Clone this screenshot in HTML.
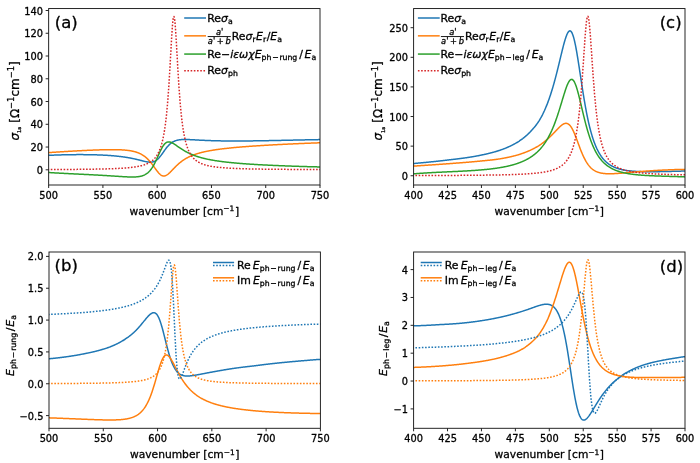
<!DOCTYPE html>
<html lang="en"><head><meta charset="utf-8"><title>figure</title>
<style>html,body{margin:0;padding:0;background:#fff}svg{display:block;will-change:transform}</style></head>
<body>
<svg width="700" height="463" viewBox="0 0 700 463" font-family='"DejaVu Sans","Liberation Sans",sans-serif' fill="#000">
<style>text{stroke:#000;stroke-width:0.3px;stroke-linejoin:round}</style>
<rect width="700" height="463" fill="#fff"/>
<defs>
<clipPath id="clipa"><rect x="48.65" y="8.55" width="271.35" height="176.45"/></clipPath>
<clipPath id="clipc"><rect x="413.6" y="8.55" width="271.40" height="176.45"/></clipPath>
<clipPath id="clipb"><rect x="49.0" y="252.0" width="271.40" height="176.30"/></clipPath>
<clipPath id="clipd"><rect x="413.6" y="252.0" width="271.40" height="176.30"/></clipPath>
</defs>
<path d="M47.56,155.40 L47.96,155.39 L48.35,155.37 L48.74,155.35 L49.13,155.33 L49.52,155.31 L49.91,155.30 L50.30,155.28 L50.70,155.26 L51.09,155.24 L51.48,155.23 L51.87,155.21 L52.26,155.19 L52.65,155.18 L53.04,155.16 L53.43,155.15 L53.83,155.13 L54.22,155.12 L54.61,155.10 L55.00,155.09 L55.39,155.07 L55.78,155.06 L56.17,155.04 L56.56,155.03 L56.96,155.02 L57.35,155.00 L57.74,154.99 L58.13,154.98 L58.52,154.97 L58.91,154.95 L59.30,154.94 L59.69,154.93 L60.09,154.92 L60.48,154.91 L60.87,154.89 L61.26,154.88 L61.65,154.87 L62.04,154.86 L62.43,154.85 L62.83,154.84 L63.22,154.83 L63.61,154.82 L64.00,154.81 L64.39,154.80 L64.78,154.79 L65.17,154.78 L65.56,154.78 L65.96,154.77 L66.35,154.76 L66.74,154.75 L67.13,154.74 L67.52,154.74 L67.91,154.73 L68.30,154.72 L68.69,154.71 L69.09,154.71 L69.48,154.70 L69.87,154.69 L70.26,154.69 L70.65,154.68 L71.04,154.68 L71.43,154.67 L71.83,154.67 L72.22,154.66 L72.61,154.66 L73.00,154.65 L73.39,154.65 L73.78,154.65 L74.17,154.64 L74.56,154.64 L74.96,154.63 L75.35,154.63 L75.74,154.63 L76.13,154.63 L76.52,154.62 L76.91,154.62 L77.30,154.62 L77.69,154.62 L78.09,154.62 L78.48,154.62 L78.87,154.62 L79.26,154.62 L79.65,154.61 L80.04,154.61 L80.43,154.61 L80.83,154.62 L81.22,154.62 L81.61,154.62 L82.00,154.62 L82.39,154.62 L82.78,154.62 L83.17,154.62 L83.56,154.63 L83.96,154.63 L84.35,154.63 L84.74,154.63 L85.13,154.64 L85.52,154.64 L85.91,154.64 L86.30,154.65 L86.69,154.65 L87.09,154.66 L87.48,154.66 L87.87,154.67 L88.26,154.67 L88.65,154.68 L89.04,154.69 L89.43,154.69 L89.83,154.70 L90.22,154.71 L90.61,154.71 L91.00,154.72 L91.39,154.73 L91.78,154.74 L92.17,154.75 L92.56,154.75 L92.96,154.76 L93.35,154.77 L93.74,154.78 L94.13,154.79 L94.52,154.80 L94.91,154.81 L95.30,154.83 L95.69,154.84 L96.09,154.85 L96.48,154.86 L96.87,154.87 L97.26,154.89 L97.65,154.90 L98.04,154.91 L98.43,154.93 L98.83,154.94 L99.22,154.96 L99.61,154.97 L100.00,154.99 L100.39,155.01 L100.78,155.02 L101.17,155.04 L101.56,155.06 L101.96,155.07 L102.35,155.09 L102.74,155.11 L103.13,155.13 L103.52,155.15 L103.91,155.17 L104.30,155.19 L104.69,155.21 L105.09,155.23 L105.48,155.25 L105.87,155.28 L106.26,155.30 L106.65,155.32 L107.04,155.35 L107.43,155.37 L107.83,155.39 L108.22,155.42 L108.61,155.45 L109.00,155.47 L109.39,155.50 L109.78,155.53 L110.17,155.55 L110.56,155.58 L110.96,155.61 L111.35,155.64 L111.74,155.67 L112.13,155.70 L112.52,155.74 L112.91,155.77 L113.30,155.80 L113.69,155.83 L114.09,155.87 L114.48,155.90 L114.87,155.94 L115.26,155.98 L115.65,156.01 L116.04,156.05 L116.43,156.09 L116.83,156.13 L117.22,156.17 L117.61,156.21 L118.00,156.25 L118.39,156.29 L118.78,156.34 L119.17,156.38 L119.56,156.43 L119.96,156.47 L120.35,156.52 L120.74,156.57 L121.13,156.62 L121.52,156.66 L121.91,156.71 L122.30,156.77 L122.69,156.82 L123.09,156.87 L123.48,156.93 L123.87,156.98 L124.26,157.04 L124.65,157.09 L125.04,157.15 L125.43,157.21 L125.83,157.27 L126.22,157.33 L126.61,157.39 L127.00,157.46 L127.39,157.52 L127.78,157.59 L128.17,157.66 L128.56,157.72 L128.96,157.79 L129.35,157.86 L129.74,157.94 L130.13,158.01 L130.52,158.08 L130.91,158.16 L131.30,158.23 L131.69,158.31 L132.09,158.39 L132.48,158.47 L132.87,158.55 L133.26,158.63 L133.65,158.72 L134.04,158.80 L134.43,158.89 L134.83,158.98 L135.22,159.06 L135.61,159.15 L136.00,159.25 L136.39,159.34 L136.78,159.43 L137.17,159.52 L137.56,159.62 L137.96,159.71 L138.35,159.81 L138.74,159.91 L139.13,160.01 L139.52,160.10 L139.91,160.20 L140.30,160.30 L140.69,160.40 L141.09,160.50 L141.48,160.60 L141.87,160.70 L142.26,160.80 L142.65,160.90 L143.04,160.99 L143.43,161.09 L143.83,161.18 L144.22,161.28 L144.61,161.37 L145.00,161.45 L145.39,161.54 L145.78,161.62 L146.17,161.70 L146.56,161.78 L146.96,161.85 L147.35,161.91 L147.74,161.97 L148.13,162.03 L148.52,162.07 L148.91,162.11 L149.30,162.14 L149.69,162.16 L150.09,162.17 L150.48,162.17 L150.87,162.16 L151.26,162.14 L151.65,162.10 L152.04,162.05 L152.43,161.98 L152.83,161.90 L153.22,161.80 L153.61,161.68 L154.00,161.54 L154.39,161.38 L154.78,161.21 L155.17,161.01 L155.56,160.78 L155.96,160.54 L156.35,160.27 L156.74,159.98 L157.13,159.67 L157.52,159.33 L157.91,158.97 L158.30,158.59 L158.69,158.19 L159.09,157.76 L159.48,157.32 L159.87,156.85 L160.26,156.37 L160.65,155.87 L161.04,155.36 L161.43,154.83 L161.83,154.30 L162.22,153.75 L162.61,153.20 L163.00,152.65 L163.39,152.09 L163.78,151.53 L164.17,150.98 L164.56,150.43 L164.96,149.88 L165.35,149.35 L165.74,148.82 L166.13,148.31 L166.52,147.80 L166.91,147.31 L167.30,146.84 L167.69,146.38 L168.09,145.94 L168.48,145.52 L168.87,145.11 L169.26,144.72 L169.65,144.35 L170.04,143.99 L170.43,143.66 L170.83,143.34 L171.22,143.04 L171.61,142.75 L172.00,142.48 L172.39,142.23 L172.78,142.00 L173.17,141.77 L173.56,141.57 L173.96,141.38 L174.35,141.20 L174.74,141.03 L175.13,140.87 L175.52,140.73 L175.91,140.60 L176.30,140.48 L176.69,140.37 L177.09,140.26 L177.48,140.17 L177.87,140.08 L178.26,140.01 L178.65,139.94 L179.04,139.87 L179.43,139.82 L179.83,139.77 L180.22,139.72 L180.61,139.68 L181.00,139.64 L181.39,139.61 L181.78,139.59 L182.17,139.57 L182.56,139.55 L182.96,139.53 L183.35,139.52 L183.74,139.51 L184.13,139.51 L184.52,139.50 L184.91,139.50 L185.30,139.50 L185.69,139.51 L186.09,139.51 L186.48,139.52 L186.87,139.53 L187.26,139.54 L187.65,139.55 L188.04,139.56 L188.43,139.57 L188.82,139.59 L189.22,139.60 L189.61,139.62 L190.00,139.64 L190.39,139.65 L190.78,139.67 L191.17,139.69 L191.56,139.71 L191.96,139.73 L192.35,139.75 L192.74,139.77 L193.13,139.79 L193.52,139.81 L193.91,139.83 L194.30,139.85 L194.69,139.87 L195.09,139.90 L195.48,139.92 L195.87,139.94 L196.26,139.96 L196.65,139.98 L197.04,140.00 L197.43,140.02 L197.82,140.04 L198.22,140.06 L198.61,140.09 L199.00,140.11 L199.39,140.13 L199.78,140.15 L200.17,140.17 L200.56,140.19 L200.96,140.21 L201.35,140.23 L201.74,140.25 L202.13,140.27 L202.52,140.28 L202.91,140.30 L203.30,140.32 L203.69,140.34 L204.09,140.36 L204.48,140.37 L204.87,140.39 L205.26,140.41 L205.65,140.43 L206.04,140.44 L206.43,140.46 L206.82,140.48 L207.22,140.49 L207.61,140.51 L208.00,140.52 L208.39,140.54 L208.78,140.55 L209.17,140.57 L209.56,140.58 L209.96,140.59 L210.35,140.61 L210.74,140.62 L211.13,140.63 L211.52,140.65 L211.91,140.66 L212.30,140.67 L212.69,140.68 L213.09,140.70 L213.48,140.71 L213.87,140.72 L214.26,140.73 L214.65,140.74 L215.04,140.75 L215.43,140.76 L215.82,140.77 L216.22,140.78 L216.61,140.79 L217.00,140.80 L217.39,140.81 L217.78,140.82 L218.17,140.83 L218.56,140.83 L218.96,140.84 L219.35,140.85 L219.74,140.86 L220.13,140.87 L220.52,140.87 L220.91,140.88 L221.30,140.89 L221.69,140.89 L222.09,140.90 L222.48,140.91 L222.87,140.91 L223.26,140.92 L223.65,140.92 L224.04,140.93 L224.43,140.93 L224.82,140.94 L225.22,140.94 L225.61,140.95 L226.00,140.95 L226.39,140.95 L226.78,140.96 L227.17,140.96 L227.56,140.97 L227.96,140.97 L228.35,140.97 L228.74,140.97 L229.13,140.98 L229.52,140.98 L229.91,140.98 L230.30,140.98 L230.69,140.99 L231.09,140.99 L231.48,140.99 L231.87,140.99 L232.26,140.99 L232.65,140.99 L233.04,141.00 L233.43,141.00 L233.82,141.00 L234.22,141.00 L234.61,141.00 L235.00,141.00 L235.39,141.00 L235.78,141.00 L236.17,141.00 L236.56,141.00 L236.96,141.00 L237.35,141.00 L237.74,141.00 L238.13,141.00 L238.52,140.99 L238.91,140.99 L239.30,140.99 L239.69,140.99 L240.09,140.99 L240.48,140.99 L240.87,140.99 L241.26,140.98 L241.65,140.98 L242.04,140.98 L242.43,140.98 L242.82,140.98 L243.22,140.97 L243.61,140.97 L244.00,140.97 L244.39,140.97 L244.78,140.96 L245.17,140.96 L245.56,140.96 L245.96,140.95 L246.35,140.95 L246.74,140.95 L247.13,140.94 L247.52,140.94 L247.91,140.94 L248.30,140.93 L248.69,140.93 L249.09,140.92 L249.48,140.92 L249.87,140.92 L250.26,140.91 L250.65,140.91 L251.04,140.90 L251.43,140.90 L251.82,140.89 L252.22,140.89 L252.61,140.88 L253.00,140.88 L253.39,140.87 L253.78,140.87 L254.17,140.86 L254.56,140.86 L254.96,140.85 L255.35,140.85 L255.74,140.84 L256.13,140.84 L256.52,140.83 L256.91,140.83 L257.30,140.82 L257.69,140.81 L258.09,140.81 L258.48,140.80 L258.87,140.80 L259.26,140.79 L259.65,140.79 L260.04,140.78 L260.43,140.77 L260.82,140.77 L261.22,140.76 L261.61,140.75 L262.00,140.75 L262.39,140.74 L262.78,140.73 L263.17,140.73 L263.56,140.72 L263.96,140.71 L264.35,140.71 L264.74,140.70 L265.13,140.69 L265.52,140.69 L265.91,140.68 L266.30,140.67 L266.69,140.67 L267.09,140.66 L267.48,140.65 L267.87,140.64 L268.26,140.64 L268.65,140.63 L269.04,140.62 L269.43,140.61 L269.82,140.61 L270.22,140.60 L270.61,140.59 L271.00,140.59 L271.39,140.58 L271.78,140.57 L272.17,140.56 L272.56,140.55 L272.96,140.55 L273.35,140.54 L273.74,140.53 L274.13,140.52 L274.52,140.52 L274.91,140.51 L275.30,140.50 L275.69,140.49 L276.09,140.48 L276.48,140.48 L276.87,140.47 L277.26,140.46 L277.65,140.45 L278.04,140.44 L278.43,140.44 L278.82,140.43 L279.22,140.42 L279.61,140.41 L280.00,140.40 L280.39,140.40 L280.78,140.39 L281.17,140.38 L281.56,140.37 L281.96,140.36 L282.35,140.35 L282.74,140.35 L283.13,140.34 L283.52,140.33 L283.91,140.32 L284.30,140.31 L284.69,140.30 L285.09,140.30 L285.48,140.29 L285.87,140.28 L286.26,140.27 L286.65,140.26 L287.04,140.25 L287.43,140.25 L287.82,140.24 L288.22,140.23 L288.61,140.22 L289.00,140.21 L289.39,140.20 L289.78,140.20 L290.17,140.19 L290.56,140.18 L290.96,140.17 L291.35,140.16 L291.74,140.15 L292.13,140.15 L292.52,140.14 L292.91,140.13 L293.30,140.12 L293.69,140.11 L294.09,140.10 L294.48,140.10 L294.87,140.09 L295.26,140.08 L295.65,140.07 L296.04,140.06 L296.43,140.05 L296.82,140.05 L297.22,140.04 L297.61,140.03 L298.00,140.02 L298.39,140.01 L298.78,140.00 L299.17,140.00 L299.56,139.99 L299.96,139.98 L300.35,139.97 L300.74,139.96 L301.13,139.96 L301.52,139.95 L301.91,139.94 L302.30,139.93 L302.69,139.92 L303.09,139.91 L303.48,139.91 L303.87,139.90 L304.26,139.89 L304.65,139.88 L305.04,139.87 L305.43,139.87 L305.82,139.86 L306.22,139.85 L306.61,139.84 L307.00,139.84 L307.39,139.83 L307.78,139.82 L308.17,139.81 L308.56,139.80 L308.96,139.80 L309.35,139.79 L309.74,139.78 L310.13,139.77 L310.52,139.77 L310.91,139.76 L311.30,139.75 L311.69,139.74 L312.09,139.74 L312.48,139.73 L312.87,139.72 L313.26,139.71 L313.65,139.71 L314.04,139.70 L314.43,139.69 L314.82,139.69 L315.22,139.68 L315.61,139.67 L316.00,139.66 L316.39,139.66 L316.78,139.65 L317.17,139.64 L317.56,139.64 L317.95,139.63 L318.35,139.62 L318.74,139.62 L319.13,139.61 L319.52,139.60 L319.91,139.60 L320.30,139.59 L320.69,139.58 L321.09,139.58" fill="none" stroke="#1f77b4" stroke-width="1.5" stroke-linejoin="round" clip-path="url(#clipa)"/>
<path d="M47.56,152.68 L47.96,152.65 L48.35,152.62 L48.74,152.60 L49.13,152.57 L49.52,152.54 L49.91,152.52 L50.30,152.49 L50.70,152.46 L51.09,152.44 L51.48,152.41 L51.87,152.39 L52.26,152.36 L52.65,152.33 L53.04,152.31 L53.43,152.28 L53.83,152.26 L54.22,152.23 L54.61,152.21 L55.00,152.18 L55.39,152.16 L55.78,152.13 L56.17,152.11 L56.56,152.08 L56.96,152.06 L57.35,152.03 L57.74,152.01 L58.13,151.98 L58.52,151.96 L58.91,151.93 L59.30,151.91 L59.69,151.88 L60.09,151.86 L60.48,151.83 L60.87,151.81 L61.26,151.79 L61.65,151.76 L62.04,151.74 L62.43,151.71 L62.83,151.69 L63.22,151.67 L63.61,151.64 L64.00,151.62 L64.39,151.59 L64.78,151.57 L65.17,151.55 L65.56,151.52 L65.96,151.50 L66.35,151.48 L66.74,151.45 L67.13,151.43 L67.52,151.41 L67.91,151.39 L68.30,151.36 L68.69,151.34 L69.09,151.32 L69.48,151.29 L69.87,151.27 L70.26,151.25 L70.65,151.23 L71.04,151.20 L71.43,151.18 L71.83,151.16 L72.22,151.14 L72.61,151.12 L73.00,151.09 L73.39,151.07 L73.78,151.05 L74.17,151.03 L74.56,151.01 L74.96,150.99 L75.35,150.97 L75.74,150.94 L76.13,150.92 L76.52,150.90 L76.91,150.88 L77.30,150.86 L77.69,150.84 L78.09,150.82 L78.48,150.80 L78.87,150.78 L79.26,150.76 L79.65,150.74 L80.04,150.72 L80.43,150.70 L80.83,150.68 L81.22,150.66 L81.61,150.64 L82.00,150.62 L82.39,150.60 L82.78,150.58 L83.17,150.56 L83.56,150.54 L83.96,150.52 L84.35,150.50 L84.74,150.48 L85.13,150.46 L85.52,150.44 L85.91,150.43 L86.30,150.41 L86.69,150.39 L87.09,150.37 L87.48,150.35 L87.87,150.33 L88.26,150.32 L88.65,150.30 L89.04,150.28 L89.43,150.26 L89.83,150.25 L90.22,150.23 L90.61,150.21 L91.00,150.20 L91.39,150.18 L91.78,150.16 L92.17,150.15 L92.56,150.13 L92.96,150.11 L93.35,150.10 L93.74,150.08 L94.13,150.07 L94.52,150.05 L94.91,150.04 L95.30,150.02 L95.69,150.01 L96.09,149.99 L96.48,149.98 L96.87,149.96 L97.26,149.95 L97.65,149.94 L98.04,149.92 L98.43,149.91 L98.83,149.90 L99.22,149.88 L99.61,149.87 L100.00,149.86 L100.39,149.85 L100.78,149.84 L101.17,149.82 L101.56,149.81 L101.96,149.80 L102.35,149.79 L102.74,149.78 L103.13,149.77 L103.52,149.76 L103.91,149.75 L104.30,149.74 L104.69,149.73 L105.09,149.73 L105.48,149.72 L105.87,149.71 L106.26,149.70 L106.65,149.70 L107.04,149.69 L107.43,149.68 L107.83,149.68 L108.22,149.67 L108.61,149.67 L109.00,149.66 L109.39,149.66 L109.78,149.65 L110.17,149.65 L110.56,149.65 L110.96,149.65 L111.35,149.65 L111.74,149.64 L112.13,149.64 L112.52,149.64 L112.91,149.64 L113.30,149.65 L113.69,149.65 L114.09,149.65 L114.48,149.65 L114.87,149.66 L115.26,149.66 L115.65,149.67 L116.04,149.68 L116.43,149.68 L116.83,149.69 L117.22,149.70 L117.61,149.71 L118.00,149.72 L118.39,149.73 L118.78,149.74 L119.17,149.76 L119.56,149.77 L119.96,149.79 L120.35,149.80 L120.74,149.82 L121.13,149.84 L121.52,149.86 L121.91,149.88 L122.30,149.91 L122.69,149.93 L123.09,149.96 L123.48,149.98 L123.87,150.01 L124.26,150.04 L124.65,150.07 L125.04,150.11 L125.43,150.14 L125.83,150.18 L126.22,150.22 L126.61,150.26 L127.00,150.30 L127.39,150.35 L127.78,150.39 L128.17,150.44 L128.56,150.50 L128.96,150.55 L129.35,150.61 L129.74,150.67 L130.13,150.73 L130.52,150.79 L130.91,150.86 L131.30,150.93 L131.69,151.01 L132.09,151.08 L132.48,151.16 L132.87,151.25 L133.26,151.34 L133.65,151.43 L134.04,151.52 L134.43,151.62 L134.83,151.73 L135.22,151.84 L135.61,151.95 L136.00,152.07 L136.39,152.19 L136.78,152.32 L137.17,152.46 L137.56,152.60 L137.96,152.74 L138.35,152.90 L138.74,153.06 L139.13,153.22 L139.52,153.39 L139.91,153.57 L140.30,153.76 L140.69,153.95 L141.09,154.16 L141.48,154.37 L141.87,154.59 L142.26,154.81 L142.65,155.05 L143.04,155.30 L143.43,155.55 L143.83,155.82 L144.22,156.10 L144.61,156.38 L145.00,156.68 L145.39,156.99 L145.78,157.31 L146.17,157.64 L146.56,157.99 L146.96,158.35 L147.35,158.72 L147.74,159.10 L148.13,159.49 L148.52,159.90 L148.91,160.32 L149.30,160.75 L149.69,161.19 L150.09,161.65 L150.48,162.12 L150.87,162.60 L151.26,163.09 L151.65,163.59 L152.04,164.10 L152.43,164.62 L152.83,165.15 L153.22,165.69 L153.61,166.23 L154.00,166.77 L154.39,167.32 L154.78,167.87 L155.17,168.42 L155.56,168.97 L155.96,169.51 L156.35,170.04 L156.74,170.57 L157.13,171.08 L157.52,171.59 L157.91,172.07 L158.30,172.54 L158.69,172.98 L159.09,173.40 L159.48,173.80 L159.87,174.17 L160.26,174.51 L160.65,174.81 L161.04,175.09 L161.43,175.32 L161.83,175.53 L162.22,175.69 L162.61,175.82 L163.00,175.92 L163.39,175.97 L163.78,175.99 L164.17,175.98 L164.56,175.92 L164.96,175.84 L165.35,175.72 L165.74,175.56 L166.13,175.38 L166.52,175.17 L166.91,174.94 L167.30,174.68 L167.69,174.40 L168.09,174.09 L168.48,173.77 L168.87,173.43 L169.26,173.08 L169.65,172.72 L170.04,172.34 L170.43,171.96 L170.83,171.56 L171.22,171.16 L171.61,170.76 L172.00,170.35 L172.39,169.95 L172.78,169.54 L173.17,169.13 L173.56,168.72 L173.96,168.31 L174.35,167.91 L174.74,167.51 L175.13,167.11 L175.52,166.72 L175.91,166.33 L176.30,165.95 L176.69,165.57 L177.09,165.20 L177.48,164.84 L177.87,164.48 L178.26,164.13 L178.65,163.78 L179.04,163.44 L179.43,163.11 L179.83,162.78 L180.22,162.47 L180.61,162.15 L181.00,161.85 L181.39,161.55 L181.78,161.26 L182.17,160.97 L182.56,160.69 L182.96,160.42 L183.35,160.15 L183.74,159.89 L184.13,159.64 L184.52,159.39 L184.91,159.14 L185.30,158.90 L185.69,158.67 L186.09,158.44 L186.48,158.22 L186.87,158.01 L187.26,157.79 L187.65,157.59 L188.04,157.38 L188.43,157.19 L188.82,156.99 L189.22,156.80 L189.61,156.62 L190.00,156.44 L190.39,156.26 L190.78,156.09 L191.17,155.92 L191.56,155.75 L191.96,155.59 L192.35,155.43 L192.74,155.27 L193.13,155.12 L193.52,154.97 L193.91,154.83 L194.30,154.68 L194.69,154.54 L195.09,154.41 L195.48,154.27 L195.87,154.14 L196.26,154.01 L196.65,153.88 L197.04,153.76 L197.43,153.64 L197.82,153.52 L198.22,153.40 L198.61,153.29 L199.00,153.17 L199.39,153.06 L199.78,152.95 L200.17,152.85 L200.56,152.74 L200.96,152.64 L201.35,152.54 L201.74,152.44 L202.13,152.34 L202.52,152.24 L202.91,152.15 L203.30,152.06 L203.69,151.97 L204.09,151.88 L204.48,151.79 L204.87,151.70 L205.26,151.62 L205.65,151.53 L206.04,151.45 L206.43,151.37 L206.82,151.29 L207.22,151.21 L207.61,151.13 L208.00,151.05 L208.39,150.98 L208.78,150.90 L209.17,150.83 L209.56,150.76 L209.96,150.69 L210.35,150.62 L210.74,150.55 L211.13,150.48 L211.52,150.41 L211.91,150.35 L212.30,150.28 L212.69,150.22 L213.09,150.15 L213.48,150.09 L213.87,150.03 L214.26,149.97 L214.65,149.91 L215.04,149.85 L215.43,149.79 L215.82,149.73 L216.22,149.67 L216.61,149.61 L217.00,149.56 L217.39,149.50 L217.78,149.45 L218.17,149.39 L218.56,149.34 L218.96,149.29 L219.35,149.23 L219.74,149.18 L220.13,149.13 L220.52,149.08 L220.91,149.03 L221.30,148.98 L221.69,148.93 L222.09,148.88 L222.48,148.83 L222.87,148.79 L223.26,148.74 L223.65,148.69 L224.04,148.65 L224.43,148.60 L224.82,148.56 L225.22,148.51 L225.61,148.47 L226.00,148.42 L226.39,148.38 L226.78,148.34 L227.17,148.29 L227.56,148.25 L227.96,148.21 L228.35,148.17 L228.74,148.13 L229.13,148.09 L229.52,148.04 L229.91,148.00 L230.30,147.97 L230.69,147.93 L231.09,147.89 L231.48,147.85 L231.87,147.81 L232.26,147.77 L232.65,147.73 L233.04,147.70 L233.43,147.66 L233.82,147.62 L234.22,147.59 L234.61,147.55 L235.00,147.51 L235.39,147.48 L235.78,147.44 L236.17,147.41 L236.56,147.37 L236.96,147.34 L237.35,147.30 L237.74,147.27 L238.13,147.23 L238.52,147.20 L238.91,147.17 L239.30,147.13 L239.69,147.10 L240.09,147.07 L240.48,147.03 L240.87,147.00 L241.26,146.97 L241.65,146.94 L242.04,146.91 L242.43,146.87 L242.82,146.84 L243.22,146.81 L243.61,146.78 L244.00,146.75 L244.39,146.72 L244.78,146.69 L245.17,146.66 L245.56,146.63 L245.96,146.60 L246.35,146.57 L246.74,146.54 L247.13,146.51 L247.52,146.48 L247.91,146.45 L248.30,146.42 L248.69,146.40 L249.09,146.37 L249.48,146.34 L249.87,146.31 L250.26,146.28 L250.65,146.26 L251.04,146.23 L251.43,146.20 L251.82,146.17 L252.22,146.15 L252.61,146.12 L253.00,146.09 L253.39,146.07 L253.78,146.04 L254.17,146.01 L254.56,145.99 L254.96,145.96 L255.35,145.93 L255.74,145.91 L256.13,145.88 L256.52,145.86 L256.91,145.83 L257.30,145.80 L257.69,145.78 L258.09,145.75 L258.48,145.73 L258.87,145.70 L259.26,145.68 L259.65,145.65 L260.04,145.63 L260.43,145.61 L260.82,145.58 L261.22,145.56 L261.61,145.53 L262.00,145.51 L262.39,145.48 L262.78,145.46 L263.17,145.44 L263.56,145.41 L263.96,145.39 L264.35,145.37 L264.74,145.34 L265.13,145.32 L265.52,145.30 L265.91,145.27 L266.30,145.25 L266.69,145.23 L267.09,145.21 L267.48,145.18 L267.87,145.16 L268.26,145.14 L268.65,145.12 L269.04,145.09 L269.43,145.07 L269.82,145.05 L270.22,145.03 L270.61,145.00 L271.00,144.98 L271.39,144.96 L271.78,144.94 L272.17,144.92 L272.56,144.90 L272.96,144.87 L273.35,144.85 L273.74,144.83 L274.13,144.81 L274.52,144.79 L274.91,144.77 L275.30,144.75 L275.69,144.73 L276.09,144.71 L276.48,144.69 L276.87,144.67 L277.26,144.64 L277.65,144.62 L278.04,144.60 L278.43,144.58 L278.82,144.56 L279.22,144.54 L279.61,144.52 L280.00,144.50 L280.39,144.48 L280.78,144.46 L281.17,144.44 L281.56,144.42 L281.96,144.40 L282.35,144.38 L282.74,144.36 L283.13,144.35 L283.52,144.33 L283.91,144.31 L284.30,144.29 L284.69,144.27 L285.09,144.25 L285.48,144.23 L285.87,144.21 L286.26,144.19 L286.65,144.17 L287.04,144.15 L287.43,144.14 L287.82,144.12 L288.22,144.10 L288.61,144.08 L289.00,144.06 L289.39,144.04 L289.78,144.02 L290.17,144.01 L290.56,143.99 L290.96,143.97 L291.35,143.95 L291.74,143.93 L292.13,143.92 L292.52,143.90 L292.91,143.88 L293.30,143.86 L293.69,143.84 L294.09,143.83 L294.48,143.81 L294.87,143.79 L295.26,143.77 L295.65,143.76 L296.04,143.74 L296.43,143.72 L296.82,143.70 L297.22,143.69 L297.61,143.67 L298.00,143.65 L298.39,143.64 L298.78,143.62 L299.17,143.60 L299.56,143.58 L299.96,143.57 L300.35,143.55 L300.74,143.53 L301.13,143.52 L301.52,143.50 L301.91,143.48 L302.30,143.47 L302.69,143.45 L303.09,143.44 L303.48,143.42 L303.87,143.40 L304.26,143.39 L304.65,143.37 L305.04,143.35 L305.43,143.34 L305.82,143.32 L306.22,143.31 L306.61,143.29 L307.00,143.27 L307.39,143.26 L307.78,143.24 L308.17,143.23 L308.56,143.21 L308.96,143.20 L309.35,143.18 L309.74,143.16 L310.13,143.15 L310.52,143.13 L310.91,143.12 L311.30,143.10 L311.69,143.09 L312.09,143.07 L312.48,143.06 L312.87,143.04 L313.26,143.03 L313.65,143.01 L314.04,143.00 L314.43,142.98 L314.82,142.97 L315.22,142.95 L315.61,142.94 L316.00,142.92 L316.39,142.91 L316.78,142.89 L317.17,142.88 L317.56,142.86 L317.95,142.85 L318.35,142.84 L318.74,142.82 L319.13,142.81 L319.52,142.79 L319.91,142.78 L320.30,142.76 L320.69,142.75 L321.09,142.74" fill="none" stroke="#ff7f0e" stroke-width="1.5" stroke-linejoin="round" clip-path="url(#clipa)"/>
<path d="M47.56,172.44 L47.96,172.47 L48.35,172.49 L48.74,172.52 L49.13,172.54 L49.52,172.57 L49.91,172.59 L50.30,172.62 L50.70,172.64 L51.09,172.67 L51.48,172.69 L51.87,172.71 L52.26,172.74 L52.65,172.76 L53.04,172.78 L53.43,172.81 L53.83,172.83 L54.22,172.85 L54.61,172.88 L55.00,172.90 L55.39,172.92 L55.78,172.94 L56.17,172.97 L56.56,172.99 L56.96,173.01 L57.35,173.03 L57.74,173.06 L58.13,173.08 L58.52,173.10 L58.91,173.12 L59.30,173.14 L59.69,173.16 L60.09,173.19 L60.48,173.21 L60.87,173.23 L61.26,173.25 L61.65,173.27 L62.04,173.29 L62.43,173.31 L62.83,173.33 L63.22,173.35 L63.61,173.37 L64.00,173.39 L64.39,173.42 L64.78,173.44 L65.17,173.46 L65.56,173.48 L65.96,173.50 L66.35,173.52 L66.74,173.54 L67.13,173.56 L67.52,173.58 L67.91,173.60 L68.30,173.62 L68.69,173.64 L69.09,173.66 L69.48,173.68 L69.87,173.70 L70.26,173.71 L70.65,173.73 L71.04,173.75 L71.43,173.77 L71.83,173.79 L72.22,173.81 L72.61,173.83 L73.00,173.85 L73.39,173.87 L73.78,173.89 L74.17,173.91 L74.56,173.93 L74.96,173.95 L75.35,173.97 L75.74,173.99 L76.13,174.01 L76.52,174.02 L76.91,174.04 L77.30,174.06 L77.69,174.08 L78.09,174.10 L78.48,174.12 L78.87,174.14 L79.26,174.16 L79.65,174.18 L80.04,174.20 L80.43,174.22 L80.83,174.24 L81.22,174.25 L81.61,174.27 L82.00,174.29 L82.39,174.31 L82.78,174.33 L83.17,174.35 L83.56,174.37 L83.96,174.39 L84.35,174.41 L84.74,174.43 L85.13,174.45 L85.52,174.47 L85.91,174.49 L86.30,174.51 L86.69,174.53 L87.09,174.54 L87.48,174.56 L87.87,174.58 L88.26,174.60 L88.65,174.62 L89.04,174.64 L89.43,174.66 L89.83,174.68 L90.22,174.70 L90.61,174.72 L91.00,174.74 L91.39,174.76 L91.78,174.78 L92.17,174.80 L92.56,174.82 L92.96,174.84 L93.35,174.87 L93.74,174.89 L94.13,174.91 L94.52,174.93 L94.91,174.95 L95.30,174.97 L95.69,174.99 L96.09,175.01 L96.48,175.03 L96.87,175.05 L97.26,175.07 L97.65,175.10 L98.04,175.12 L98.43,175.14 L98.83,175.16 L99.22,175.18 L99.61,175.20 L100.00,175.23 L100.39,175.25 L100.78,175.27 L101.17,175.29 L101.56,175.32 L101.96,175.34 L102.35,175.36 L102.74,175.38 L103.13,175.41 L103.52,175.43 L103.91,175.45 L104.30,175.47 L104.69,175.50 L105.09,175.52 L105.48,175.54 L105.87,175.57 L106.26,175.59 L106.65,175.61 L107.04,175.64 L107.43,175.66 L107.83,175.69 L108.22,175.71 L108.61,175.73 L109.00,175.76 L109.39,175.78 L109.78,175.81 L110.17,175.83 L110.56,175.86 L110.96,175.88 L111.35,175.91 L111.74,175.93 L112.13,175.96 L112.52,175.98 L112.91,176.01 L113.30,176.03 L113.69,176.06 L114.09,176.08 L114.48,176.11 L114.87,176.13 L115.26,176.16 L115.65,176.18 L116.04,176.21 L116.43,176.23 L116.83,176.26 L117.22,176.29 L117.61,176.31 L118.00,176.34 L118.39,176.36 L118.78,176.39 L119.17,176.41 L119.56,176.44 L119.96,176.46 L120.35,176.49 L120.74,176.51 L121.13,176.53 L121.52,176.56 L121.91,176.58 L122.30,176.61 L122.69,176.63 L123.09,176.65 L123.48,176.68 L123.87,176.70 L124.26,176.72 L124.65,176.74 L125.04,176.76 L125.43,176.78 L125.83,176.80 L126.22,176.82 L126.61,176.84 L127.00,176.86 L127.39,176.88 L127.78,176.89 L128.17,176.91 L128.56,176.92 L128.96,176.94 L129.35,176.95 L129.74,176.96 L130.13,176.97 L130.52,176.98 L130.91,176.99 L131.30,176.99 L131.69,177.00 L132.09,177.00 L132.48,177.00 L132.87,177.00 L133.26,177.00 L133.65,176.99 L134.04,176.98 L134.43,176.97 L134.83,176.96 L135.22,176.94 L135.61,176.92 L136.00,176.89 L136.39,176.87 L136.78,176.84 L137.17,176.80 L137.56,176.76 L137.96,176.72 L138.35,176.67 L138.74,176.61 L139.13,176.55 L139.52,176.49 L139.91,176.41 L140.30,176.33 L140.69,176.25 L141.09,176.15 L141.48,176.05 L141.87,175.94 L142.26,175.82 L142.65,175.69 L143.04,175.55 L143.43,175.40 L143.83,175.24 L144.22,175.06 L144.61,174.88 L145.00,174.68 L145.39,174.46 L145.78,174.23 L146.17,173.98 L146.56,173.72 L146.96,173.44 L147.35,173.14 L147.74,172.83 L148.13,172.49 L148.52,172.13 L148.91,171.75 L149.30,171.35 L149.69,170.92 L150.09,170.47 L150.48,170.00 L150.87,169.50 L151.26,168.98 L151.65,168.42 L152.04,167.85 L152.43,167.24 L152.83,166.61 L153.22,165.95 L153.61,165.26 L154.00,164.55 L154.39,163.82 L154.78,163.06 L155.17,162.28 L155.56,161.47 L155.96,160.65 L156.35,159.81 L156.74,158.96 L157.13,158.09 L157.52,157.22 L157.91,156.34 L158.30,155.46 L158.69,154.58 L159.09,153.70 L159.48,152.84 L159.87,151.98 L160.26,151.15 L160.65,150.34 L161.04,149.55 L161.43,148.79 L161.83,148.06 L162.22,147.36 L162.61,146.70 L163.00,146.08 L163.39,145.51 L163.78,144.97 L164.17,144.48 L164.56,144.04 L164.96,143.64 L165.35,143.28 L165.74,142.97 L166.13,142.70 L166.52,142.47 L166.91,142.29 L167.30,142.14 L167.69,142.04 L168.09,141.97 L168.48,141.93 L168.87,141.93 L169.26,141.95 L169.65,142.01 L170.04,142.09 L170.43,142.19 L170.83,142.32 L171.22,142.47 L171.61,142.63 L172.00,142.82 L172.39,143.01 L172.78,143.22 L173.17,143.44 L173.56,143.67 L173.96,143.91 L174.35,144.16 L174.74,144.42 L175.13,144.67 L175.52,144.94 L175.91,145.20 L176.30,145.47 L176.69,145.74 L177.09,146.02 L177.48,146.29 L177.87,146.56 L178.26,146.83 L178.65,147.11 L179.04,147.38 L179.43,147.64 L179.83,147.91 L180.22,148.17 L180.61,148.43 L181.00,148.69 L181.39,148.95 L181.78,149.20 L182.17,149.45 L182.56,149.69 L182.96,149.94 L183.35,150.18 L183.74,150.41 L184.13,150.64 L184.52,150.87 L184.91,151.10 L185.30,151.32 L185.69,151.53 L186.09,151.75 L186.48,151.96 L186.87,152.16 L187.26,152.37 L187.65,152.57 L188.04,152.76 L188.43,152.95 L188.82,153.14 L189.22,153.33 L189.61,153.51 L190.00,153.69 L190.39,153.87 L190.78,154.04 L191.17,154.21 L191.56,154.37 L191.96,154.54 L192.35,154.70 L192.74,154.86 L193.13,155.01 L193.52,155.16 L193.91,155.31 L194.30,155.46 L194.69,155.60 L195.09,155.74 L195.48,155.88 L195.87,156.02 L196.26,156.15 L196.65,156.29 L197.04,156.42 L197.43,156.54 L197.82,156.67 L198.22,156.79 L198.61,156.91 L199.00,157.03 L199.39,157.15 L199.78,157.26 L200.17,157.38 L200.56,157.49 L200.96,157.60 L201.35,157.70 L201.74,157.81 L202.13,157.91 L202.52,158.01 L202.91,158.12 L203.30,158.21 L203.69,158.31 L204.09,158.41 L204.48,158.50 L204.87,158.59 L205.26,158.69 L205.65,158.78 L206.04,158.86 L206.43,158.95 L206.82,159.04 L207.22,159.12 L207.61,159.20 L208.00,159.29 L208.39,159.37 L208.78,159.45 L209.17,159.53 L209.56,159.60 L209.96,159.68 L210.35,159.75 L210.74,159.83 L211.13,159.90 L211.52,159.97 L211.91,160.04 L212.30,160.11 L212.69,160.18 L213.09,160.25 L213.48,160.32 L213.87,160.38 L214.26,160.45 L214.65,160.51 L215.04,160.58 L215.43,160.64 L215.82,160.70 L216.22,160.76 L216.61,160.82 L217.00,160.88 L217.39,160.94 L217.78,161.00 L218.17,161.06 L218.56,161.11 L218.96,161.17 L219.35,161.22 L219.74,161.28 L220.13,161.33 L220.52,161.38 L220.91,161.44 L221.30,161.49 L221.69,161.54 L222.09,161.59 L222.48,161.64 L222.87,161.69 L223.26,161.74 L223.65,161.79 L224.04,161.83 L224.43,161.88 L224.82,161.93 L225.22,161.97 L225.61,162.02 L226.00,162.06 L226.39,162.11 L226.78,162.15 L227.17,162.20 L227.56,162.24 L227.96,162.28 L228.35,162.32 L228.74,162.37 L229.13,162.41 L229.52,162.45 L229.91,162.49 L230.30,162.53 L230.69,162.57 L231.09,162.61 L231.48,162.65 L231.87,162.69 L232.26,162.72 L232.65,162.76 L233.04,162.80 L233.43,162.84 L233.82,162.87 L234.22,162.91 L234.61,162.94 L235.00,162.98 L235.39,163.02 L235.78,163.05 L236.17,163.08 L236.56,163.12 L236.96,163.15 L237.35,163.19 L237.74,163.22 L238.13,163.25 L238.52,163.29 L238.91,163.32 L239.30,163.35 L239.69,163.38 L240.09,163.41 L240.48,163.45 L240.87,163.48 L241.26,163.51 L241.65,163.54 L242.04,163.57 L242.43,163.60 L242.82,163.63 L243.22,163.66 L243.61,163.69 L244.00,163.72 L244.39,163.74 L244.78,163.77 L245.17,163.80 L245.56,163.83 L245.96,163.86 L246.35,163.89 L246.74,163.91 L247.13,163.94 L247.52,163.97 L247.91,163.99 L248.30,164.02 L248.69,164.05 L249.09,164.07 L249.48,164.10 L249.87,164.13 L250.26,164.15 L250.65,164.18 L251.04,164.20 L251.43,164.23 L251.82,164.25 L252.22,164.28 L252.61,164.30 L253.00,164.33 L253.39,164.35 L253.78,164.37 L254.17,164.40 L254.56,164.42 L254.96,164.45 L255.35,164.47 L255.74,164.49 L256.13,164.51 L256.52,164.54 L256.91,164.56 L257.30,164.58 L257.69,164.61 L258.09,164.63 L258.48,164.65 L258.87,164.67 L259.26,164.69 L259.65,164.72 L260.04,164.74 L260.43,164.76 L260.82,164.78 L261.22,164.80 L261.61,164.82 L262.00,164.84 L262.39,164.86 L262.78,164.89 L263.17,164.91 L263.56,164.93 L263.96,164.95 L264.35,164.97 L264.74,164.99 L265.13,165.01 L265.52,165.03 L265.91,165.05 L266.30,165.07 L266.69,165.09 L267.09,165.11 L267.48,165.12 L267.87,165.14 L268.26,165.16 L268.65,165.18 L269.04,165.20 L269.43,165.22 L269.82,165.24 L270.22,165.26 L270.61,165.27 L271.00,165.29 L271.39,165.31 L271.78,165.33 L272.17,165.35 L272.56,165.36 L272.96,165.38 L273.35,165.40 L273.74,165.42 L274.13,165.44 L274.52,165.45 L274.91,165.47 L275.30,165.49 L275.69,165.50 L276.09,165.52 L276.48,165.54 L276.87,165.56 L277.26,165.57 L277.65,165.59 L278.04,165.61 L278.43,165.62 L278.82,165.64 L279.22,165.65 L279.61,165.67 L280.00,165.69 L280.39,165.70 L280.78,165.72 L281.17,165.73 L281.56,165.75 L281.96,165.77 L282.35,165.78 L282.74,165.80 L283.13,165.81 L283.52,165.83 L283.91,165.84 L284.30,165.86 L284.69,165.87 L285.09,165.89 L285.48,165.90 L285.87,165.92 L286.26,165.93 L286.65,165.95 L287.04,165.96 L287.43,165.98 L287.82,165.99 L288.22,166.01 L288.61,166.02 L289.00,166.04 L289.39,166.05 L289.78,166.06 L290.17,166.08 L290.56,166.09 L290.96,166.11 L291.35,166.12 L291.74,166.13 L292.13,166.15 L292.52,166.16 L292.91,166.17 L293.30,166.19 L293.69,166.20 L294.09,166.21 L294.48,166.23 L294.87,166.24 L295.26,166.25 L295.65,166.27 L296.04,166.28 L296.43,166.29 L296.82,166.31 L297.22,166.32 L297.61,166.33 L298.00,166.34 L298.39,166.36 L298.78,166.37 L299.17,166.38 L299.56,166.39 L299.96,166.41 L300.35,166.42 L300.74,166.43 L301.13,166.44 L301.52,166.45 L301.91,166.47 L302.30,166.48 L302.69,166.49 L303.09,166.50 L303.48,166.51 L303.87,166.53 L304.26,166.54 L304.65,166.55 L305.04,166.56 L305.43,166.57 L305.82,166.58 L306.22,166.59 L306.61,166.61 L307.00,166.62 L307.39,166.63 L307.78,166.64 L308.17,166.65 L308.56,166.66 L308.96,166.67 L309.35,166.68 L309.74,166.69 L310.13,166.70 L310.52,166.71 L310.91,166.72 L311.30,166.73 L311.69,166.74 L312.09,166.75 L312.48,166.76 L312.87,166.77 L313.26,166.78 L313.65,166.79 L314.04,166.80 L314.43,166.81 L314.82,166.82 L315.22,166.83 L315.61,166.84 L316.00,166.85 L316.39,166.86 L316.78,166.87 L317.17,166.88 L317.56,166.89 L317.95,166.90 L318.35,166.91 L318.74,166.92 L319.13,166.93 L319.52,166.94 L319.91,166.94 L320.30,166.95 L320.69,166.96 L321.09,166.97" fill="none" stroke="#2ca02c" stroke-width="1.5" stroke-linejoin="round" clip-path="url(#clipa)"/>
<path d="M47.56,169.56 L47.96,169.56 L48.35,169.56 L48.74,169.56 L49.13,169.56 L49.52,169.56 L49.91,169.55 L50.30,169.55 L50.70,169.55 L51.09,169.55 L51.48,169.55 L51.87,169.54 L52.26,169.54 L52.65,169.54 L53.04,169.54 L53.43,169.54 L53.83,169.54 L54.22,169.53 L54.61,169.53 L55.00,169.53 L55.39,169.53 L55.78,169.53 L56.17,169.52 L56.56,169.52 L56.96,169.52 L57.35,169.52 L57.74,169.52 L58.13,169.51 L58.52,169.51 L58.91,169.51 L59.30,169.51 L59.69,169.50 L60.09,169.50 L60.48,169.50 L60.87,169.50 L61.26,169.49 L61.65,169.49 L62.04,169.49 L62.43,169.49 L62.83,169.49 L63.22,169.48 L63.61,169.48 L64.00,169.48 L64.39,169.48 L64.78,169.47 L65.17,169.47 L65.56,169.47 L65.96,169.46 L66.35,169.46 L66.74,169.46 L67.13,169.46 L67.52,169.45 L67.91,169.45 L68.30,169.45 L68.69,169.45 L69.09,169.44 L69.48,169.44 L69.87,169.44 L70.26,169.43 L70.65,169.43 L71.04,169.43 L71.43,169.42 L71.83,169.42 L72.22,169.42 L72.61,169.41 L73.00,169.41 L73.39,169.41 L73.78,169.40 L74.17,169.40 L74.56,169.40 L74.96,169.39 L75.35,169.39 L75.74,169.39 L76.13,169.38 L76.52,169.38 L76.91,169.38 L77.30,169.37 L77.69,169.37 L78.09,169.36 L78.48,169.36 L78.87,169.36 L79.26,169.35 L79.65,169.35 L80.04,169.34 L80.43,169.34 L80.83,169.34 L81.22,169.33 L81.61,169.33 L82.00,169.32 L82.39,169.32 L82.78,169.31 L83.17,169.31 L83.56,169.31 L83.96,169.30 L84.35,169.30 L84.74,169.29 L85.13,169.29 L85.52,169.28 L85.91,169.28 L86.30,169.27 L86.69,169.27 L87.09,169.26 L87.48,169.26 L87.87,169.25 L88.26,169.25 L88.65,169.24 L89.04,169.23 L89.43,169.23 L89.83,169.22 L90.22,169.22 L90.61,169.21 L91.00,169.21 L91.39,169.20 L91.78,169.19 L92.17,169.19 L92.56,169.18 L92.96,169.17 L93.35,169.17 L93.74,169.16 L94.13,169.15 L94.52,169.15 L94.91,169.14 L95.30,169.13 L95.69,169.13 L96.09,169.12 L96.48,169.11 L96.87,169.10 L97.26,169.10 L97.65,169.09 L98.04,169.08 L98.43,169.07 L98.83,169.06 L99.22,169.06 L99.61,169.05 L100.00,169.04 L100.39,169.03 L100.78,169.02 L101.17,169.01 L101.56,169.00 L101.96,169.00 L102.35,168.99 L102.74,168.98 L103.13,168.97 L103.52,168.96 L103.91,168.95 L104.30,168.94 L104.69,168.93 L105.09,168.92 L105.48,168.91 L105.87,168.89 L106.26,168.88 L106.65,168.87 L107.04,168.86 L107.43,168.85 L107.83,168.84 L108.22,168.83 L108.61,168.81 L109.00,168.80 L109.39,168.79 L109.78,168.77 L110.17,168.76 L110.56,168.75 L110.96,168.73 L111.35,168.72 L111.74,168.71 L112.13,168.69 L112.52,168.68 L112.91,168.66 L113.30,168.65 L113.69,168.63 L114.09,168.61 L114.48,168.60 L114.87,168.58 L115.26,168.56 L115.65,168.55 L116.04,168.53 L116.43,168.51 L116.83,168.49 L117.22,168.47 L117.61,168.45 L118.00,168.43 L118.39,168.41 L118.78,168.39 L119.17,168.37 L119.56,168.35 L119.96,168.33 L120.35,168.31 L120.74,168.28 L121.13,168.26 L121.52,168.24 L121.91,168.21 L122.30,168.19 L122.69,168.16 L123.09,168.14 L123.48,168.11 L123.87,168.08 L124.26,168.05 L124.65,168.02 L125.04,168.00 L125.43,167.97 L125.83,167.93 L126.22,167.90 L126.61,167.87 L127.00,167.84 L127.39,167.80 L127.78,167.77 L128.17,167.73 L128.56,167.70 L128.96,167.66 L129.35,167.62 L129.74,167.58 L130.13,167.54 L130.52,167.50 L130.91,167.45 L131.30,167.41 L131.69,167.36 L132.09,167.32 L132.48,167.27 L132.87,167.22 L133.26,167.17 L133.65,167.12 L134.04,167.06 L134.43,167.01 L134.83,166.95 L135.22,166.89 L135.61,166.83 L136.00,166.77 L136.39,166.70 L136.78,166.64 L137.17,166.57 L137.56,166.50 L137.96,166.43 L138.35,166.35 L138.74,166.27 L139.13,166.19 L139.52,166.11 L139.91,166.02 L140.30,165.94 L140.69,165.84 L141.09,165.75 L141.48,165.65 L141.87,165.55 L142.26,165.44 L142.65,165.33 L143.04,165.22 L143.43,165.10 L143.83,164.98 L144.22,164.85 L144.61,164.72 L145.00,164.58 L145.39,164.44 L145.78,164.29 L146.17,164.14 L146.56,163.98 L146.96,163.81 L147.35,163.64 L147.74,163.45 L148.13,163.26 L148.52,163.06 L148.91,162.86 L149.30,162.64 L149.69,162.41 L150.09,162.18 L150.48,161.93 L150.87,161.67 L151.26,161.39 L151.65,161.11 L152.04,160.80 L152.43,160.49 L152.83,160.15 L153.22,159.80 L153.61,159.43 L154.00,159.04 L154.39,158.63 L154.78,158.20 L155.17,157.74 L155.56,157.25 L155.96,156.74 L156.35,156.19 L156.74,155.61 L157.13,155.00 L157.52,154.34 L157.91,153.65 L158.30,152.90 L158.69,152.11 L159.09,151.27 L159.48,150.36 L159.87,149.40 L160.26,148.36 L160.65,147.25 L161.04,146.05 L161.43,144.77 L161.83,143.38 L162.22,141.89 L162.61,140.28 L163.00,138.54 L163.39,136.66 L163.78,134.62 L164.17,132.41 L164.56,130.00 L164.96,127.40 L165.35,124.56 L165.74,121.48 L166.13,118.13 L166.52,114.49 L166.91,110.53 L167.30,106.23 L167.69,101.58 L168.09,96.55 L168.48,91.14 L168.87,85.35 L169.26,79.18 L169.65,72.68 L170.04,65.89 L170.43,58.90 L170.83,51.83 L171.22,44.84 L171.61,38.12 L172.00,31.89 L172.39,26.42 L172.78,21.94 L173.17,18.69 L173.56,16.83 L173.96,16.47 L174.35,17.64 L174.74,20.25 L175.13,24.17 L175.52,29.18 L175.91,35.04 L176.30,41.51 L176.69,48.34 L177.09,55.33 L177.48,62.30 L177.87,69.13 L178.26,75.71 L178.65,81.98 L179.04,87.90 L179.43,93.44 L179.83,98.61 L180.22,103.40 L180.61,107.83 L181.00,111.92 L181.39,115.68 L181.78,119.15 L182.17,122.35 L182.56,125.29 L182.96,127.99 L183.35,130.49 L183.74,132.79 L184.13,134.91 L184.52,136.86 L184.91,138.68 L185.30,140.35 L185.69,141.90 L186.09,143.34 L186.48,144.68 L186.87,145.93 L187.26,147.09 L187.65,148.17 L188.04,149.17 L188.43,150.12 L188.82,151.00 L189.22,151.82 L189.61,152.60 L190.00,153.33 L190.39,154.01 L190.78,154.65 L191.17,155.26 L191.56,155.83 L191.96,156.36 L192.35,156.87 L192.74,157.35 L193.13,157.81 L193.52,158.24 L193.91,158.65 L194.30,159.04 L194.69,159.40 L195.09,159.75 L195.48,160.08 L195.87,160.40 L196.26,160.70 L196.65,160.99 L197.04,161.26 L197.43,161.53 L197.82,161.77 L198.22,162.01 L198.61,162.24 L199.00,162.46 L199.39,162.67 L199.78,162.87 L200.17,163.06 L200.56,163.25 L200.96,163.42 L201.35,163.59 L201.74,163.75 L202.13,163.91 L202.52,164.06 L202.91,164.21 L203.30,164.35 L203.69,164.48 L204.09,164.61 L204.48,164.73 L204.87,164.86 L205.26,164.97 L205.65,165.08 L206.04,165.19 L206.43,165.30 L206.82,165.40 L207.22,165.49 L207.61,165.59 L208.00,165.68 L208.39,165.77 L208.78,165.85 L209.17,165.94 L209.56,166.02 L209.96,166.09 L210.35,166.17 L210.74,166.24 L211.13,166.31 L211.52,166.38 L211.91,166.45 L212.30,166.51 L212.69,166.58 L213.09,166.64 L213.48,166.70 L213.87,166.75 L214.26,166.81 L214.65,166.86 L215.04,166.92 L215.43,166.97 L215.82,167.02 L216.22,167.07 L216.61,167.11 L217.00,167.16 L217.39,167.21 L217.78,167.25 L218.17,167.29 L218.56,167.33 L218.96,167.38 L219.35,167.41 L219.74,167.45 L220.13,167.49 L220.52,167.53 L220.91,167.56 L221.30,167.60 L221.69,167.63 L222.09,167.67 L222.48,167.70 L222.87,167.73 L223.26,167.76 L223.65,167.79 L224.04,167.82 L224.43,167.85 L224.82,167.88 L225.22,167.91 L225.61,167.94 L226.00,167.96 L226.39,167.99 L226.78,168.01 L227.17,168.04 L227.56,168.06 L227.96,168.09 L228.35,168.11 L228.74,168.13 L229.13,168.16 L229.52,168.18 L229.91,168.20 L230.30,168.22 L230.69,168.24 L231.09,168.26 L231.48,168.28 L231.87,168.30 L232.26,168.32 L232.65,168.34 L233.04,168.36 L233.43,168.37 L233.82,168.39 L234.22,168.41 L234.61,168.43 L235.00,168.44 L235.39,168.46 L235.78,168.48 L236.17,168.49 L236.56,168.51 L236.96,168.52 L237.35,168.54 L237.74,168.55 L238.13,168.57 L238.52,168.58 L238.91,168.59 L239.30,168.61 L239.69,168.62 L240.09,168.63 L240.48,168.65 L240.87,168.66 L241.26,168.67 L241.65,168.68 L242.04,168.70 L242.43,168.71 L242.82,168.72 L243.22,168.73 L243.61,168.74 L244.00,168.75 L244.39,168.77 L244.78,168.78 L245.17,168.79 L245.56,168.80 L245.96,168.81 L246.35,168.82 L246.74,168.83 L247.13,168.84 L247.52,168.85 L247.91,168.86 L248.30,168.87 L248.69,168.88 L249.09,168.88 L249.48,168.89 L249.87,168.90 L250.26,168.91 L250.65,168.92 L251.04,168.93 L251.43,168.94 L251.82,168.94 L252.22,168.95 L252.61,168.96 L253.00,168.97 L253.39,168.98 L253.78,168.98 L254.17,168.99 L254.56,169.00 L254.96,169.01 L255.35,169.01 L255.74,169.02 L256.13,169.03 L256.52,169.03 L256.91,169.04 L257.30,169.05 L257.69,169.05 L258.09,169.06 L258.48,169.07 L258.87,169.07 L259.26,169.08 L259.65,169.09 L260.04,169.09 L260.43,169.10 L260.82,169.10 L261.22,169.11 L261.61,169.12 L262.00,169.12 L262.39,169.13 L262.78,169.13 L263.17,169.14 L263.56,169.14 L263.96,169.15 L264.35,169.15 L264.74,169.16 L265.13,169.16 L265.52,169.17 L265.91,169.17 L266.30,169.18 L266.69,169.18 L267.09,169.19 L267.48,169.19 L267.87,169.20 L268.26,169.20 L268.65,169.21 L269.04,169.21 L269.43,169.22 L269.82,169.22 L270.22,169.23 L270.61,169.23 L271.00,169.23 L271.39,169.24 L271.78,169.24 L272.17,169.25 L272.56,169.25 L272.96,169.26 L273.35,169.26 L273.74,169.26 L274.13,169.27 L274.52,169.27 L274.91,169.27 L275.30,169.28 L275.69,169.28 L276.09,169.29 L276.48,169.29 L276.87,169.29 L277.26,169.30 L277.65,169.30 L278.04,169.30 L278.43,169.31 L278.82,169.31 L279.22,169.31 L279.61,169.32 L280.00,169.32 L280.39,169.32 L280.78,169.33 L281.17,169.33 L281.56,169.33 L281.96,169.34 L282.35,169.34 L282.74,169.34 L283.13,169.35 L283.52,169.35 L283.91,169.35 L284.30,169.35 L284.69,169.36 L285.09,169.36 L285.48,169.36 L285.87,169.37 L286.26,169.37 L286.65,169.37 L287.04,169.37 L287.43,169.38 L287.82,169.38 L288.22,169.38 L288.61,169.39 L289.00,169.39 L289.39,169.39 L289.78,169.39 L290.17,169.40 L290.56,169.40 L290.96,169.40 L291.35,169.40 L291.74,169.41 L292.13,169.41 L292.52,169.41 L292.91,169.41 L293.30,169.42 L293.69,169.42 L294.09,169.42 L294.48,169.42 L294.87,169.42 L295.26,169.43 L295.65,169.43 L296.04,169.43 L296.43,169.43 L296.82,169.44 L297.22,169.44 L297.61,169.44 L298.00,169.44 L298.39,169.44 L298.78,169.45 L299.17,169.45 L299.56,169.45 L299.96,169.45 L300.35,169.45 L300.74,169.46 L301.13,169.46 L301.52,169.46 L301.91,169.46 L302.30,169.46 L302.69,169.47 L303.09,169.47 L303.48,169.47 L303.87,169.47 L304.26,169.47 L304.65,169.47 L305.04,169.48 L305.43,169.48 L305.82,169.48 L306.22,169.48 L306.61,169.48 L307.00,169.49 L307.39,169.49 L307.78,169.49 L308.17,169.49 L308.56,169.49 L308.96,169.49 L309.35,169.50 L309.74,169.50 L310.13,169.50 L310.52,169.50 L310.91,169.50 L311.30,169.50 L311.69,169.50 L312.09,169.51 L312.48,169.51 L312.87,169.51 L313.26,169.51 L313.65,169.51 L314.04,169.51 L314.43,169.52 L314.82,169.52 L315.22,169.52 L315.61,169.52 L316.00,169.52 L316.39,169.52 L316.78,169.52 L317.17,169.53 L317.56,169.53 L317.95,169.53 L318.35,169.53 L318.74,169.53 L319.13,169.53 L319.52,169.53 L319.91,169.53 L320.30,169.54 L320.69,169.54 L321.09,169.54" fill="none" stroke="#d62728" stroke-width="1.5" stroke-linejoin="round" stroke-dasharray="1.6 1.61" clip-path="url(#clipa)"/>
<line x1="48.65" y1="185.0" x2="48.65" y2="188.0" stroke="#1a1a1a" stroke-width="0.95"/>
<text x="48.65" y="198.90" font-size="9.8" text-anchor="middle"><tspan dy="0.00">500</tspan></text>
<line x1="102.92" y1="185.0" x2="102.92" y2="188.0" stroke="#1a1a1a" stroke-width="0.95"/>
<text x="102.92" y="198.90" font-size="9.8" text-anchor="middle"><tspan dy="0.00">550</tspan></text>
<line x1="157.19" y1="185.0" x2="157.19" y2="188.0" stroke="#1a1a1a" stroke-width="0.95"/>
<text x="157.19" y="198.90" font-size="9.8" text-anchor="middle"><tspan dy="0.00">600</tspan></text>
<line x1="211.46" y1="185.0" x2="211.46" y2="188.0" stroke="#1a1a1a" stroke-width="0.95"/>
<text x="211.46" y="198.90" font-size="9.8" text-anchor="middle"><tspan dy="0.00">650</tspan></text>
<line x1="265.73" y1="185.0" x2="265.73" y2="188.0" stroke="#1a1a1a" stroke-width="0.95"/>
<text x="265.73" y="198.90" font-size="9.8" text-anchor="middle"><tspan dy="0.00">700</tspan></text>
<line x1="320.00" y1="185.0" x2="320.00" y2="188.0" stroke="#1a1a1a" stroke-width="0.95"/>
<text x="320.00" y="198.90" font-size="9.8" text-anchor="middle"><tspan dy="0.00">750</tspan></text>
<line x1="45.65" y1="169.80" x2="48.65" y2="169.80" stroke="#1a1a1a" stroke-width="0.95"/>
<text x="43.05" y="173.80" font-size="9.8" text-anchor="end"><tspan dy="0.00">0</tspan></text>
<line x1="45.65" y1="147.04" x2="48.65" y2="147.04" stroke="#1a1a1a" stroke-width="0.95"/>
<text x="43.05" y="151.04" font-size="9.8" text-anchor="end"><tspan dy="0.00">20</tspan></text>
<line x1="45.65" y1="124.29" x2="48.65" y2="124.29" stroke="#1a1a1a" stroke-width="0.95"/>
<text x="43.05" y="128.29" font-size="9.8" text-anchor="end"><tspan dy="0.00">40</tspan></text>
<line x1="45.65" y1="101.53" x2="48.65" y2="101.53" stroke="#1a1a1a" stroke-width="0.95"/>
<text x="43.05" y="105.53" font-size="9.8" text-anchor="end"><tspan dy="0.00">60</tspan></text>
<line x1="45.65" y1="78.77" x2="48.65" y2="78.77" stroke="#1a1a1a" stroke-width="0.95"/>
<text x="43.05" y="82.77" font-size="9.8" text-anchor="end"><tspan dy="0.00">80</tspan></text>
<line x1="45.65" y1="56.01" x2="48.65" y2="56.01" stroke="#1a1a1a" stroke-width="0.95"/>
<text x="43.05" y="60.01" font-size="9.8" text-anchor="end"><tspan dy="0.00">100</tspan></text>
<line x1="45.65" y1="33.26" x2="48.65" y2="33.26" stroke="#1a1a1a" stroke-width="0.95"/>
<text x="43.05" y="37.26" font-size="9.8" text-anchor="end"><tspan dy="0.00">120</tspan></text>
<line x1="45.65" y1="10.50" x2="48.65" y2="10.50" stroke="#1a1a1a" stroke-width="0.95"/>
<text x="43.05" y="14.50" font-size="9.8" text-anchor="end"><tspan dy="0.00">140</tspan></text>
<rect x="48.65" y="8.55" width="271.35" height="176.45" fill="none" stroke="#1a1a1a" stroke-width="0.95"/>
<text x="184.32" y="215.10" font-size="10.7" text-anchor="middle"><tspan dy="0.00">wavenumber [cm</tspan><tspan dy="-3.85" font-size="7.49">−1</tspan><tspan dy="3.85" dx="0.48">]</tspan></text>
<text x="54.80" y="28.10" font-size="16.5" text-anchor="start"><tspan dy="0.00">(a)</tspan></text>
<text x="18.80" y="140.50" font-size="12.0" text-anchor="start" transform="rotate(-90 18.80 140.50)"><tspan dy="0.00" font-style="italic">σ</tspan><tspan dy="2.40" font-size="5.04">1a</tspan><tspan dy="-2.40"> [Ω</tspan><tspan dy="-4.32" font-size="8.40">−1</tspan><tspan dy="4.32">cm</tspan><tspan dy="-4.32" font-size="8.40">−1</tspan><tspan dy="4.32">]</tspan></text>
<line x1="184.20" y1="18.00" x2="206.00" y2="18.00" stroke="#1f77b4" stroke-width="1.5"/>
<text x="207.30" y="21.65" font-size="10.9" text-anchor="start"><tspan dy="0.00">Re</tspan><tspan dy="0.00" font-style="italic">σ</tspan><tspan dy="2.07" font-size="7.74">a</tspan></text>
<line x1="184.20" y1="35.85" x2="206.00" y2="35.85" stroke="#ff7f0e" stroke-width="1.5"/>
<text x="219.70" y="34.50" font-size="8.3" text-anchor="middle"><tspan dy="0.00" font-style="italic">a</tspan><tspan dy="0.00">'</tspan></text>
<text x="219.30" y="43.90" font-size="8.3" text-anchor="middle"><tspan dy="0.00" font-style="italic">a</tspan><tspan dy="0.00">'</tspan><tspan dy="0.00" dx="1.66">+</tspan><tspan dy="0.00" dx="1.66" font-style="italic">b</tspan></text>
<line x1="207.70" y1="36.55" x2="230.80" y2="36.55" stroke="#000" stroke-width="0.9"/>
<text x="231.70" y="39.60" font-size="10.9" text-anchor="start"><tspan dy="0.00">Re</tspan><tspan dy="0.00" font-style="italic">σ</tspan><tspan dy="2.07" font-size="7.74">r</tspan><tspan dy="-2.07" dx="0.49" font-style="italic">E</tspan><tspan dy="2.07" font-size="7.74">r</tspan><tspan dy="-2.07" dx="0.49">/</tspan><tspan dy="0.00" font-style="italic">E</tspan><tspan dy="2.07" font-size="7.74">a</tspan></text>
<line x1="184.20" y1="54.07" x2="206.00" y2="54.07" stroke="#2ca02c" stroke-width="1.5"/>
<text x="207.30" y="57.65" font-size="10.9" text-anchor="start"><tspan dy="0.00">Re−</tspan><tspan dy="0.00" font-style="italic">iεωχE</tspan><tspan dy="2.07" font-size="7.74">ph</tspan><tspan dy="0.00" dx="0.76" font-size="7.74">−</tspan><tspan dy="0.00" dx="0.76" font-size="7.74">rung</tspan><tspan dy="-2.07" dx="1.91">/</tspan><tspan dy="0.00" dx="1.74" font-style="italic">E</tspan><tspan dy="2.07" font-size="7.74">a</tspan></text>
<line x1="184.20" y1="70.80" x2="206.00" y2="70.80" stroke="#d62728" stroke-width="1.5" stroke-dasharray="1.6 1.61"/>
<text x="207.30" y="74.20" font-size="10.9" text-anchor="start"><tspan dy="0.00">Re</tspan><tspan dy="0.00" font-style="italic">σ</tspan><tspan dy="2.07" font-size="7.74">ph</tspan></text>
<path d="M412.64,163.61 L413.04,163.58 L413.43,163.54 L413.82,163.51 L414.21,163.47 L414.60,163.44 L415.00,163.40 L415.39,163.37 L415.78,163.33 L416.17,163.29 L416.56,163.26 L416.96,163.22 L417.35,163.19 L417.74,163.15 L418.13,163.12 L418.53,163.08 L418.92,163.04 L419.31,163.01 L419.70,162.97 L420.09,162.93 L420.49,162.90 L420.88,162.86 L421.27,162.82 L421.66,162.79 L422.05,162.75 L422.45,162.71 L422.84,162.68 L423.23,162.64 L423.62,162.60 L424.02,162.56 L424.41,162.53 L424.80,162.49 L425.19,162.45 L425.58,162.41 L425.98,162.38 L426.37,162.34 L426.76,162.30 L427.15,162.26 L427.54,162.22 L427.94,162.18 L428.33,162.14 L428.72,162.11 L429.11,162.07 L429.51,162.03 L429.90,161.99 L430.29,161.95 L430.68,161.91 L431.07,161.87 L431.47,161.83 L431.86,161.79 L432.25,161.75 L432.64,161.71 L433.03,161.67 L433.43,161.63 L433.82,161.59 L434.21,161.55 L434.60,161.51 L435.00,161.47 L435.39,161.42 L435.78,161.38 L436.17,161.34 L436.56,161.30 L436.96,161.26 L437.35,161.22 L437.74,161.17 L438.13,161.13 L438.53,161.09 L438.92,161.05 L439.31,161.00 L439.70,160.96 L440.09,160.92 L440.49,160.87 L440.88,160.83 L441.27,160.78 L441.66,160.74 L442.05,160.70 L442.45,160.65 L442.84,160.61 L443.23,160.56 L443.62,160.52 L444.02,160.47 L444.41,160.43 L444.80,160.38 L445.19,160.33 L445.58,160.29 L445.98,160.24 L446.37,160.20 L446.76,160.15 L447.15,160.10 L447.54,160.05 L447.94,160.01 L448.33,159.96 L448.72,159.91 L449.11,159.86 L449.51,159.81 L449.90,159.77 L450.29,159.72 L450.68,159.68 L451.07,159.64 L451.47,159.59 L451.86,159.55 L452.25,159.51 L452.64,159.46 L453.03,159.42 L453.43,159.37 L453.82,159.33 L454.21,159.28 L454.60,159.24 L455.00,159.19 L455.39,159.15 L455.78,159.10 L456.17,159.05 L456.56,159.00 L456.96,158.96 L457.35,158.91 L457.74,158.86 L458.13,158.81 L458.52,158.76 L458.92,158.71 L459.31,158.66 L459.70,158.61 L460.09,158.56 L460.49,158.51 L460.88,158.46 L461.27,158.41 L461.66,158.36 L462.05,158.31 L462.45,158.25 L462.84,158.20 L463.23,158.15 L463.62,158.09 L464.01,158.04 L464.41,157.98 L464.80,157.93 L465.19,157.87 L465.58,157.81 L465.98,157.76 L466.37,157.70 L466.76,157.64 L467.15,157.58 L467.54,157.52 L467.94,157.46 L468.33,157.40 L468.72,157.34 L469.11,157.28 L469.50,157.22 L469.90,157.16 L470.29,157.10 L470.68,157.03 L471.07,156.97 L471.47,156.91 L471.86,156.84 L472.25,156.78 L472.64,156.71 L473.03,156.64 L473.43,156.58 L473.82,156.51 L474.21,156.44 L474.60,156.37 L475.00,156.30 L475.39,156.23 L475.78,156.16 L476.17,156.09 L476.56,156.02 L476.96,155.95 L477.35,155.87 L477.74,155.80 L478.13,155.73 L478.52,155.65 L478.92,155.57 L479.31,155.50 L479.70,155.42 L480.09,155.34 L480.49,155.26 L480.88,155.18 L481.27,155.10 L481.66,155.02 L482.05,154.94 L482.45,154.86 L482.84,154.78 L483.23,154.69 L483.62,154.61 L484.01,154.52 L484.41,154.44 L484.80,154.35 L485.19,154.26 L485.58,154.17 L485.98,154.09 L486.37,153.99 L486.76,153.90 L487.15,153.81 L487.54,153.72 L487.94,153.63 L488.33,153.53 L488.72,153.44 L489.11,153.34 L489.50,153.24 L489.90,153.14 L490.29,153.04 L490.68,152.94 L491.07,152.84 L491.47,152.74 L491.86,152.64 L492.25,152.53 L492.64,152.43 L493.03,152.32 L493.43,152.22 L493.82,152.11 L494.21,152.00 L494.60,151.89 L494.99,151.78 L495.39,151.67 L495.78,151.55 L496.17,151.44 L496.56,151.32 L496.96,151.20 L497.35,151.08 L497.74,150.96 L498.13,150.83 L498.52,150.71 L498.92,150.58 L499.31,150.45 L499.70,150.32 L500.09,150.18 L500.48,150.05 L500.88,149.91 L501.27,149.77 L501.66,149.63 L502.05,149.49 L502.45,149.34 L502.84,149.20 L503.23,149.05 L503.62,148.90 L504.01,148.75 L504.41,148.60 L504.80,148.44 L505.19,148.29 L505.58,148.13 L505.98,147.97 L506.37,147.80 L506.76,147.64 L507.15,147.47 L507.54,147.30 L507.94,147.13 L508.33,146.96 L508.72,146.79 L509.11,146.61 L509.50,146.43 L509.90,146.25 L510.29,146.06 L510.68,145.87 L511.07,145.68 L511.47,145.49 L511.86,145.30 L512.25,145.10 L512.64,144.90 L513.03,144.70 L513.43,144.49 L513.82,144.28 L514.21,144.07 L514.60,143.86 L514.99,143.64 L515.39,143.42 L515.78,143.19 L516.17,142.97 L516.56,142.73 L516.96,142.50 L517.35,142.26 L517.74,142.02 L518.13,141.77 L518.52,141.52 L518.92,141.27 L519.31,141.01 L519.70,140.74 L520.09,140.48 L520.48,140.21 L520.88,139.93 L521.27,139.65 L521.66,139.37 L522.05,139.08 L522.45,138.78 L522.84,138.49 L523.23,138.18 L523.62,137.87 L524.01,137.56 L524.41,137.24 L524.80,136.92 L525.19,136.59 L525.58,136.26 L525.97,135.92 L526.37,135.57 L526.76,135.22 L527.15,134.87 L527.54,134.50 L527.94,134.14 L528.33,133.76 L528.72,133.38 L529.11,132.99 L529.50,132.60 L529.90,132.20 L530.29,131.79 L530.68,131.37 L531.07,130.95 L531.46,130.52 L531.86,130.09 L532.25,129.66 L532.64,129.22 L533.03,128.78 L533.43,128.33 L533.82,127.88 L534.21,127.42 L534.60,126.95 L534.99,126.47 L535.39,125.98 L535.78,125.48 L536.17,124.98 L536.56,124.46 L536.96,123.92 L537.35,123.38 L537.74,122.82 L538.13,122.24 L538.52,121.65 L538.92,121.05 L539.31,120.43 L539.70,119.78 L540.09,119.12 L540.48,118.45 L540.88,117.75 L541.27,117.04 L541.66,116.31 L542.05,115.56 L542.45,114.80 L542.84,114.01 L543.23,113.21 L543.62,112.39 L544.01,111.55 L544.41,110.70 L544.80,109.82 L545.19,108.93 L545.58,108.01 L545.97,107.08 L546.37,106.13 L546.76,105.15 L547.15,104.16 L547.54,103.15 L547.94,102.12 L548.33,101.07 L548.72,99.99 L549.11,98.89 L549.50,97.77 L549.90,96.62 L550.29,95.45 L550.68,94.26 L551.07,93.04 L551.46,91.80 L551.86,90.53 L552.25,89.25 L552.64,87.94 L553.03,86.60 L553.43,85.25 L553.82,83.87 L554.21,82.47 L554.60,81.05 L554.99,79.61 L555.39,78.14 L555.78,76.65 L556.17,75.14 L556.56,73.61 L556.95,72.07 L557.35,70.50 L557.74,68.92 L558.13,67.32 L558.52,65.71 L558.92,64.09 L559.31,62.47 L559.70,60.83 L560.09,59.20 L560.48,57.57 L560.88,55.94 L561.27,54.31 L561.66,52.70 L562.05,51.10 L562.44,49.52 L562.84,47.96 L563.23,46.43 L563.62,44.93 L564.01,43.47 L564.41,42.06 L564.80,40.70 L565.19,39.40 L565.58,38.17 L565.97,37.00 L566.37,35.92 L566.76,34.92 L567.15,34.02 L567.54,33.21 L567.94,32.51 L568.33,31.93 L568.72,31.47 L569.11,31.13 L569.50,30.92 L569.90,30.85 L570.29,30.92 L570.68,31.13 L571.07,31.49 L571.46,32.00 L571.86,32.65 L572.25,33.45 L572.64,34.41 L573.03,35.50 L573.43,36.74 L573.82,38.12 L574.21,39.64 L574.60,41.28 L574.99,43.04 L575.39,44.92 L575.78,46.91 L576.17,49.00 L576.56,51.18 L576.95,53.44 L577.35,55.78 L577.74,58.18 L578.13,60.63 L578.52,63.13 L578.92,65.66 L579.31,68.23 L579.70,70.81 L580.09,73.41 L580.48,76.01 L580.88,78.61 L581.27,81.19 L581.66,83.76 L582.05,86.31 L582.44,88.83 L582.84,91.32 L583.23,93.78 L583.62,96.19 L584.01,98.57 L584.41,100.89 L584.80,103.17 L585.19,105.40 L585.58,107.58 L585.97,109.70 L586.37,111.77 L586.76,113.79 L587.15,115.75 L587.54,117.65 L587.93,119.51 L588.33,121.30 L588.72,123.05 L589.11,124.74 L589.50,126.37 L589.90,127.96 L590.29,129.49 L590.68,130.97 L591.07,132.41 L591.46,133.80 L591.86,135.14 L592.25,136.43 L592.64,137.68 L593.03,138.89 L593.42,140.05 L593.82,141.18 L594.21,142.26 L594.60,143.31 L594.99,144.32 L595.39,145.30 L595.78,146.24 L596.17,147.14 L596.56,148.02 L596.95,148.86 L597.35,149.67 L597.74,150.46 L598.13,151.21 L598.52,151.94 L598.92,152.65 L599.31,153.32 L599.70,153.98 L600.09,154.61 L600.48,155.22 L600.88,155.80 L601.27,156.37 L601.66,156.91 L602.05,157.44 L602.44,157.95 L602.84,158.44 L603.23,158.91 L603.62,159.37 L604.01,159.81 L604.41,160.23 L604.80,160.64 L605.19,161.03 L605.58,161.41 L605.97,161.78 L606.37,162.14 L606.76,162.48 L607.15,162.81 L607.54,163.13 L607.93,163.44 L608.33,163.74 L608.72,164.02 L609.11,164.30 L609.50,164.57 L609.90,164.83 L610.29,165.08 L610.68,165.32 L611.07,165.55 L611.46,165.78 L611.86,165.99 L612.25,166.20 L612.64,166.41 L613.03,166.60 L613.42,166.79 L613.82,166.98 L614.21,167.15 L614.60,167.32 L614.99,167.49 L615.39,167.65 L615.78,167.80 L616.17,167.95 L616.56,168.09 L616.95,168.23 L617.35,168.37 L617.74,168.50 L618.13,168.62 L618.52,168.74 L618.91,168.86 L619.31,168.97 L619.70,169.08 L620.09,169.19 L620.48,169.29 L620.88,169.39 L621.27,169.48 L621.66,169.57 L622.05,169.66 L622.44,169.75 L622.84,169.83 L623.23,169.91 L623.62,169.99 L624.01,170.06 L624.40,170.13 L624.80,170.20 L625.19,170.27 L625.58,170.33 L625.97,170.40 L626.37,170.46 L626.76,170.51 L627.15,170.57 L627.54,170.62 L627.93,170.68 L628.33,170.73 L628.72,170.77 L629.11,170.82 L629.50,170.87 L629.90,170.91 L630.29,170.95 L630.68,170.99 L631.07,171.03 L631.46,171.07 L631.86,171.10 L632.25,171.13 L632.64,171.17 L633.03,171.20 L633.42,171.23 L633.82,171.26 L634.21,171.29 L634.60,171.31 L634.99,171.34 L635.39,171.36 L635.78,171.39 L636.17,171.41 L636.56,171.43 L636.95,171.45 L637.35,171.47 L637.74,171.49 L638.13,171.50 L638.52,171.52 L638.91,171.54 L639.31,171.55 L639.70,171.57 L640.09,171.58 L640.48,171.59 L640.88,171.60 L641.27,171.62 L641.66,171.63 L642.05,171.64 L642.44,171.65 L642.84,171.65 L643.23,171.66 L643.62,171.67 L644.01,171.68 L644.40,171.68 L644.80,171.69 L645.19,171.69 L645.58,171.70 L645.97,171.70 L646.37,171.71 L646.76,171.71 L647.15,171.71 L647.54,171.72 L647.93,171.72 L648.33,171.72 L648.72,171.72 L649.11,171.72 L649.50,171.72 L649.89,171.72 L650.29,171.72 L650.68,171.72 L651.07,171.72 L651.46,171.72 L651.86,171.72 L652.25,171.72 L652.64,171.71 L653.03,171.71 L653.42,171.71 L653.82,171.71 L654.21,171.70 L654.60,171.70 L654.99,171.69 L655.38,171.69 L655.78,171.69 L656.17,171.68 L656.56,171.68 L656.95,171.67 L657.35,171.67 L657.74,171.66 L658.13,171.66 L658.52,171.65 L658.91,171.64 L659.31,171.64 L659.70,171.63 L660.09,171.62 L660.48,171.62 L660.87,171.61 L661.27,171.60 L661.66,171.60 L662.05,171.59 L662.44,171.58 L662.84,171.57 L663.23,171.57 L663.62,171.56 L664.01,171.55 L664.40,171.54 L664.80,171.53 L665.19,171.53 L665.58,171.52 L665.97,171.51 L666.37,171.50 L666.76,171.49 L667.15,171.48 L667.54,171.47 L667.93,171.46 L668.33,171.46 L668.72,171.45 L669.11,171.44 L669.50,171.43 L669.89,171.42 L670.29,171.41 L670.68,171.40 L671.07,171.39 L671.46,171.38 L671.86,171.37 L672.25,171.36 L672.64,171.35 L673.03,171.34 L673.42,171.33 L673.82,171.32 L674.21,171.31 L674.60,171.30 L674.99,171.29 L675.38,171.28 L675.78,171.27 L676.17,171.26 L676.56,171.25 L676.95,171.24 L677.35,171.23 L677.74,171.22 L678.13,171.21 L678.52,171.20 L678.91,171.19 L679.31,171.18 L679.70,171.17 L680.09,171.16 L680.48,171.15 L680.87,171.13 L681.27,171.12 L681.66,171.11 L682.05,171.10 L682.44,171.09 L682.84,171.08 L683.23,171.07 L683.62,171.06 L684.01,171.05 L684.40,171.04 L684.80,171.03 L685.19,171.02 L685.58,171.01 L685.97,171.00 L686.36,170.99 L686.76,170.98" fill="none" stroke="#1f77b4" stroke-width="1.5" stroke-linejoin="round" clip-path="url(#clipc)"/>
<path d="M412.64,166.18 L413.04,166.16 L413.43,166.13 L413.82,166.10 L414.21,166.08 L414.60,166.05 L415.00,166.02 L415.39,166.00 L415.78,165.97 L416.17,165.94 L416.56,165.92 L416.96,165.89 L417.35,165.86 L417.74,165.84 L418.13,165.81 L418.53,165.78 L418.92,165.76 L419.31,165.73 L419.70,165.70 L420.09,165.68 L420.49,165.65 L420.88,165.62 L421.27,165.60 L421.66,165.57 L422.05,165.54 L422.45,165.52 L422.84,165.49 L423.23,165.47 L423.62,165.44 L424.02,165.41 L424.41,165.39 L424.80,165.36 L425.19,165.33 L425.58,165.31 L425.98,165.28 L426.37,165.25 L426.76,165.23 L427.15,165.20 L427.54,165.18 L427.94,165.15 L428.33,165.12 L428.72,165.10 L429.11,165.07 L429.51,165.04 L429.90,165.02 L430.29,164.99 L430.68,164.96 L431.07,164.94 L431.47,164.91 L431.86,164.88 L432.25,164.86 L432.64,164.83 L433.03,164.80 L433.43,164.78 L433.82,164.75 L434.21,164.72 L434.60,164.70 L435.00,164.67 L435.39,164.64 L435.78,164.62 L436.17,164.59 L436.56,164.56 L436.96,164.53 L437.35,164.51 L437.74,164.48 L438.13,164.45 L438.53,164.42 L438.92,164.40 L439.31,164.37 L439.70,164.34 L440.09,164.31 L440.49,164.29 L440.88,164.26 L441.27,164.23 L441.66,164.20 L442.05,164.18 L442.45,164.15 L442.84,164.12 L443.23,164.09 L443.62,164.06 L444.02,164.03 L444.41,164.01 L444.80,163.98 L445.19,163.95 L445.58,163.92 L445.98,163.89 L446.37,163.86 L446.76,163.83 L447.15,163.80 L447.54,163.77 L447.94,163.75 L448.33,163.72 L448.72,163.69 L449.11,163.66 L449.51,163.63 L449.90,163.60 L450.29,163.57 L450.68,163.54 L451.07,163.51 L451.47,163.48 L451.86,163.45 L452.25,163.42 L452.64,163.39 L453.03,163.36 L453.43,163.33 L453.82,163.30 L454.21,163.27 L454.60,163.24 L455.00,163.21 L455.39,163.18 L455.78,163.15 L456.17,163.12 L456.56,163.09 L456.96,163.06 L457.35,163.03 L457.74,163.00 L458.13,162.97 L458.52,162.94 L458.92,162.91 L459.31,162.88 L459.70,162.85 L460.09,162.82 L460.49,162.79 L460.88,162.76 L461.27,162.73 L461.66,162.70 L462.05,162.67 L462.45,162.64 L462.84,162.61 L463.23,162.58 L463.62,162.54 L464.01,162.51 L464.41,162.48 L464.80,162.45 L465.19,162.42 L465.58,162.39 L465.98,162.36 L466.37,162.32 L466.76,162.29 L467.15,162.26 L467.54,162.23 L467.94,162.20 L468.33,162.16 L468.72,162.13 L469.11,162.10 L469.50,162.06 L469.90,162.03 L470.29,162.00 L470.68,161.96 L471.07,161.93 L471.47,161.90 L471.86,161.86 L472.25,161.83 L472.64,161.79 L473.03,161.76 L473.43,161.72 L473.82,161.69 L474.21,161.65 L474.60,161.62 L475.00,161.58 L475.39,161.55 L475.78,161.51 L476.17,161.47 L476.56,161.44 L476.96,161.40 L477.35,161.36 L477.74,161.32 L478.13,161.29 L478.52,161.25 L478.92,161.21 L479.31,161.17 L479.70,161.13 L480.09,161.09 L480.49,161.05 L480.88,161.01 L481.27,160.97 L481.66,160.94 L482.05,160.90 L482.45,160.86 L482.84,160.82 L483.23,160.79 L483.62,160.75 L484.01,160.71 L484.41,160.67 L484.80,160.64 L485.19,160.60 L485.58,160.56 L485.98,160.53 L486.37,160.49 L486.76,160.45 L487.15,160.41 L487.54,160.37 L487.94,160.34 L488.33,160.30 L488.72,160.26 L489.11,160.22 L489.50,160.18 L489.90,160.14 L490.29,160.10 L490.68,160.06 L491.07,160.02 L491.47,159.97 L491.86,159.93 L492.25,159.89 L492.64,159.84 L493.03,159.80 L493.43,159.75 L493.82,159.71 L494.21,159.66 L494.60,159.61 L494.99,159.56 L495.39,159.51 L495.78,159.46 L496.17,159.41 L496.56,159.35 L496.96,159.30 L497.35,159.24 L497.74,159.19 L498.13,159.13 L498.52,159.07 L498.92,159.01 L499.31,158.95 L499.70,158.88 L500.09,158.82 L500.48,158.75 L500.88,158.69 L501.27,158.62 L501.66,158.55 L502.05,158.48 L502.45,158.41 L502.84,158.34 L503.23,158.27 L503.62,158.20 L504.01,158.13 L504.41,158.05 L504.80,157.98 L505.19,157.90 L505.58,157.83 L505.98,157.75 L506.37,157.67 L506.76,157.59 L507.15,157.51 L507.54,157.43 L507.94,157.35 L508.33,157.27 L508.72,157.18 L509.11,157.10 L509.50,157.01 L509.90,156.92 L510.29,156.84 L510.68,156.75 L511.07,156.66 L511.47,156.56 L511.86,156.47 L512.25,156.38 L512.64,156.28 L513.03,156.19 L513.43,156.09 L513.82,155.99 L514.21,155.89 L514.60,155.79 L514.99,155.68 L515.39,155.58 L515.78,155.47 L516.17,155.36 L516.56,155.25 L516.96,155.14 L517.35,155.03 L517.74,154.91 L518.13,154.80 L518.52,154.68 L518.92,154.56 L519.31,154.43 L519.70,154.31 L520.09,154.18 L520.48,154.06 L520.88,153.93 L521.27,153.80 L521.66,153.66 L522.05,153.53 L522.45,153.39 L522.84,153.25 L523.23,153.11 L523.62,152.97 L524.01,152.83 L524.41,152.68 L524.80,152.53 L525.19,152.38 L525.58,152.23 L525.97,152.07 L526.37,151.92 L526.76,151.76 L527.15,151.60 L527.54,151.44 L527.94,151.27 L528.33,151.11 L528.72,150.94 L529.11,150.77 L529.50,150.59 L529.90,150.42 L530.29,150.24 L530.68,150.06 L531.07,149.88 L531.46,149.69 L531.86,149.50 L532.25,149.31 L532.64,149.12 L533.03,148.92 L533.43,148.72 L533.82,148.52 L534.21,148.31 L534.60,148.10 L534.99,147.89 L535.39,147.68 L535.78,147.46 L536.17,147.24 L536.56,147.01 L536.96,146.78 L537.35,146.55 L537.74,146.31 L538.13,146.08 L538.52,145.83 L538.92,145.59 L539.31,145.34 L539.70,145.08 L540.09,144.82 L540.48,144.56 L540.88,144.29 L541.27,144.02 L541.66,143.75 L542.05,143.47 L542.45,143.19 L542.84,142.90 L543.23,142.61 L543.62,142.31 L544.01,142.01 L544.41,141.71 L544.80,141.40 L545.19,141.08 L545.58,140.76 L545.97,140.44 L546.37,140.11 L546.76,139.78 L547.15,139.44 L547.54,139.09 L547.94,138.75 L548.33,138.39 L548.72,138.03 L549.11,137.67 L549.50,137.30 L549.90,136.93 L550.29,136.56 L550.68,136.18 L551.07,135.79 L551.46,135.40 L551.86,135.01 L552.25,134.62 L552.64,134.22 L553.03,133.82 L553.43,133.41 L553.82,133.00 L554.21,132.59 L554.60,132.18 L554.99,131.77 L555.39,131.36 L555.78,130.95 L556.17,130.53 L556.56,130.12 L556.95,129.71 L557.35,129.30 L557.74,128.90 L558.13,128.50 L558.52,128.10 L558.92,127.71 L559.31,127.32 L559.70,126.95 L560.09,126.58 L560.48,126.22 L560.88,125.88 L561.27,125.55 L561.66,125.23 L562.05,124.93 L562.44,124.66 L562.84,124.41 L563.23,124.18 L563.62,123.97 L564.01,123.79 L564.41,123.64 L564.80,123.51 L565.19,123.42 L565.58,123.36 L565.97,123.34 L566.37,123.35 L566.76,123.40 L567.15,123.49 L567.54,123.62 L567.94,123.80 L568.33,124.03 L568.72,124.29 L569.11,124.61 L569.50,124.98 L569.90,125.39 L570.29,125.85 L570.68,126.36 L571.07,126.92 L571.46,127.52 L571.86,128.18 L572.25,128.87 L572.64,129.62 L573.03,130.40 L573.43,131.22 L573.82,132.08 L574.21,132.98 L574.60,133.91 L574.99,134.86 L575.39,135.85 L575.78,136.85 L576.17,137.87 L576.56,138.91 L576.95,139.96 L577.35,141.02 L577.74,142.08 L578.13,143.15 L578.52,144.21 L578.92,145.27 L579.31,146.33 L579.70,147.37 L580.09,148.40 L580.48,149.42 L580.88,150.42 L581.27,151.40 L581.66,152.36 L582.05,153.30 L582.44,154.21 L582.84,155.11 L583.23,155.97 L583.62,156.82 L584.01,157.63 L584.41,158.42 L584.80,159.19 L585.19,159.92 L585.58,160.63 L585.97,161.32 L586.37,161.97 L586.76,162.61 L587.15,163.21 L587.54,163.79 L587.93,164.35 L588.33,164.88 L588.72,165.39 L589.11,165.88 L589.50,166.34 L589.90,166.78 L590.29,167.21 L590.68,167.61 L591.07,167.99 L591.46,168.35 L591.86,168.70 L592.25,169.03 L592.64,169.34 L593.03,169.63 L593.42,169.91 L593.82,170.18 L594.21,170.43 L594.60,170.66 L594.99,170.89 L595.39,171.10 L595.78,171.30 L596.17,171.49 L596.56,171.66 L596.95,171.83 L597.35,171.99 L597.74,172.14 L598.13,172.27 L598.52,172.40 L598.92,172.52 L599.31,172.64 L599.70,172.74 L600.09,172.84 L600.48,172.93 L600.88,173.02 L601.27,173.10 L601.66,173.17 L602.05,173.24 L602.44,173.30 L602.84,173.36 L603.23,173.41 L603.62,173.46 L604.01,173.51 L604.41,173.54 L604.80,173.58 L605.19,173.61 L605.58,173.64 L605.97,173.66 L606.37,173.69 L606.76,173.70 L607.15,173.72 L607.54,173.73 L607.93,173.74 L608.33,173.75 L608.72,173.75 L609.11,173.76 L609.50,173.76 L609.90,173.75 L610.29,173.75 L610.68,173.75 L611.07,173.74 L611.46,173.73 L611.86,173.72 L612.25,173.71 L612.64,173.69 L613.03,173.68 L613.42,173.66 L613.82,173.65 L614.21,173.63 L614.60,173.61 L614.99,173.59 L615.39,173.57 L615.78,173.54 L616.17,173.52 L616.56,173.50 L616.95,173.47 L617.35,173.45 L617.74,173.42 L618.13,173.39 L618.52,173.36 L618.91,173.34 L619.31,173.31 L619.70,173.28 L620.09,173.25 L620.48,173.22 L620.88,173.19 L621.27,173.16 L621.66,173.13 L622.05,173.10 L622.44,173.06 L622.84,173.03 L623.23,173.00 L623.62,172.97 L624.01,172.93 L624.40,172.90 L624.80,172.87 L625.19,172.83 L625.58,172.80 L625.97,172.77 L626.37,172.73 L626.76,172.70 L627.15,172.67 L627.54,172.63 L627.93,172.60 L628.33,172.57 L628.72,172.53 L629.11,172.50 L629.50,172.46 L629.90,172.43 L630.29,172.40 L630.68,172.36 L631.07,172.33 L631.46,172.29 L631.86,172.26 L632.25,172.23 L632.64,172.19 L633.03,172.16 L633.42,172.13 L633.82,172.09 L634.21,172.06 L634.60,172.02 L634.99,171.99 L635.39,171.96 L635.78,171.93 L636.17,171.89 L636.56,171.86 L636.95,171.83 L637.35,171.80 L637.74,171.76 L638.13,171.73 L638.52,171.70 L638.91,171.67 L639.31,171.64 L639.70,171.60 L640.09,171.57 L640.48,171.54 L640.88,171.51 L641.27,171.48 L641.66,171.45 L642.05,171.42 L642.44,171.39 L642.84,171.36 L643.23,171.33 L643.62,171.30 L644.01,171.27 L644.40,171.24 L644.80,171.21 L645.19,171.18 L645.58,171.15 L645.97,171.12 L646.37,171.10 L646.76,171.07 L647.15,171.04 L647.54,171.01 L647.93,170.98 L648.33,170.96 L648.72,170.93 L649.11,170.90 L649.50,170.88 L649.89,170.85 L650.29,170.82 L650.68,170.80 L651.07,170.77 L651.46,170.74 L651.86,170.72 L652.25,170.69 L652.64,170.67 L653.03,170.64 L653.42,170.62 L653.82,170.59 L654.21,170.57 L654.60,170.55 L654.99,170.52 L655.38,170.50 L655.78,170.48 L656.17,170.45 L656.56,170.43 L656.95,170.41 L657.35,170.38 L657.74,170.36 L658.13,170.34 L658.52,170.32 L658.91,170.30 L659.31,170.28 L659.70,170.26 L660.09,170.23 L660.48,170.21 L660.87,170.19 L661.27,170.17 L661.66,170.15 L662.05,170.13 L662.44,170.11 L662.84,170.09 L663.23,170.08 L663.62,170.06 L664.01,170.04 L664.40,170.02 L664.80,170.00 L665.19,169.98 L665.58,169.97 L665.97,169.95 L666.37,169.93 L666.76,169.91 L667.15,169.90 L667.54,169.88 L667.93,169.87 L668.33,169.85 L668.72,169.83 L669.11,169.82 L669.50,169.80 L669.89,169.79 L670.29,169.77 L670.68,169.76 L671.07,169.74 L671.46,169.73 L671.86,169.72 L672.25,169.70 L672.64,169.69 L673.03,169.67 L673.42,169.66 L673.82,169.65 L674.21,169.64 L674.60,169.62 L674.99,169.61 L675.38,169.60 L675.78,169.59 L676.17,169.58 L676.56,169.57 L676.95,169.56 L677.35,169.54 L677.74,169.53 L678.13,169.52 L678.52,169.51 L678.91,169.50 L679.31,169.50 L679.70,169.49 L680.09,169.48 L680.48,169.47 L680.87,169.46 L681.27,169.45 L681.66,169.44 L682.05,169.44 L682.44,169.43 L682.84,169.42 L683.23,169.41 L683.62,169.41 L684.01,169.40 L684.40,169.39 L684.80,169.39 L685.19,169.38 L685.58,169.38 L685.97,169.37 L686.36,169.37 L686.76,169.36" fill="none" stroke="#ff7f0e" stroke-width="1.5" stroke-linejoin="round" clip-path="url(#clipc)"/>
<path d="M412.64,173.92 L413.04,173.88 L413.43,173.85 L413.82,173.82 L414.21,173.79 L414.60,173.75 L415.00,173.72 L415.39,173.69 L415.78,173.66 L416.17,173.63 L416.56,173.60 L416.96,173.57 L417.35,173.54 L417.74,173.51 L418.13,173.48 L418.53,173.45 L418.92,173.42 L419.31,173.40 L419.70,173.37 L420.09,173.34 L420.49,173.31 L420.88,173.29 L421.27,173.26 L421.66,173.23 L422.05,173.21 L422.45,173.18 L422.84,173.15 L423.23,173.13 L423.62,173.10 L424.02,173.08 L424.41,173.05 L424.80,173.03 L425.19,173.00 L425.58,172.98 L425.98,172.96 L426.37,172.93 L426.76,172.91 L427.15,172.89 L427.54,172.86 L427.94,172.84 L428.33,172.82 L428.72,172.79 L429.11,172.77 L429.51,172.75 L429.90,172.73 L430.29,172.70 L430.68,172.68 L431.07,172.66 L431.47,172.64 L431.86,172.62 L432.25,172.60 L432.64,172.58 L433.03,172.56 L433.43,172.53 L433.82,172.51 L434.21,172.49 L434.60,172.47 L435.00,172.45 L435.39,172.43 L435.78,172.41 L436.17,172.39 L436.56,172.37 L436.96,172.35 L437.35,172.33 L437.74,172.32 L438.13,172.30 L438.53,172.28 L438.92,172.26 L439.31,172.24 L439.70,172.22 L440.09,172.20 L440.49,172.18 L440.88,172.16 L441.27,172.14 L441.66,172.13 L442.05,172.11 L442.45,172.09 L442.84,172.07 L443.23,172.05 L443.62,172.03 L444.02,172.02 L444.41,172.00 L444.80,171.98 L445.19,171.96 L445.58,171.94 L445.98,171.93 L446.37,171.91 L446.76,171.89 L447.15,171.87 L447.54,171.85 L447.94,171.84 L448.33,171.82 L448.72,171.80 L449.11,171.78 L449.51,171.76 L449.90,171.75 L450.29,171.73 L450.68,171.71 L451.07,171.69 L451.47,171.67 L451.86,171.66 L452.25,171.64 L452.64,171.62 L453.03,171.60 L453.43,171.58 L453.82,171.56 L454.21,171.55 L454.60,171.53 L455.00,171.51 L455.39,171.49 L455.78,171.47 L456.17,171.45 L456.56,171.43 L456.96,171.42 L457.35,171.40 L457.74,171.38 L458.13,171.36 L458.52,171.34 L458.92,171.32 L459.31,171.30 L459.70,171.28 L460.09,171.26 L460.49,171.24 L460.88,171.22 L461.27,171.20 L461.66,171.18 L462.05,171.16 L462.45,171.14 L462.84,171.12 L463.23,171.10 L463.62,171.08 L464.01,171.06 L464.41,171.04 L464.80,171.02 L465.19,170.99 L465.58,170.97 L465.98,170.95 L466.37,170.93 L466.76,170.91 L467.15,170.88 L467.54,170.86 L467.94,170.84 L468.33,170.81 L468.72,170.79 L469.11,170.77 L469.50,170.74 L469.90,170.72 L470.29,170.70 L470.68,170.67 L471.07,170.65 L471.47,170.62 L471.86,170.60 L472.25,170.57 L472.64,170.55 L473.03,170.52 L473.43,170.49 L473.82,170.47 L474.21,170.44 L474.60,170.41 L475.00,170.38 L475.39,170.36 L475.78,170.33 L476.17,170.30 L476.56,170.27 L476.96,170.24 L477.35,170.21 L477.74,170.18 L478.13,170.15 L478.52,170.12 L478.92,170.09 L479.31,170.06 L479.70,170.03 L480.09,170.00 L480.49,169.96 L480.88,169.93 L481.27,169.90 L481.66,169.86 L482.05,169.83 L482.45,169.79 L482.84,169.76 L483.23,169.72 L483.62,169.69 L484.01,169.65 L484.41,169.61 L484.80,169.58 L485.19,169.54 L485.58,169.50 L485.98,169.46 L486.37,169.42 L486.76,169.38 L487.15,169.34 L487.54,169.30 L487.94,169.26 L488.33,169.22 L488.72,169.17 L489.11,169.13 L489.50,169.09 L489.90,169.04 L490.29,169.00 L490.68,168.95 L491.07,168.90 L491.47,168.86 L491.86,168.81 L492.25,168.76 L492.64,168.71 L493.03,168.66 L493.43,168.61 L493.82,168.56 L494.21,168.51 L494.60,168.45 L494.99,168.40 L495.39,168.35 L495.78,168.29 L496.17,168.23 L496.56,168.18 L496.96,168.12 L497.35,168.06 L497.74,168.00 L498.13,167.94 L498.52,167.88 L498.92,167.82 L499.31,167.76 L499.70,167.69 L500.09,167.63 L500.48,167.56 L500.88,167.49 L501.27,167.43 L501.66,167.36 L502.05,167.29 L502.45,167.22 L502.84,167.14 L503.23,167.07 L503.62,167.00 L504.01,166.92 L504.41,166.84 L504.80,166.77 L505.19,166.69 L505.58,166.61 L505.98,166.52 L506.37,166.44 L506.76,166.36 L507.15,166.27 L507.54,166.18 L507.94,166.10 L508.33,166.01 L508.72,165.91 L509.11,165.82 L509.50,165.73 L509.90,165.63 L510.29,165.53 L510.68,165.43 L511.07,165.33 L511.47,165.23 L511.86,165.13 L512.25,165.02 L512.64,164.91 L513.03,164.80 L513.43,164.69 L513.82,164.58 L514.21,164.46 L514.60,164.35 L514.99,164.23 L515.39,164.11 L515.78,163.98 L516.17,163.86 L516.56,163.73 L516.96,163.60 L517.35,163.47 L517.74,163.33 L518.13,163.20 L518.52,163.06 L518.92,162.91 L519.31,162.77 L519.70,162.62 L520.09,162.47 L520.48,162.32 L520.88,162.16 L521.27,162.01 L521.66,161.85 L522.05,161.68 L522.45,161.51 L522.84,161.34 L523.23,161.17 L523.62,160.99 L524.01,160.81 L524.41,160.63 L524.80,160.44 L525.19,160.25 L525.58,160.06 L525.97,159.86 L526.37,159.65 L526.76,159.45 L527.15,159.24 L527.54,159.02 L527.94,158.80 L528.33,158.58 L528.72,158.35 L529.11,158.12 L529.50,157.88 L529.90,157.64 L530.29,157.39 L530.68,157.14 L531.07,156.88 L531.46,156.62 L531.86,156.35 L532.25,156.08 L532.64,155.80 L533.03,155.51 L533.43,155.22 L533.82,154.92 L534.21,154.62 L534.60,154.31 L534.99,153.99 L535.39,153.66 L535.78,153.33 L536.17,152.99 L536.56,152.64 L536.96,152.29 L537.35,151.92 L537.74,151.55 L538.13,151.17 L538.52,150.78 L538.92,150.39 L539.31,149.98 L539.70,149.56 L540.09,149.14 L540.48,148.70 L540.88,148.26 L541.27,147.80 L541.66,147.33 L542.05,146.85 L542.45,146.36 L542.84,145.86 L543.23,145.35 L543.62,144.82 L544.01,144.28 L544.41,143.73 L544.80,143.17 L545.19,142.59 L545.58,142.00 L545.97,141.39 L546.37,140.77 L546.76,140.13 L547.15,139.48 L547.54,138.81 L547.94,138.12 L548.33,137.42 L548.72,136.70 L549.11,135.97 L549.50,135.21 L549.90,134.44 L550.29,133.65 L550.68,132.84 L551.07,132.01 L551.46,131.16 L551.86,130.30 L552.25,129.41 L552.64,128.50 L553.03,127.57 L553.43,126.62 L553.82,125.65 L554.21,124.66 L554.60,123.64 L554.99,122.61 L555.39,121.55 L555.78,120.47 L556.17,119.37 L556.56,118.26 L556.95,117.12 L557.35,115.96 L557.74,114.78 L558.13,113.58 L558.52,112.37 L558.92,111.14 L559.31,109.89 L559.70,108.63 L560.09,107.35 L560.48,106.07 L560.88,104.78 L561.27,103.47 L561.66,102.17 L562.05,100.86 L562.44,99.56 L562.84,98.25 L563.23,96.96 L563.62,95.67 L564.01,94.40 L564.41,93.15 L564.80,91.92 L565.19,90.72 L565.58,89.55 L565.97,88.42 L566.37,87.33 L566.76,86.29 L567.15,85.30 L567.54,84.37 L567.94,83.51 L568.33,82.71 L568.72,81.99 L569.11,81.34 L569.50,80.78 L569.90,80.31 L570.29,79.93 L570.68,79.64 L571.07,79.46 L571.46,79.37 L571.86,79.39 L572.25,79.51 L572.64,79.74 L573.03,80.08 L573.43,80.52 L573.82,81.06 L574.21,81.71 L574.60,82.45 L574.99,83.30 L575.39,84.23 L575.78,85.25 L576.17,86.36 L576.56,87.54 L576.95,88.79 L577.35,90.11 L577.74,91.50 L578.13,92.93 L578.52,94.42 L578.92,95.95 L579.31,97.51 L579.70,99.11 L580.09,100.73 L580.48,102.36 L580.88,104.02 L581.27,105.68 L581.66,107.34 L582.05,109.01 L582.44,110.67 L582.84,112.32 L583.23,113.95 L583.62,115.58 L584.01,117.18 L584.41,118.77 L584.80,120.33 L585.19,121.86 L585.58,123.37 L585.97,124.85 L586.37,126.30 L586.76,127.73 L587.15,129.12 L587.54,130.47 L587.93,131.80 L588.33,133.09 L588.72,134.36 L589.11,135.58 L589.50,136.78 L589.90,137.94 L590.29,139.07 L590.68,140.17 L591.07,141.24 L591.46,142.28 L591.86,143.29 L592.25,144.26 L592.64,145.21 L593.03,146.13 L593.42,147.02 L593.82,147.89 L594.21,148.72 L594.60,149.54 L594.99,150.32 L595.39,151.09 L595.78,151.82 L596.17,152.54 L596.56,153.23 L596.95,153.90 L597.35,154.55 L597.74,155.18 L598.13,155.79 L598.52,156.39 L598.92,156.96 L599.31,157.51 L599.70,158.05 L600.09,158.57 L600.48,159.07 L600.88,159.56 L601.27,160.03 L601.66,160.49 L602.05,160.94 L602.44,161.37 L602.84,161.78 L603.23,162.19 L603.62,162.58 L604.01,162.96 L604.41,163.33 L604.80,163.68 L605.19,164.03 L605.58,164.37 L605.97,164.69 L606.37,165.01 L606.76,165.31 L607.15,165.61 L607.54,165.90 L607.93,166.18 L608.33,166.45 L608.72,166.71 L609.11,166.97 L609.50,167.22 L609.90,167.46 L610.29,167.69 L610.68,167.92 L611.07,168.14 L611.46,168.35 L611.86,168.56 L612.25,168.76 L612.64,168.96 L613.03,169.15 L613.42,169.33 L613.82,169.51 L614.21,169.69 L614.60,169.86 L614.99,170.03 L615.39,170.19 L615.78,170.34 L616.17,170.49 L616.56,170.64 L616.95,170.79 L617.35,170.93 L617.74,171.06 L618.13,171.20 L618.52,171.32 L618.91,171.45 L619.31,171.57 L619.70,171.69 L620.09,171.81 L620.48,171.92 L620.88,172.03 L621.27,172.13 L621.66,172.24 L622.05,172.34 L622.44,172.44 L622.84,172.53 L623.23,172.63 L623.62,172.72 L624.01,172.81 L624.40,172.89 L624.80,172.98 L625.19,173.06 L625.58,173.14 L625.97,173.22 L626.37,173.29 L626.76,173.37 L627.15,173.44 L627.54,173.51 L627.93,173.58 L628.33,173.64 L628.72,173.71 L629.11,173.77 L629.50,173.83 L629.90,173.90 L630.29,173.95 L630.68,174.01 L631.07,174.07 L631.46,174.12 L631.86,174.18 L632.25,174.23 L632.64,174.28 L633.03,174.33 L633.42,174.38 L633.82,174.42 L634.21,174.47 L634.60,174.52 L634.99,174.56 L635.39,174.60 L635.78,174.64 L636.17,174.69 L636.56,174.73 L636.95,174.76 L637.35,174.80 L637.74,174.84 L638.13,174.88 L638.52,174.91 L638.91,174.95 L639.31,174.98 L639.70,175.01 L640.09,175.05 L640.48,175.08 L640.88,175.11 L641.27,175.14 L641.66,175.17 L642.05,175.20 L642.44,175.23 L642.84,175.26 L643.23,175.28 L643.62,175.31 L644.01,175.34 L644.40,175.36 L644.80,175.39 L645.19,175.41 L645.58,175.43 L645.97,175.46 L646.37,175.48 L646.76,175.50 L647.15,175.53 L647.54,175.55 L647.93,175.57 L648.33,175.59 L648.72,175.61 L649.11,175.63 L649.50,175.65 L649.89,175.67 L650.29,175.69 L650.68,175.71 L651.07,175.73 L651.46,175.75 L651.86,175.76 L652.25,175.78 L652.64,175.80 L653.03,175.81 L653.42,175.83 L653.82,175.85 L654.21,175.86 L654.60,175.88 L654.99,175.90 L655.38,175.91 L655.78,175.93 L656.17,175.94 L656.56,175.96 L656.95,175.97 L657.35,175.99 L657.74,176.00 L658.13,176.01 L658.52,176.03 L658.91,176.04 L659.31,176.06 L659.70,176.07 L660.09,176.08 L660.48,176.10 L660.87,176.11 L661.27,176.12 L661.66,176.13 L662.05,176.15 L662.44,176.16 L662.84,176.17 L663.23,176.19 L663.62,176.20 L664.01,176.21 L664.40,176.22 L664.80,176.24 L665.19,176.25 L665.58,176.26 L665.97,176.27 L666.37,176.28 L666.76,176.30 L667.15,176.31 L667.54,176.32 L667.93,176.33 L668.33,176.34 L668.72,176.36 L669.11,176.37 L669.50,176.38 L669.89,176.39 L670.29,176.40 L670.68,176.42 L671.07,176.43 L671.46,176.44 L671.86,176.45 L672.25,176.46 L672.64,176.48 L673.03,176.49 L673.42,176.50 L673.82,176.51 L674.21,176.52 L674.60,176.54 L674.99,176.55 L675.38,176.56 L675.78,176.57 L676.17,176.59 L676.56,176.60 L676.95,176.61 L677.35,176.62 L677.74,176.64 L678.13,176.65 L678.52,176.66 L678.91,176.67 L679.31,176.69 L679.70,176.70 L680.09,176.71 L680.48,176.73 L680.87,176.74 L681.27,176.76 L681.66,176.77 L682.05,176.78 L682.44,176.80 L682.84,176.81 L683.23,176.82 L683.62,176.84 L684.01,176.85 L684.40,176.87 L684.80,176.88 L685.19,176.90 L685.58,176.91 L685.97,176.93 L686.36,176.94 L686.76,176.96" fill="none" stroke="#2ca02c" stroke-width="1.5" stroke-linejoin="round" clip-path="url(#clipc)"/>
<path d="M412.24,175.57 L412.64,175.57 L413.03,175.56 L413.42,175.56 L413.81,175.56 L414.20,175.56 L414.60,175.56 L414.99,175.56 L415.38,175.56 L415.77,175.56 L416.16,175.56 L416.56,175.56 L416.95,175.55 L417.34,175.55 L417.73,175.55 L418.13,175.55 L418.52,175.55 L418.91,175.55 L419.30,175.55 L419.69,175.55 L420.09,175.55 L420.48,175.54 L420.87,175.54 L421.26,175.54 L421.65,175.54 L422.05,175.54 L422.44,175.54 L422.83,175.54 L423.22,175.54 L423.62,175.54 L424.01,175.53 L424.40,175.53 L424.79,175.53 L425.18,175.53 L425.58,175.53 L425.97,175.53 L426.36,175.53 L426.75,175.53 L427.14,175.52 L427.54,175.52 L427.93,175.52 L428.32,175.52 L428.71,175.52 L429.11,175.52 L429.50,175.52 L429.89,175.51 L430.28,175.51 L430.67,175.51 L431.07,175.51 L431.46,175.51 L431.85,175.51 L432.24,175.51 L432.63,175.51 L433.03,175.50 L433.42,175.50 L433.81,175.50 L434.20,175.50 L434.60,175.50 L434.99,175.50 L435.38,175.49 L435.77,175.49 L436.16,175.49 L436.56,175.49 L436.95,175.49 L437.34,175.49 L437.73,175.49 L438.13,175.48 L438.52,175.48 L438.91,175.48 L439.30,175.48 L439.69,175.48 L440.09,175.48 L440.48,175.47 L440.87,175.47 L441.26,175.47 L441.65,175.47 L442.05,175.47 L442.44,175.47 L442.83,175.46 L443.22,175.46 L443.62,175.46 L444.01,175.46 L444.40,175.46 L444.79,175.45 L445.18,175.45 L445.58,175.45 L445.97,175.45 L446.36,175.45 L446.75,175.45 L447.14,175.44 L447.54,175.44 L447.93,175.44 L448.32,175.44 L448.71,175.44 L449.11,175.43 L449.50,175.43 L449.89,175.43 L450.28,175.43 L450.67,175.43 L451.07,175.42 L451.46,175.42 L451.85,175.42 L452.24,175.42 L452.63,175.41 L453.03,175.41 L453.42,175.41 L453.81,175.41 L454.20,175.41 L454.60,175.40 L454.99,175.40 L455.38,175.40 L455.77,175.40 L456.16,175.39 L456.56,175.39 L456.95,175.39 L457.34,175.39 L457.73,175.38 L458.12,175.38 L458.52,175.38 L458.91,175.38 L459.30,175.37 L459.69,175.37 L460.09,175.37 L460.48,175.37 L460.87,175.36 L461.26,175.36 L461.65,175.36 L462.05,175.36 L462.44,175.35 L462.83,175.35 L463.22,175.35 L463.61,175.34 L464.01,175.34 L464.40,175.34 L464.79,175.34 L465.18,175.33 L465.58,175.33 L465.97,175.33 L466.36,175.32 L466.75,175.32 L467.14,175.32 L467.54,175.31 L467.93,175.31 L468.32,175.31 L468.71,175.31 L469.10,175.30 L469.50,175.30 L469.89,175.30 L470.28,175.29 L470.67,175.29 L471.07,175.29 L471.46,175.28 L471.85,175.28 L472.24,175.27 L472.63,175.27 L473.03,175.27 L473.42,175.26 L473.81,175.26 L474.20,175.26 L474.60,175.25 L474.99,175.25 L475.38,175.25 L475.77,175.24 L476.16,175.24 L476.56,175.23 L476.95,175.23 L477.34,175.23 L477.73,175.22 L478.12,175.22 L478.52,175.21 L478.91,175.21 L479.30,175.20 L479.69,175.20 L480.09,175.20 L480.48,175.19 L480.87,175.19 L481.26,175.18 L481.65,175.18 L482.05,175.17 L482.44,175.17 L482.83,175.16 L483.22,175.16 L483.61,175.15 L484.01,175.15 L484.40,175.14 L484.79,175.14 L485.18,175.13 L485.58,175.13 L485.97,175.12 L486.36,175.12 L486.75,175.11 L487.14,175.11 L487.54,175.10 L487.93,175.10 L488.32,175.09 L488.71,175.09 L489.10,175.08 L489.50,175.07 L489.89,175.07 L490.28,175.06 L490.67,175.06 L491.07,175.05 L491.46,175.04 L491.85,175.04 L492.24,175.03 L492.63,175.02 L493.03,175.02 L493.42,175.01 L493.81,175.01 L494.20,175.00 L494.59,174.99 L494.99,174.98 L495.38,174.98 L495.77,174.97 L496.16,174.96 L496.56,174.96 L496.95,174.95 L497.34,174.94 L497.73,174.93 L498.12,174.93 L498.52,174.92 L498.91,174.91 L499.30,174.90 L499.69,174.89 L500.08,174.89 L500.48,174.88 L500.87,174.87 L501.26,174.86 L501.65,174.85 L502.05,174.84 L502.44,174.83 L502.83,174.83 L503.22,174.82 L503.61,174.81 L504.01,174.80 L504.40,174.79 L504.79,174.78 L505.18,174.77 L505.58,174.76 L505.97,174.75 L506.36,174.74 L506.75,174.73 L507.14,174.72 L507.54,174.71 L507.93,174.70 L508.32,174.68 L508.71,174.67 L509.10,174.66 L509.50,174.65 L509.89,174.64 L510.28,174.63 L510.67,174.61 L511.07,174.60 L511.46,174.59 L511.85,174.58 L512.24,174.56 L512.63,174.55 L513.03,174.54 L513.42,174.52 L513.81,174.51 L514.20,174.50 L514.59,174.48 L514.99,174.47 L515.38,174.45 L515.77,174.44 L516.16,174.42 L516.56,174.41 L516.95,174.39 L517.34,174.38 L517.73,174.36 L518.12,174.34 L518.52,174.33 L518.91,174.31 L519.30,174.29 L519.69,174.28 L520.08,174.26 L520.48,174.24 L520.87,174.22 L521.26,174.20 L521.65,174.18 L522.05,174.16 L522.44,174.14 L522.83,174.12 L523.22,174.10 L523.61,174.08 L524.01,174.06 L524.40,174.04 L524.79,174.02 L525.18,173.99 L525.57,173.97 L525.97,173.95 L526.36,173.92 L526.75,173.90 L527.14,173.87 L527.54,173.85 L527.93,173.82 L528.32,173.80 L528.71,173.77 L529.10,173.74 L529.50,173.71 L529.89,173.68 L530.28,173.66 L530.67,173.63 L531.06,173.59 L531.46,173.56 L531.85,173.53 L532.24,173.50 L532.63,173.47 L533.03,173.43 L533.42,173.40 L533.81,173.36 L534.20,173.33 L534.59,173.29 L534.99,173.25 L535.38,173.21 L535.77,173.18 L536.16,173.13 L536.56,173.09 L536.95,173.05 L537.34,173.01 L537.73,172.96 L538.12,172.92 L538.52,172.87 L538.91,172.83 L539.30,172.78 L539.69,172.73 L540.08,172.68 L540.48,172.63 L540.87,172.57 L541.26,172.52 L541.65,172.46 L542.05,172.40 L542.44,172.34 L542.83,172.28 L543.22,172.22 L543.61,172.16 L544.01,172.09 L544.40,172.03 L544.79,171.96 L545.18,171.89 L545.57,171.81 L545.97,171.74 L546.36,171.66 L546.75,171.58 L547.14,171.50 L547.54,171.42 L547.93,171.33 L548.32,171.25 L548.71,171.15 L549.10,171.06 L549.50,170.96 L549.89,170.86 L550.28,170.76 L550.67,170.66 L551.06,170.55 L551.46,170.44 L551.85,170.32 L552.24,170.20 L552.63,170.08 L553.03,169.95 L553.42,169.82 L553.81,169.68 L554.20,169.54 L554.59,169.40 L554.99,169.25 L555.38,169.09 L555.77,168.93 L556.16,168.76 L556.55,168.59 L556.95,168.41 L557.34,168.23 L557.73,168.03 L558.12,167.83 L558.52,167.63 L558.91,167.41 L559.30,167.19 L559.69,166.95 L560.08,166.71 L560.48,166.46 L560.87,166.20 L561.26,165.93 L561.65,165.64 L562.04,165.35 L562.44,165.04 L562.83,164.72 L563.22,164.38 L563.61,164.03 L564.01,163.66 L564.40,163.28 L564.79,162.88 L565.18,162.46 L565.57,162.02 L565.97,161.56 L566.36,161.07 L566.75,160.56 L567.14,160.03 L567.54,159.47 L567.93,158.88 L568.32,158.26 L568.71,157.61 L569.10,156.92 L569.50,156.19 L569.89,155.42 L570.28,154.61 L570.67,153.76 L571.06,152.85 L571.46,151.89 L571.85,150.88 L572.24,149.80 L572.63,148.66 L573.03,147.44 L573.42,146.15 L573.81,144.78 L574.20,143.32 L574.59,141.76 L574.99,140.10 L575.38,138.33 L575.77,136.44 L576.16,134.42 L576.55,132.26 L576.95,129.96 L577.34,127.49 L577.73,124.85 L578.12,122.03 L578.52,119.02 L578.91,115.79 L579.30,112.35 L579.69,108.67 L580.08,104.75 L580.48,100.58 L580.87,96.16 L581.26,91.48 L581.65,86.54 L582.04,81.36 L582.44,75.95 L582.83,70.34 L583.22,64.57 L583.61,58.70 L584.01,52.80 L584.40,46.96 L584.79,41.27 L585.18,35.86 L585.57,30.86 L585.97,26.39 L586.36,22.60 L586.75,19.61 L587.14,17.52 L587.53,16.40 L587.93,16.29 L588.32,17.21 L588.71,19.10 L589.10,21.90 L589.50,25.52 L589.89,29.82 L590.28,34.69 L590.67,39.97 L591.06,45.56 L591.46,51.32 L591.85,57.15 L592.24,62.96 L592.63,68.69 L593.02,74.27 L593.42,79.66 L593.81,84.84 L594.20,89.78 L594.59,94.46 L594.99,98.90 L595.38,103.08 L595.77,107.02 L596.16,110.72 L596.55,114.18 L596.95,117.43 L597.34,120.47 L597.73,123.32 L598.12,125.98 L598.52,128.47 L598.91,130.81 L599.30,132.99 L599.69,135.04 L600.08,136.95 L600.48,138.75 L600.87,140.43 L601.26,142.01 L601.65,143.50 L602.04,144.90 L602.44,146.21 L602.83,147.45 L603.22,148.61 L603.61,149.71 L604.01,150.75 L604.40,151.73 L604.79,152.65 L605.18,153.53 L605.57,154.36 L605.97,155.14 L606.36,155.89 L606.75,156.59 L607.14,157.26 L607.53,157.90 L607.93,158.51 L608.32,159.08 L608.71,159.63 L609.10,160.15 L609.50,160.65 L609.89,161.13 L610.28,161.58 L610.67,162.01 L611.06,162.43 L611.46,162.82 L611.85,163.20 L612.24,163.56 L612.63,163.91 L613.02,164.24 L613.42,164.56 L613.81,164.87 L614.20,165.16 L614.59,165.45 L614.99,165.72 L615.38,165.98 L615.77,166.23 L616.16,166.47 L616.55,166.70 L616.95,166.93 L617.34,167.14 L617.73,167.35 L618.12,167.55 L618.51,167.75 L618.91,167.93 L619.30,168.11 L619.69,168.29 L620.08,168.45 L620.48,168.62 L620.87,168.77 L621.26,168.93 L621.65,169.07 L622.04,169.22 L622.44,169.35 L622.83,169.49 L623.22,169.62 L623.61,169.74 L624.00,169.86 L624.40,169.98 L624.79,170.10 L625.18,170.21 L625.57,170.32 L625.97,170.42 L626.36,170.52 L626.75,170.62 L627.14,170.72 L627.53,170.81 L627.93,170.90 L628.32,170.99 L628.71,171.08 L629.10,171.16 L629.50,171.24 L629.89,171.32 L630.28,171.40 L630.67,171.47 L631.06,171.54 L631.46,171.62 L631.85,171.69 L632.24,171.75 L632.63,171.82 L633.02,171.88 L633.42,171.95 L633.81,172.01 L634.20,172.07 L634.59,172.12 L634.99,172.18 L635.38,172.24 L635.77,172.29 L636.16,172.34 L636.55,172.40 L636.95,172.45 L637.34,172.50 L637.73,172.54 L638.12,172.59 L638.51,172.64 L638.91,172.68 L639.30,172.73 L639.69,172.77 L640.08,172.81 L640.48,172.85 L640.87,172.89 L641.26,172.93 L641.65,172.97 L642.04,173.01 L642.44,173.05 L642.83,173.08 L643.22,173.12 L643.61,173.16 L644.00,173.19 L644.40,173.22 L644.79,173.26 L645.18,173.29 L645.57,173.32 L645.97,173.35 L646.36,173.38 L646.75,173.41 L647.14,173.44 L647.53,173.47 L647.93,173.50 L648.32,173.52 L648.71,173.55 L649.10,173.58 L649.49,173.60 L649.89,173.63 L650.28,173.66 L650.67,173.68 L651.06,173.70 L651.46,173.73 L651.85,173.75 L652.24,173.77 L652.63,173.80 L653.02,173.82 L653.42,173.84 L653.81,173.86 L654.20,173.88 L654.59,173.90 L654.98,173.92 L655.38,173.94 L655.77,173.96 L656.16,173.98 L656.55,174.00 L656.95,174.02 L657.34,174.04 L657.73,174.06 L658.12,174.08 L658.51,174.09 L658.91,174.11 L659.30,174.13 L659.69,174.14 L660.08,174.16 L660.47,174.18 L660.87,174.19 L661.26,174.21 L661.65,174.22 L662.04,174.24 L662.44,174.25 L662.83,174.27 L663.22,174.28 L663.61,174.30 L664.00,174.31 L664.40,174.33 L664.79,174.34 L665.18,174.35 L665.57,174.37 L665.97,174.38 L666.36,174.39 L666.75,174.41 L667.14,174.42 L667.53,174.43 L667.93,174.44 L668.32,174.45 L668.71,174.47 L669.10,174.48 L669.49,174.49 L669.89,174.50 L670.28,174.51 L670.67,174.52 L671.06,174.53 L671.46,174.54 L671.85,174.55 L672.24,174.57 L672.63,174.58 L673.02,174.59 L673.42,174.60 L673.81,174.61 L674.20,174.62 L674.59,174.63 L674.98,174.63 L675.38,174.64 L675.77,174.65 L676.16,174.66 L676.55,174.67 L676.95,174.68 L677.34,174.69 L677.73,174.70 L678.12,174.71 L678.51,174.72 L678.91,174.72 L679.30,174.73 L679.69,174.74 L680.08,174.75 L680.47,174.76 L680.87,174.76 L681.26,174.77 L681.65,174.78 L682.04,174.79 L682.44,174.79 L682.83,174.80 L683.22,174.81 L683.61,174.82 L684.00,174.82 L684.40,174.83 L684.79,174.84 L685.18,174.84 L685.57,174.85 L685.96,174.86 L686.36,174.86" fill="none" stroke="#d62728" stroke-width="1.5" stroke-linejoin="round" stroke-dasharray="1.6 1.61" clip-path="url(#clipc)"/>
<line x1="413.60" y1="185.0" x2="413.60" y2="188.0" stroke="#1a1a1a" stroke-width="0.95"/>
<text x="413.60" y="198.90" font-size="9.8" text-anchor="middle"><tspan dy="0.00">400</tspan></text>
<line x1="447.53" y1="185.0" x2="447.53" y2="188.0" stroke="#1a1a1a" stroke-width="0.95"/>
<text x="447.53" y="198.90" font-size="9.8" text-anchor="middle"><tspan dy="0.00">425</tspan></text>
<line x1="481.45" y1="185.0" x2="481.45" y2="188.0" stroke="#1a1a1a" stroke-width="0.95"/>
<text x="481.45" y="198.90" font-size="9.8" text-anchor="middle"><tspan dy="0.00">450</tspan></text>
<line x1="515.38" y1="185.0" x2="515.38" y2="188.0" stroke="#1a1a1a" stroke-width="0.95"/>
<text x="515.38" y="198.90" font-size="9.8" text-anchor="middle"><tspan dy="0.00">475</tspan></text>
<line x1="549.30" y1="185.0" x2="549.30" y2="188.0" stroke="#1a1a1a" stroke-width="0.95"/>
<text x="549.30" y="198.90" font-size="9.8" text-anchor="middle"><tspan dy="0.00">500</tspan></text>
<line x1="583.23" y1="185.0" x2="583.23" y2="188.0" stroke="#1a1a1a" stroke-width="0.95"/>
<text x="583.23" y="198.90" font-size="9.8" text-anchor="middle"><tspan dy="0.00">525</tspan></text>
<line x1="617.15" y1="185.0" x2="617.15" y2="188.0" stroke="#1a1a1a" stroke-width="0.95"/>
<text x="617.15" y="198.90" font-size="9.8" text-anchor="middle"><tspan dy="0.00">550</tspan></text>
<line x1="651.08" y1="185.0" x2="651.08" y2="188.0" stroke="#1a1a1a" stroke-width="0.95"/>
<text x="651.08" y="198.90" font-size="9.8" text-anchor="middle"><tspan dy="0.00">575</tspan></text>
<line x1="685.00" y1="185.0" x2="685.00" y2="188.0" stroke="#1a1a1a" stroke-width="0.95"/>
<text x="685.00" y="198.90" font-size="9.8" text-anchor="middle"><tspan dy="0.00">600</tspan></text>
<line x1="410.6" y1="175.75" x2="413.6" y2="175.75" stroke="#1a1a1a" stroke-width="0.95"/>
<text x="408.00" y="179.75" font-size="9.8" text-anchor="end"><tspan dy="0.00">0</tspan></text>
<line x1="410.6" y1="146.14" x2="413.6" y2="146.14" stroke="#1a1a1a" stroke-width="0.95"/>
<text x="408.00" y="150.14" font-size="9.8" text-anchor="end"><tspan dy="0.00">50</tspan></text>
<line x1="410.6" y1="116.53" x2="413.6" y2="116.53" stroke="#1a1a1a" stroke-width="0.95"/>
<text x="408.00" y="120.53" font-size="9.8" text-anchor="end"><tspan dy="0.00">100</tspan></text>
<line x1="410.6" y1="86.92" x2="413.6" y2="86.92" stroke="#1a1a1a" stroke-width="0.95"/>
<text x="408.00" y="90.92" font-size="9.8" text-anchor="end"><tspan dy="0.00">150</tspan></text>
<line x1="410.6" y1="57.31" x2="413.6" y2="57.31" stroke="#1a1a1a" stroke-width="0.95"/>
<text x="408.00" y="61.31" font-size="9.8" text-anchor="end"><tspan dy="0.00">200</tspan></text>
<line x1="410.6" y1="27.70" x2="413.6" y2="27.70" stroke="#1a1a1a" stroke-width="0.95"/>
<text x="408.00" y="31.70" font-size="9.8" text-anchor="end"><tspan dy="0.00">250</tspan></text>
<rect x="413.6" y="8.55" width="271.40" height="176.45" fill="none" stroke="#1a1a1a" stroke-width="0.95"/>
<text x="549.30" y="215.10" font-size="10.7" text-anchor="middle"><tspan dy="0.00">wavenumber [cm</tspan><tspan dy="-3.85" font-size="7.49">−1</tspan><tspan dy="3.85" dx="0.48">]</tspan></text>
<text x="659.70" y="27.95" font-size="16.5" text-anchor="start"><tspan dy="0.00">(c)</tspan></text>
<text x="382.30" y="140.50" font-size="12.0" text-anchor="start" transform="rotate(-90 382.30 140.50)"><tspan dy="0.00" font-style="italic">σ</tspan><tspan dy="2.40" font-size="5.04">1a</tspan><tspan dy="-2.40"> [Ω</tspan><tspan dy="-4.32" font-size="8.40">−1</tspan><tspan dy="4.32">cm</tspan><tspan dy="-4.32" font-size="8.40">−1</tspan><tspan dy="4.32">]</tspan></text>
<line x1="417.90" y1="18.00" x2="439.70" y2="18.00" stroke="#1f77b4" stroke-width="1.5"/>
<text x="440.50" y="21.65" font-size="10.9" text-anchor="start"><tspan dy="0.00">Re</tspan><tspan dy="0.00" font-style="italic">σ</tspan><tspan dy="2.07" font-size="7.74">a</tspan></text>
<line x1="417.90" y1="35.85" x2="439.70" y2="35.85" stroke="#ff7f0e" stroke-width="1.5"/>
<text x="452.90" y="34.50" font-size="8.3" text-anchor="middle"><tspan dy="0.00" font-style="italic">a</tspan><tspan dy="0.00">'</tspan></text>
<text x="452.50" y="43.90" font-size="8.3" text-anchor="middle"><tspan dy="0.00" font-style="italic">a</tspan><tspan dy="0.00">'</tspan><tspan dy="0.00" dx="1.66">+</tspan><tspan dy="0.00" dx="1.66" font-style="italic">b</tspan></text>
<line x1="440.90" y1="36.55" x2="464.00" y2="36.55" stroke="#000" stroke-width="0.9"/>
<text x="464.90" y="39.60" font-size="10.9" text-anchor="start"><tspan dy="0.00">Re</tspan><tspan dy="0.00" font-style="italic">σ</tspan><tspan dy="2.07" font-size="7.74">r</tspan><tspan dy="-2.07" dx="0.49" font-style="italic">E</tspan><tspan dy="2.07" font-size="7.74">r</tspan><tspan dy="-2.07" dx="0.49">/</tspan><tspan dy="0.00" font-style="italic">E</tspan><tspan dy="2.07" font-size="7.74">a</tspan></text>
<line x1="417.90" y1="54.07" x2="439.70" y2="54.07" stroke="#2ca02c" stroke-width="1.5"/>
<text x="440.50" y="57.65" font-size="10.9" text-anchor="start"><tspan dy="0.00">Re−</tspan><tspan dy="0.00" font-style="italic">iεωχE</tspan><tspan dy="2.07" font-size="7.74">ph</tspan><tspan dy="0.00" dx="0.76" font-size="7.74">−</tspan><tspan dy="0.00" dx="0.76" font-size="7.74">leg</tspan><tspan dy="-2.07" dx="1.91">/</tspan><tspan dy="0.00" dx="1.74" font-style="italic">E</tspan><tspan dy="2.07" font-size="7.74">a</tspan></text>
<line x1="417.90" y1="70.80" x2="439.70" y2="70.80" stroke="#d62728" stroke-width="1.5" stroke-dasharray="1.6 1.61"/>
<text x="440.50" y="74.20" font-size="10.9" text-anchor="start"><tspan dy="0.00">Re</tspan><tspan dy="0.00" font-style="italic">σ</tspan><tspan dy="2.07" font-size="7.74">ph</tspan></text>
<path d="M47.91,358.87 L48.31,358.84 L48.70,358.80 L49.09,358.77 L49.48,358.73 L49.87,358.69 L50.26,358.66 L50.65,358.62 L51.05,358.58 L51.44,358.54 L51.83,358.50 L52.22,358.46 L52.61,358.42 L53.00,358.38 L53.39,358.34 L53.79,358.30 L54.18,358.26 L54.57,358.22 L54.96,358.18 L55.35,358.14 L55.74,358.09 L56.13,358.05 L56.52,358.01 L56.92,357.96 L57.31,357.92 L57.70,357.88 L58.09,357.83 L58.48,357.79 L58.87,357.74 L59.26,357.69 L59.66,357.65 L60.05,357.60 L60.44,357.55 L60.83,357.50 L61.22,357.46 L61.61,357.41 L62.00,357.36 L62.40,357.31 L62.79,357.26 L63.18,357.21 L63.57,357.16 L63.96,357.11 L64.35,357.06 L64.74,357.00 L65.13,356.95 L65.53,356.90 L65.92,356.84 L66.31,356.79 L66.70,356.74 L67.09,356.68 L67.48,356.63 L67.87,356.57 L68.27,356.51 L68.66,356.46 L69.05,356.40 L69.44,356.34 L69.83,356.28 L70.22,356.22 L70.61,356.17 L71.01,356.11 L71.40,356.05 L71.79,355.98 L72.18,355.92 L72.57,355.86 L72.96,355.80 L73.35,355.74 L73.75,355.67 L74.14,355.61 L74.53,355.54 L74.92,355.48 L75.31,355.41 L75.70,355.35 L76.09,355.28 L76.48,355.21 L76.88,355.15 L77.27,355.08 L77.66,355.01 L78.05,354.94 L78.44,354.87 L78.83,354.80 L79.22,354.73 L79.62,354.65 L80.01,354.58 L80.40,354.51 L80.79,354.43 L81.18,354.36 L81.57,354.28 L81.96,354.21 L82.36,354.13 L82.75,354.05 L83.14,353.98 L83.53,353.90 L83.92,353.82 L84.31,353.74 L84.70,353.66 L85.10,353.58 L85.49,353.50 L85.88,353.43 L86.27,353.35 L86.66,353.27 L87.05,353.19 L87.44,353.12 L87.83,353.04 L88.23,352.96 L88.62,352.87 L89.01,352.79 L89.40,352.71 L89.79,352.63 L90.18,352.54 L90.57,352.46 L90.97,352.37 L91.36,352.28 L91.75,352.20 L92.14,352.11 L92.53,352.02 L92.92,351.93 L93.31,351.84 L93.71,351.75 L94.10,351.65 L94.49,351.56 L94.88,351.46 L95.27,351.37 L95.66,351.27 L96.05,351.17 L96.44,351.07 L96.84,350.97 L97.23,350.87 L97.62,350.77 L98.01,350.67 L98.40,350.56 L98.79,350.46 L99.18,350.35 L99.58,350.24 L99.97,350.13 L100.36,350.02 L100.75,349.91 L101.14,349.80 L101.53,349.69 L101.92,349.57 L102.32,349.46 L102.71,349.34 L103.10,349.22 L103.49,349.10 L103.88,348.98 L104.27,348.86 L104.66,348.74 L105.06,348.61 L105.45,348.49 L105.84,348.36 L106.23,348.23 L106.62,348.10 L107.01,347.97 L107.40,347.83 L107.79,347.70 L108.19,347.56 L108.58,347.42 L108.97,347.28 L109.36,347.13 L109.75,346.99 L110.14,346.84 L110.53,346.69 L110.93,346.53 L111.32,346.38 L111.71,346.22 L112.10,346.06 L112.49,345.90 L112.88,345.73 L113.27,345.56 L113.67,345.39 L114.06,345.22 L114.45,345.04 L114.84,344.86 L115.23,344.68 L115.62,344.50 L116.01,344.32 L116.41,344.13 L116.80,343.94 L117.19,343.74 L117.58,343.55 L117.97,343.35 L118.36,343.14 L118.75,342.94 L119.14,342.73 L119.54,342.52 L119.93,342.31 L120.32,342.09 L120.71,341.87 L121.10,341.65 L121.49,341.42 L121.88,341.20 L122.28,340.96 L122.67,340.73 L123.06,340.49 L123.45,340.25 L123.84,340.01 L124.23,339.76 L124.62,339.51 L125.02,339.25 L125.41,338.99 L125.80,338.73 L126.19,338.47 L126.58,338.20 L126.97,337.93 L127.36,337.66 L127.75,337.38 L128.15,337.10 L128.54,336.81 L128.93,336.52 L129.32,336.23 L129.71,335.93 L130.10,335.63 L130.49,335.32 L130.89,335.00 L131.28,334.69 L131.67,334.36 L132.06,334.03 L132.45,333.70 L132.84,333.36 L133.23,333.01 L133.63,332.66 L134.02,332.30 L134.41,331.93 L134.80,331.56 L135.19,331.18 L135.58,330.79 L135.97,330.40 L136.37,330.00 L136.76,329.59 L137.15,329.18 L137.54,328.76 L137.93,328.33 L138.32,327.90 L138.71,327.46 L139.10,327.02 L139.50,326.57 L139.89,326.12 L140.28,325.66 L140.67,325.20 L141.06,324.73 L141.45,324.26 L141.84,323.79 L142.24,323.31 L142.63,322.83 L143.02,322.35 L143.41,321.87 L143.80,321.39 L144.19,320.90 L144.58,320.42 L144.98,319.95 L145.37,319.47 L145.76,319.00 L146.15,318.53 L146.54,318.07 L146.93,317.61 L147.32,317.17 L147.72,316.73 L148.11,316.30 L148.50,315.89 L148.89,315.49 L149.28,315.11 L149.67,314.75 L150.06,314.40 L150.45,314.08 L150.85,313.79 L151.24,313.52 L151.63,313.29 L152.02,313.08 L152.41,312.92 L152.80,312.79 L153.19,312.71 L153.59,312.67 L153.98,312.68 L154.37,312.75 L154.76,312.86 L155.15,313.03 L155.54,313.26 L155.93,313.55 L156.33,313.91 L156.72,314.33 L157.11,314.83 L157.50,315.40 L157.89,316.04 L158.28,316.76 L158.67,317.56 L159.06,318.43 L159.46,319.38 L159.85,320.40 L160.24,321.50 L160.63,322.66 L161.02,323.89 L161.41,325.17 L161.80,326.51 L162.20,327.89 L162.59,329.32 L162.98,330.79 L163.37,332.29 L163.76,333.82 L164.15,335.37 L164.54,336.93 L164.94,338.50 L165.33,340.07 L165.72,341.64 L166.11,343.20 L166.50,344.74 L166.89,346.26 L167.28,347.76 L167.68,349.22 L168.07,350.66 L168.46,352.06 L168.85,353.42 L169.24,354.73 L169.63,356.01 L170.02,357.24 L170.41,358.42 L170.81,359.56 L171.20,360.65 L171.59,361.69 L171.98,362.68 L172.37,363.63 L172.76,364.53 L173.15,365.38 L173.55,366.19 L173.94,366.95 L174.33,367.67 L174.72,368.35 L175.11,368.99 L175.50,369.59 L175.89,370.16 L176.29,370.69 L176.68,371.18 L177.07,371.64 L177.46,372.07 L177.85,372.47 L178.24,372.84 L178.63,373.18 L179.03,373.50 L179.42,373.79 L179.81,374.06 L180.20,374.30 L180.59,374.53 L180.98,374.73 L181.37,374.92 L181.76,375.09 L182.16,375.24 L182.55,375.38 L182.94,375.50 L183.33,375.60 L183.72,375.70 L184.11,375.78 L184.50,375.85 L184.90,375.91 L185.29,375.95 L185.68,375.99 L186.07,376.02 L186.46,376.04 L186.85,376.05 L187.24,376.06 L187.64,376.06 L188.03,376.05 L188.42,376.03 L188.81,376.01 L189.20,375.98 L189.59,375.95 L189.98,375.91 L190.37,375.87 L190.77,375.83 L191.16,375.78 L191.55,375.73 L191.94,375.68 L192.33,375.63 L192.72,375.57 L193.11,375.52 L193.51,375.46 L193.90,375.40 L194.29,375.34 L194.68,375.27 L195.07,375.21 L195.46,375.14 L195.85,375.08 L196.25,375.01 L196.64,374.94 L197.03,374.87 L197.42,374.80 L197.81,374.73 L198.20,374.66 L198.59,374.59 L198.99,374.52 L199.38,374.45 L199.77,374.38 L200.16,374.30 L200.55,374.23 L200.94,374.15 L201.33,374.08 L201.72,374.01 L202.12,373.93 L202.51,373.86 L202.90,373.78 L203.29,373.70 L203.68,373.63 L204.07,373.55 L204.46,373.47 L204.86,373.40 L205.25,373.32 L205.64,373.24 L206.03,373.16 L206.42,373.09 L206.81,373.01 L207.20,372.94 L207.60,372.86 L207.99,372.79 L208.38,372.71 L208.77,372.64 L209.16,372.57 L209.55,372.50 L209.94,372.42 L210.34,372.35 L210.73,372.28 L211.12,372.21 L211.51,372.14 L211.90,372.07 L212.29,372.00 L212.68,371.93 L213.07,371.86 L213.47,371.79 L213.86,371.72 L214.25,371.65 L214.64,371.58 L215.03,371.51 L215.42,371.44 L215.81,371.36 L216.21,371.29 L216.60,371.22 L216.99,371.15 L217.38,371.08 L217.77,371.01 L218.16,370.94 L218.55,370.87 L218.95,370.80 L219.34,370.73 L219.73,370.66 L220.12,370.59 L220.51,370.52 L220.90,370.45 L221.29,370.39 L221.68,370.32 L222.08,370.25 L222.47,370.18 L222.86,370.12 L223.25,370.05 L223.64,369.98 L224.03,369.92 L224.42,369.85 L224.82,369.79 L225.21,369.72 L225.60,369.66 L225.99,369.59 L226.38,369.53 L226.77,369.46 L227.16,369.40 L227.56,369.34 L227.95,369.28 L228.34,369.21 L228.73,369.15 L229.12,369.09 L229.51,369.03 L229.90,368.97 L230.30,368.91 L230.69,368.85 L231.08,368.79 L231.47,368.73 L231.86,368.67 L232.25,368.61 L232.64,368.55 L233.03,368.49 L233.43,368.43 L233.82,368.38 L234.21,368.32 L234.60,368.26 L234.99,368.21 L235.38,368.15 L235.77,368.10 L236.17,368.04 L236.56,367.99 L236.95,367.93 L237.34,367.88 L237.73,367.83 L238.12,367.77 L238.51,367.72 L238.91,367.67 L239.30,367.62 L239.69,367.57 L240.08,367.52 L240.47,367.47 L240.86,367.42 L241.25,367.37 L241.65,367.32 L242.04,367.27 L242.43,367.22 L242.82,367.17 L243.21,367.12 L243.60,367.08 L243.99,367.03 L244.38,366.98 L244.78,366.94 L245.17,366.89 L245.56,366.84 L245.95,366.79 L246.34,366.75 L246.73,366.70 L247.12,366.66 L247.52,366.61 L247.91,366.56 L248.30,366.52 L248.69,366.47 L249.08,366.43 L249.47,366.38 L249.86,366.34 L250.26,366.29 L250.65,366.25 L251.04,366.20 L251.43,366.15 L251.82,366.11 L252.21,366.06 L252.60,366.02 L252.99,365.97 L253.39,365.93 L253.78,365.88 L254.17,365.84 L254.56,365.79 L254.95,365.74 L255.34,365.70 L255.73,365.65 L256.13,365.60 L256.52,365.55 L256.91,365.50 L257.30,365.45 L257.69,365.40 L258.08,365.35 L258.47,365.29 L258.87,365.24 L259.26,365.19 L259.65,365.14 L260.04,365.09 L260.43,365.04 L260.82,364.99 L261.21,364.94 L261.61,364.89 L262.00,364.84 L262.39,364.79 L262.78,364.74 L263.17,364.70 L263.56,364.65 L263.95,364.60 L264.34,364.55 L264.74,364.51 L265.13,364.46 L265.52,364.41 L265.91,364.37 L266.30,364.32 L266.69,364.27 L267.08,364.23 L267.48,364.18 L267.87,364.14 L268.26,364.09 L268.65,364.05 L269.04,364.00 L269.43,363.96 L269.82,363.91 L270.22,363.87 L270.61,363.82 L271.00,363.78 L271.39,363.73 L271.78,363.69 L272.17,363.65 L272.56,363.60 L272.96,363.56 L273.35,363.52 L273.74,363.48 L274.13,363.43 L274.52,363.39 L274.91,363.35 L275.30,363.31 L275.69,363.27 L276.09,363.22 L276.48,363.18 L276.87,363.14 L277.26,363.10 L277.65,363.06 L278.04,363.02 L278.43,362.98 L278.83,362.94 L279.22,362.90 L279.61,362.86 L280.00,362.82 L280.39,362.78 L280.78,362.74 L281.17,362.70 L281.57,362.66 L281.96,362.62 L282.35,362.58 L282.74,362.54 L283.13,362.50 L283.52,362.47 L283.91,362.43 L284.30,362.39 L284.70,362.35 L285.09,362.31 L285.48,362.28 L285.87,362.24 L286.26,362.20 L286.65,362.17 L287.04,362.13 L287.44,362.09 L287.83,362.06 L288.22,362.02 L288.61,361.98 L289.00,361.95 L289.39,361.91 L289.78,361.87 L290.18,361.84 L290.57,361.80 L290.96,361.76 L291.35,361.73 L291.74,361.69 L292.13,361.66 L292.52,361.62 L292.92,361.59 L293.31,361.55 L293.70,361.52 L294.09,361.48 L294.48,361.45 L294.87,361.41 L295.26,361.38 L295.65,361.34 L296.05,361.31 L296.44,361.27 L296.83,361.24 L297.22,361.20 L297.61,361.17 L298.00,361.14 L298.39,361.10 L298.79,361.07 L299.18,361.04 L299.57,361.00 L299.96,360.97 L300.35,360.94 L300.74,360.90 L301.13,360.87 L301.53,360.84 L301.92,360.81 L302.31,360.77 L302.70,360.74 L303.09,360.71 L303.48,360.68 L303.87,360.65 L304.27,360.62 L304.66,360.58 L305.05,360.55 L305.44,360.52 L305.83,360.49 L306.22,360.46 L306.61,360.42 L307.00,360.39 L307.40,360.36 L307.79,360.32 L308.18,360.29 L308.57,360.25 L308.96,360.22 L309.35,360.18 L309.74,360.15 L310.14,360.11 L310.53,360.08 L310.92,360.04 L311.31,360.01 L311.70,359.98 L312.09,359.94 L312.48,359.91 L312.88,359.88 L313.27,359.85 L313.66,359.81 L314.05,359.78 L314.44,359.75 L314.83,359.73 L315.22,359.70 L315.61,359.67 L316.01,359.65 L316.40,359.62 L316.79,359.60 L317.18,359.58 L317.57,359.56 L317.96,359.54 L318.35,359.52 L318.75,359.51 L319.14,359.49 L319.53,359.48 L319.92,359.47 L320.31,359.46 L320.70,359.45 L321.09,359.44 L321.49,359.43" fill="none" stroke="#1f77b4" stroke-width="1.5" stroke-linejoin="round" clip-path="url(#clipb)"/>
<path d="M47.91,417.79 L48.31,417.81 L48.70,417.82 L49.09,417.83 L49.48,417.85 L49.87,417.86 L50.26,417.88 L50.65,417.89 L51.05,417.91 L51.44,417.92 L51.83,417.94 L52.22,417.95 L52.61,417.97 L53.00,417.98 L53.39,417.99 L53.79,418.01 L54.18,418.02 L54.57,418.04 L54.96,418.05 L55.35,418.07 L55.74,418.08 L56.13,418.10 L56.52,418.11 L56.92,418.13 L57.31,418.14 L57.70,418.16 L58.09,418.18 L58.48,418.19 L58.87,418.21 L59.26,418.22 L59.66,418.24 L60.05,418.25 L60.44,418.27 L60.83,418.28 L61.22,418.30 L61.61,418.31 L62.00,418.33 L62.40,418.34 L62.79,418.36 L63.18,418.38 L63.57,418.39 L63.96,418.41 L64.35,418.42 L64.74,418.44 L65.13,418.45 L65.53,418.47 L65.92,418.49 L66.31,418.50 L66.70,418.52 L67.09,418.53 L67.48,418.55 L67.87,418.57 L68.27,418.58 L68.66,418.60 L69.05,418.61 L69.44,418.63 L69.83,418.65 L70.22,418.66 L70.61,418.68 L71.01,418.69 L71.40,418.71 L71.79,418.73 L72.18,418.74 L72.57,418.76 L72.96,418.77 L73.35,418.79 L73.75,418.81 L74.14,418.82 L74.53,418.84 L74.92,418.85 L75.31,418.87 L75.70,418.89 L76.09,418.90 L76.48,418.92 L76.88,418.94 L77.27,418.95 L77.66,418.97 L78.05,418.98 L78.44,419.00 L78.83,419.02 L79.22,419.03 L79.62,419.05 L80.01,419.07 L80.40,419.08 L80.79,419.10 L81.18,419.11 L81.57,419.13 L81.96,419.15 L82.36,419.16 L82.75,419.18 L83.14,419.19 L83.53,419.21 L83.92,419.23 L84.31,419.24 L84.70,419.26 L85.10,419.27 L85.49,419.29 L85.88,419.30 L86.27,419.32 L86.66,419.34 L87.05,419.35 L87.44,419.37 L87.83,419.38 L88.23,419.40 L88.62,419.41 L89.01,419.43 L89.40,419.44 L89.79,419.46 L90.18,419.47 L90.57,419.49 L90.97,419.50 L91.36,419.52 L91.75,419.53 L92.14,419.55 L92.53,419.56 L92.92,419.58 L93.31,419.59 L93.71,419.60 L94.10,419.62 L94.49,419.63 L94.88,419.65 L95.27,419.66 L95.66,419.67 L96.05,419.69 L96.44,419.70 L96.84,419.71 L97.23,419.72 L97.62,419.74 L98.01,419.75 L98.40,419.76 L98.79,419.77 L99.18,419.78 L99.58,419.80 L99.97,419.81 L100.36,419.82 L100.75,419.83 L101.14,419.84 L101.53,419.85 L101.92,419.86 L102.32,419.87 L102.71,419.88 L103.10,419.89 L103.49,419.90 L103.88,419.90 L104.27,419.91 L104.66,419.92 L105.06,419.93 L105.45,419.93 L105.84,419.94 L106.23,419.94 L106.62,419.95 L107.01,419.95 L107.40,419.96 L107.79,419.96 L108.19,419.97 L108.58,419.97 L108.97,419.97 L109.36,419.97 L109.75,419.97 L110.14,419.97 L110.53,419.97 L110.93,419.97 L111.32,419.97 L111.71,419.97 L112.10,419.97 L112.49,419.96 L112.88,419.96 L113.27,419.95 L113.67,419.95 L114.06,419.94 L114.45,419.93 L114.84,419.92 L115.23,419.91 L115.62,419.90 L116.01,419.89 L116.41,419.87 L116.80,419.86 L117.19,419.84 L117.58,419.82 L117.97,419.80 L118.36,419.78 L118.75,419.76 L119.14,419.74 L119.54,419.71 L119.93,419.69 L120.32,419.66 L120.71,419.63 L121.10,419.60 L121.49,419.56 L121.88,419.53 L122.28,419.49 L122.67,419.45 L123.06,419.40 L123.45,419.36 L123.84,419.31 L124.23,419.26 L124.62,419.21 L125.02,419.15 L125.41,419.09 L125.80,419.03 L126.19,418.97 L126.58,418.90 L126.97,418.83 L127.36,418.75 L127.75,418.67 L128.15,418.59 L128.54,418.51 L128.93,418.41 L129.32,418.32 L129.71,418.22 L130.10,418.11 L130.49,418.00 L130.89,417.89 L131.28,417.77 L131.67,417.64 L132.06,417.51 L132.45,417.37 L132.84,417.23 L133.23,417.07 L133.63,416.91 L134.02,416.75 L134.41,416.57 L134.80,416.39 L135.19,416.20 L135.58,416.00 L135.97,415.79 L136.37,415.57 L136.76,415.34 L137.15,415.11 L137.54,414.86 L137.93,414.59 L138.32,414.32 L138.71,414.03 L139.10,413.73 L139.50,413.42 L139.89,413.10 L140.28,412.75 L140.67,412.40 L141.06,412.02 L141.45,411.63 L141.84,411.22 L142.24,410.80 L142.63,410.35 L143.02,409.89 L143.41,409.40 L143.80,408.89 L144.19,408.37 L144.58,407.81 L144.98,407.24 L145.37,406.64 L145.76,406.01 L146.15,405.35 L146.54,404.67 L146.93,403.97 L147.32,403.23 L147.72,402.46 L148.11,401.66 L148.50,400.83 L148.89,399.97 L149.28,399.08 L149.67,398.15 L150.06,397.19 L150.45,396.20 L150.85,395.18 L151.24,394.12 L151.63,393.02 L152.02,391.90 L152.41,390.74 L152.80,389.56 L153.19,388.34 L153.59,387.09 L153.98,385.82 L154.37,384.53 L154.76,383.21 L155.15,381.87 L155.54,380.52 L155.93,379.16 L156.33,377.79 L156.72,376.41 L157.11,375.03 L157.50,373.66 L157.89,372.30 L158.28,370.96 L158.67,369.63 L159.06,368.34 L159.46,367.07 L159.85,365.85 L160.24,364.67 L160.63,363.53 L161.02,362.46 L161.41,361.44 L161.80,360.49 L162.20,359.60 L162.59,358.79 L162.98,358.06 L163.37,357.40 L163.76,356.82 L164.15,356.32 L164.54,355.90 L164.94,355.57 L165.33,355.32 L165.72,355.14 L166.11,355.05 L166.50,355.03 L166.89,355.08 L167.28,355.21 L167.68,355.40 L168.07,355.66 L168.46,355.97 L168.85,356.34 L169.24,356.76 L169.63,357.23 L170.02,357.75 L170.41,358.30 L170.81,358.89 L171.20,359.51 L171.59,360.16 L171.98,360.83 L172.37,361.52 L172.76,362.23 L173.15,362.96 L173.55,363.70 L173.94,364.44 L174.33,365.20 L174.72,365.96 L175.11,366.72 L175.50,367.48 L175.89,368.24 L176.29,369.00 L176.68,369.75 L177.07,370.50 L177.46,371.24 L177.85,371.98 L178.24,372.71 L178.63,373.43 L179.03,374.14 L179.42,374.83 L179.81,375.52 L180.20,376.20 L180.59,376.87 L180.98,377.53 L181.37,378.17 L181.76,378.81 L182.16,379.43 L182.55,380.04 L182.94,380.63 L183.33,381.22 L183.72,381.80 L184.11,382.36 L184.50,382.91 L184.90,383.45 L185.29,383.98 L185.68,384.50 L186.07,385.01 L186.46,385.50 L186.85,385.99 L187.24,386.46 L187.64,386.93 L188.03,387.38 L188.42,387.83 L188.81,388.27 L189.20,388.69 L189.59,389.11 L189.98,389.52 L190.37,389.92 L190.77,390.31 L191.16,390.69 L191.55,391.07 L191.94,391.43 L192.33,391.79 L192.72,392.14 L193.11,392.49 L193.51,392.82 L193.90,393.15 L194.29,393.47 L194.68,393.79 L195.07,394.10 L195.46,394.40 L195.85,394.70 L196.25,394.99 L196.64,395.27 L197.03,395.55 L197.42,395.83 L197.81,396.09 L198.20,396.36 L198.59,396.61 L198.99,396.87 L199.38,397.11 L199.77,397.36 L200.16,397.59 L200.55,397.83 L200.94,398.05 L201.33,398.28 L201.72,398.50 L202.12,398.72 L202.51,398.93 L202.90,399.13 L203.29,399.34 L203.68,399.54 L204.07,399.74 L204.46,399.93 L204.86,400.12 L205.25,400.30 L205.64,400.49 L206.03,400.67 L206.42,400.84 L206.81,401.02 L207.20,401.19 L207.60,401.35 L207.99,401.52 L208.38,401.68 L208.77,401.84 L209.16,401.99 L209.55,402.15 L209.94,402.30 L210.34,402.45 L210.73,402.59 L211.12,402.74 L211.51,402.88 L211.90,403.02 L212.29,403.15 L212.68,403.29 L213.07,403.42 L213.47,403.55 L213.86,403.68 L214.25,403.81 L214.64,403.93 L215.03,404.05 L215.42,404.17 L215.81,404.29 L216.21,404.41 L216.60,404.52 L216.99,404.64 L217.38,404.75 L217.77,404.86 L218.16,404.97 L218.55,405.07 L218.95,405.18 L219.34,405.28 L219.73,405.38 L220.12,405.48 L220.51,405.58 L220.90,405.68 L221.29,405.78 L221.68,405.87 L222.08,405.97 L222.47,406.06 L222.86,406.15 L223.25,406.24 L223.64,406.33 L224.03,406.42 L224.42,406.50 L224.82,406.59 L225.21,406.67 L225.60,406.75 L225.99,406.84 L226.38,406.92 L226.77,407.00 L227.16,407.07 L227.56,407.15 L227.95,407.23 L228.34,407.30 L228.73,407.38 L229.12,407.45 L229.51,407.53 L229.90,407.60 L230.30,407.67 L230.69,407.74 L231.08,407.81 L231.47,407.88 L231.86,407.94 L232.25,408.01 L232.64,408.08 L233.03,408.14 L233.43,408.20 L233.82,408.27 L234.21,408.33 L234.60,408.39 L234.99,408.45 L235.38,408.51 L235.77,408.57 L236.17,408.63 L236.56,408.69 L236.95,408.75 L237.34,408.81 L237.73,408.86 L238.12,408.92 L238.51,408.97 L238.91,409.03 L239.30,409.08 L239.69,409.13 L240.08,409.19 L240.47,409.24 L240.86,409.29 L241.25,409.34 L241.65,409.39 L242.04,409.44 L242.43,409.49 L242.82,409.54 L243.21,409.58 L243.60,409.63 L243.99,409.68 L244.38,409.73 L244.78,409.77 L245.17,409.82 L245.56,409.86 L245.95,409.91 L246.34,409.95 L246.73,409.99 L247.12,410.04 L247.52,410.08 L247.91,410.12 L248.30,410.16 L248.69,410.20 L249.08,410.24 L249.47,410.29 L249.86,410.33 L250.26,410.36 L250.65,410.40 L251.04,410.44 L251.43,410.48 L251.82,410.52 L252.21,410.56 L252.60,410.59 L252.99,410.63 L253.39,410.67 L253.78,410.70 L254.17,410.74 L254.56,410.77 L254.95,410.81 L255.34,410.84 L255.73,410.88 L256.13,410.91 L256.52,410.94 L256.91,410.98 L257.30,411.01 L257.69,411.04 L258.08,411.07 L258.47,411.11 L258.87,411.14 L259.26,411.17 L259.65,411.20 L260.04,411.23 L260.43,411.26 L260.82,411.29 L261.21,411.32 L261.61,411.35 L262.00,411.38 L262.39,411.41 L262.78,411.43 L263.17,411.46 L263.56,411.49 L263.95,411.52 L264.34,411.55 L264.74,411.57 L265.13,411.60 L265.52,411.63 L265.91,411.65 L266.30,411.68 L266.69,411.70 L267.08,411.73 L267.48,411.76 L267.87,411.78 L268.26,411.80 L268.65,411.83 L269.04,411.85 L269.43,411.88 L269.82,411.90 L270.22,411.92 L270.61,411.95 L271.00,411.97 L271.39,411.99 L271.78,412.02 L272.17,412.04 L272.56,412.06 L272.96,412.08 L273.35,412.10 L273.74,412.13 L274.13,412.15 L274.52,412.17 L274.91,412.19 L275.30,412.21 L275.69,412.23 L276.09,412.25 L276.48,412.27 L276.87,412.29 L277.26,412.31 L277.65,412.33 L278.04,412.35 L278.43,412.37 L278.83,412.39 L279.22,412.41 L279.61,412.42 L280.00,412.44 L280.39,412.46 L280.78,412.48 L281.17,412.50 L281.57,412.51 L281.96,412.53 L282.35,412.55 L282.74,412.57 L283.13,412.58 L283.52,412.60 L283.91,412.62 L284.30,412.63 L284.70,412.65 L285.09,412.66 L285.48,412.68 L285.87,412.70 L286.26,412.71 L286.65,412.73 L287.04,412.74 L287.44,412.76 L287.83,412.77 L288.22,412.79 L288.61,412.80 L289.00,412.81 L289.39,412.83 L289.78,412.84 L290.18,412.86 L290.57,412.87 L290.96,412.88 L291.35,412.90 L291.74,412.91 L292.13,412.92 L292.52,412.94 L292.92,412.95 L293.31,412.96 L293.70,412.97 L294.09,412.99 L294.48,413.00 L294.87,413.01 L295.26,413.02 L295.65,413.03 L296.05,413.05 L296.44,413.06 L296.83,413.07 L297.22,413.08 L297.61,413.09 L298.00,413.10 L298.39,413.11 L298.79,413.12 L299.18,413.13 L299.57,413.14 L299.96,413.16 L300.35,413.17 L300.74,413.18 L301.13,413.19 L301.53,413.19 L301.92,413.20 L302.31,413.21 L302.70,413.22 L303.09,413.23 L303.48,413.24 L303.87,413.25 L304.27,413.26 L304.66,413.27 L305.05,413.28 L305.44,413.29 L305.83,413.29 L306.22,413.30 L306.61,413.31 L307.00,413.32 L307.40,413.33 L307.79,413.33 L308.18,413.34 L308.57,413.35 L308.96,413.36 L309.35,413.36 L309.74,413.37 L310.14,413.38 L310.53,413.39 L310.92,413.39 L311.31,413.40 L311.70,413.41 L312.09,413.41 L312.48,413.42 L312.88,413.42 L313.27,413.43 L313.66,413.44 L314.05,413.44 L314.44,413.45 L314.83,413.45 L315.22,413.46 L315.61,413.47 L316.01,413.47 L316.40,413.48 L316.79,413.48 L317.18,413.49 L317.57,413.49 L317.96,413.50 L318.35,413.50 L318.75,413.51 L319.14,413.51 L319.53,413.52 L319.92,413.52 L320.31,413.52 L320.70,413.53 L321.09,413.53 L321.49,413.54" fill="none" stroke="#ff7f0e" stroke-width="1.5" stroke-linejoin="round" clip-path="url(#clipb)"/>
<path d="M47.91,314.45 L48.31,314.43 L48.70,314.42 L49.09,314.40 L49.48,314.39 L49.87,314.37 L50.26,314.35 L50.65,314.34 L51.05,314.32 L51.44,314.31 L51.83,314.29 L52.22,314.27 L52.61,314.26 L53.00,314.24 L53.39,314.22 L53.79,314.20 L54.18,314.19 L54.57,314.17 L54.96,314.15 L55.35,314.14 L55.74,314.12 L56.13,314.10 L56.52,314.08 L56.92,314.06 L57.31,314.05 L57.70,314.03 L58.09,314.01 L58.48,313.99 L58.87,313.97 L59.26,313.95 L59.66,313.93 L60.05,313.92 L60.44,313.90 L60.83,313.88 L61.22,313.86 L61.61,313.84 L62.00,313.82 L62.40,313.80 L62.79,313.78 L63.18,313.76 L63.57,313.74 L63.96,313.72 L64.35,313.70 L64.74,313.68 L65.13,313.66 L65.53,313.64 L65.92,313.61 L66.31,313.59 L66.70,313.57 L67.09,313.55 L67.48,313.53 L67.87,313.51 L68.27,313.48 L68.66,313.46 L69.05,313.44 L69.44,313.42 L69.83,313.39 L70.22,313.37 L70.61,313.35 L71.01,313.33 L71.40,313.30 L71.79,313.28 L72.18,313.25 L72.57,313.23 L72.96,313.21 L73.35,313.18 L73.75,313.16 L74.14,313.13 L74.53,313.11 L74.92,313.08 L75.31,313.06 L75.70,313.03 L76.09,313.01 L76.48,312.98 L76.88,312.95 L77.27,312.93 L77.66,312.90 L78.05,312.87 L78.44,312.85 L78.83,312.82 L79.22,312.79 L79.62,312.77 L80.01,312.74 L80.40,312.71 L80.79,312.68 L81.18,312.65 L81.57,312.62 L81.96,312.59 L82.36,312.57 L82.75,312.54 L83.14,312.51 L83.53,312.48 L83.92,312.45 L84.31,312.42 L84.70,312.38 L85.10,312.35 L85.49,312.32 L85.88,312.29 L86.27,312.26 L86.66,312.23 L87.05,312.19 L87.44,312.16 L87.83,312.13 L88.23,312.09 L88.62,312.06 L89.01,312.03 L89.40,311.99 L89.79,311.96 L90.18,311.92 L90.57,311.89 L90.97,311.85 L91.36,311.82 L91.75,311.78 L92.14,311.74 L92.53,311.71 L92.92,311.67 L93.31,311.63 L93.71,311.59 L94.10,311.55 L94.49,311.52 L94.88,311.48 L95.27,311.44 L95.66,311.40 L96.05,311.36 L96.44,311.32 L96.84,311.27 L97.23,311.23 L97.62,311.19 L98.01,311.15 L98.40,311.11 L98.79,311.06 L99.18,311.02 L99.58,310.97 L99.97,310.93 L100.36,310.88 L100.75,310.84 L101.14,310.79 L101.53,310.75 L101.92,310.70 L102.32,310.65 L102.71,310.60 L103.10,310.56 L103.49,310.51 L103.88,310.46 L104.27,310.41 L104.66,310.36 L105.06,310.30 L105.45,310.25 L105.84,310.20 L106.23,310.15 L106.62,310.09 L107.01,310.04 L107.40,309.98 L107.79,309.93 L108.19,309.87 L108.58,309.82 L108.97,309.76 L109.36,309.70 L109.75,309.64 L110.14,309.58 L110.53,309.52 L110.93,309.46 L111.32,309.40 L111.71,309.34 L112.10,309.27 L112.49,309.21 L112.88,309.14 L113.27,309.08 L113.67,309.01 L114.06,308.94 L114.45,308.88 L114.84,308.81 L115.23,308.74 L115.62,308.66 L116.01,308.59 L116.41,308.52 L116.80,308.45 L117.19,308.37 L117.58,308.30 L117.97,308.22 L118.36,308.14 L118.75,308.06 L119.14,307.98 L119.54,307.90 L119.93,307.82 L120.32,307.73 L120.71,307.65 L121.10,307.56 L121.49,307.48 L121.88,307.39 L122.28,307.30 L122.67,307.21 L123.06,307.12 L123.45,307.02 L123.84,306.93 L124.23,306.83 L124.62,306.73 L125.02,306.63 L125.41,306.53 L125.80,306.43 L126.19,306.33 L126.58,306.22 L126.97,306.11 L127.36,306.00 L127.75,305.89 L128.15,305.78 L128.54,305.66 L128.93,305.55 L129.32,305.43 L129.71,305.31 L130.10,305.19 L130.49,305.06 L130.89,304.93 L131.28,304.81 L131.67,304.67 L132.06,304.54 L132.45,304.40 L132.84,304.27 L133.23,304.12 L133.63,303.98 L134.02,303.83 L134.41,303.69 L134.80,303.53 L135.19,303.38 L135.58,303.22 L135.97,303.06 L136.37,302.90 L136.76,302.73 L137.15,302.56 L137.54,302.39 L137.93,302.21 L138.32,302.03 L138.71,301.85 L139.10,301.66 L139.50,301.46 L139.89,301.27 L140.28,301.07 L140.67,300.86 L141.06,300.65 L141.45,300.44 L141.84,300.22 L142.24,300.00 L142.63,299.77 L143.02,299.54 L143.41,299.30 L143.80,299.05 L144.19,298.80 L144.58,298.55 L144.98,298.28 L145.37,298.01 L145.76,297.74 L146.15,297.46 L146.54,297.17 L146.93,296.87 L147.32,296.57 L147.72,296.25 L148.11,295.93 L148.50,295.60 L148.89,295.27 L149.28,294.92 L149.67,294.56 L150.06,294.20 L150.45,293.82 L150.85,293.43 L151.24,293.04 L151.63,292.63 L152.02,292.21 L152.41,291.77 L152.80,291.32 L153.19,290.86 L153.59,290.39 L153.98,289.90 L154.37,289.40 L154.76,288.88 L155.15,288.34 L155.54,287.79 L155.93,287.22 L156.33,286.63 L156.72,286.02 L157.11,285.39 L157.50,284.74 L157.89,284.07 L158.28,283.38 L158.67,282.67 L159.06,281.93 L159.46,281.17 L159.85,280.38 L160.24,279.57 L160.63,278.73 L161.02,277.86 L161.41,276.97 L161.80,276.05 L162.20,275.11 L162.59,274.14 L162.98,273.14 L163.37,272.13 L163.76,271.09 L164.15,270.04 L164.54,268.97 L164.94,267.90 L165.33,266.83 L165.72,265.78 L166.11,264.75 L166.50,263.75 L166.89,262.82 L167.28,261.98 L167.68,261.25 L168.07,260.67 L168.46,260.29 L168.85,260.16 L169.24,260.35 L169.63,260.92 L170.02,261.96 L170.41,263.55 L170.81,265.79 L171.20,268.76 L171.59,272.55 L171.98,277.21 L172.37,282.77 L172.76,289.20 L173.15,296.43 L173.55,304.30 L173.94,312.64 L174.33,321.18 L174.72,329.68 L175.11,337.87 L175.50,345.53 L175.89,352.47 L176.29,358.59 L176.68,363.81 L177.07,368.15 L177.46,371.63 L177.85,374.32 L178.24,376.31 L178.63,377.68 L179.03,378.54 L179.42,378.95 L179.81,379.02 L180.20,378.79 L180.59,378.33 L180.98,377.69 L181.37,376.91 L181.76,376.03 L182.16,375.08 L182.55,374.07 L182.94,373.03 L183.33,371.97 L183.72,370.89 L184.11,369.83 L184.50,368.76 L184.90,367.72 L185.29,366.69 L185.68,365.68 L186.07,364.70 L186.46,363.73 L186.85,362.80 L187.24,361.89 L187.64,361.01 L188.03,360.15 L188.42,359.32 L188.81,358.52 L189.20,357.74 L189.59,356.99 L189.98,356.26 L190.37,355.55 L190.77,354.87 L191.16,354.21 L191.55,353.57 L191.94,352.95 L192.33,352.34 L192.72,351.76 L193.11,351.20 L193.51,350.65 L193.90,350.12 L194.29,349.61 L194.68,349.11 L195.07,348.63 L195.46,348.16 L195.85,347.70 L196.25,347.26 L196.64,346.83 L197.03,346.41 L197.42,346.01 L197.81,345.62 L198.20,345.23 L198.59,344.86 L198.99,344.50 L199.38,344.14 L199.77,343.80 L200.16,343.47 L200.55,343.14 L200.94,342.82 L201.33,342.51 L201.72,342.21 L202.12,341.92 L202.51,341.63 L202.90,341.35 L203.29,341.08 L203.68,340.81 L204.07,340.55 L204.46,340.30 L204.86,340.05 L205.25,339.81 L205.64,339.57 L206.03,339.34 L206.42,339.11 L206.81,338.89 L207.20,338.67 L207.60,338.46 L207.99,338.25 L208.38,338.05 L208.77,337.85 L209.16,337.66 L209.55,337.47 L209.94,337.28 L210.34,337.10 L210.73,336.92 L211.12,336.74 L211.51,336.57 L211.90,336.40 L212.29,336.23 L212.68,336.07 L213.07,335.91 L213.47,335.76 L213.86,335.60 L214.25,335.45 L214.64,335.30 L215.03,335.16 L215.42,335.02 L215.81,334.88 L216.21,334.74 L216.60,334.60 L216.99,334.47 L217.38,334.34 L217.77,334.21 L218.16,334.09 L218.55,333.96 L218.95,333.84 L219.34,333.72 L219.73,333.60 L220.12,333.49 L220.51,333.37 L220.90,333.26 L221.29,333.15 L221.68,333.04 L222.08,332.93 L222.47,332.83 L222.86,332.73 L223.25,332.62 L223.64,332.52 L224.03,332.42 L224.42,332.33 L224.82,332.23 L225.21,332.14 L225.60,332.04 L225.99,331.95 L226.38,331.86 L226.77,331.77 L227.16,331.68 L227.56,331.60 L227.95,331.51 L228.34,331.43 L228.73,331.34 L229.12,331.26 L229.51,331.18 L229.90,331.10 L230.30,331.02 L230.69,330.95 L231.08,330.87 L231.47,330.79 L231.86,330.72 L232.25,330.65 L232.64,330.57 L233.03,330.50 L233.43,330.43 L233.82,330.36 L234.21,330.29 L234.60,330.22 L234.99,330.16 L235.38,330.09 L235.77,330.03 L236.17,329.96 L236.56,329.90 L236.95,329.83 L237.34,329.77 L237.73,329.71 L238.12,329.65 L238.51,329.59 L238.91,329.53 L239.30,329.47 L239.69,329.41 L240.08,329.36 L240.47,329.30 L240.86,329.24 L241.25,329.19 L241.65,329.13 L242.04,329.08 L242.43,329.03 L242.82,328.97 L243.21,328.92 L243.60,328.87 L243.99,328.82 L244.38,328.77 L244.78,328.72 L245.17,328.67 L245.56,328.62 L245.95,328.57 L246.34,328.52 L246.73,328.47 L247.12,328.43 L247.52,328.38 L247.91,328.34 L248.30,328.29 L248.69,328.24 L249.08,328.20 L249.47,328.16 L249.86,328.11 L250.26,328.07 L250.65,328.03 L251.04,327.98 L251.43,327.94 L251.82,327.90 L252.21,327.86 L252.60,327.82 L252.99,327.78 L253.39,327.74 L253.78,327.70 L254.17,327.66 L254.56,327.62 L254.95,327.58 L255.34,327.55 L255.73,327.51 L256.13,327.47 L256.52,327.43 L256.91,327.40 L257.30,327.36 L257.69,327.33 L258.08,327.29 L258.47,327.25 L258.87,327.22 L259.26,327.19 L259.65,327.15 L260.04,327.12 L260.43,327.08 L260.82,327.05 L261.21,327.02 L261.61,326.98 L262.00,326.95 L262.39,326.92 L262.78,326.89 L263.17,326.86 L263.56,326.83 L263.95,326.79 L264.34,326.76 L264.74,326.73 L265.13,326.70 L265.52,326.67 L265.91,326.64 L266.30,326.61 L266.69,326.58 L267.08,326.56 L267.48,326.53 L267.87,326.50 L268.26,326.47 L268.65,326.44 L269.04,326.41 L269.43,326.39 L269.82,326.36 L270.22,326.33 L270.61,326.30 L271.00,326.28 L271.39,326.25 L271.78,326.23 L272.17,326.20 L272.56,326.17 L272.96,326.15 L273.35,326.12 L273.74,326.10 L274.13,326.07 L274.52,326.05 L274.91,326.02 L275.30,326.00 L275.69,325.97 L276.09,325.95 L276.48,325.93 L276.87,325.90 L277.26,325.88 L277.65,325.85 L278.04,325.83 L278.43,325.81 L278.83,325.79 L279.22,325.76 L279.61,325.74 L280.00,325.72 L280.39,325.70 L280.78,325.67 L281.17,325.65 L281.57,325.63 L281.96,325.61 L282.35,325.59 L282.74,325.57 L283.13,325.54 L283.52,325.52 L283.91,325.50 L284.30,325.48 L284.70,325.46 L285.09,325.44 L285.48,325.42 L285.87,325.40 L286.26,325.38 L286.65,325.36 L287.04,325.34 L287.44,325.32 L287.83,325.30 L288.22,325.28 L288.61,325.26 L289.00,325.25 L289.39,325.23 L289.78,325.21 L290.18,325.19 L290.57,325.17 L290.96,325.15 L291.35,325.13 L291.74,325.12 L292.13,325.10 L292.52,325.08 L292.92,325.06 L293.31,325.04 L293.70,325.03 L294.09,325.01 L294.48,324.99 L294.87,324.98 L295.26,324.96 L295.65,324.94 L296.05,324.92 L296.44,324.91 L296.83,324.89 L297.22,324.87 L297.61,324.86 L298.00,324.84 L298.39,324.83 L298.79,324.81 L299.18,324.79 L299.57,324.78 L299.96,324.76 L300.35,324.75 L300.74,324.73 L301.13,324.71 L301.53,324.70 L301.92,324.68 L302.31,324.67 L302.70,324.65 L303.09,324.64 L303.48,324.62 L303.87,324.61 L304.27,324.59 L304.66,324.58 L305.05,324.56 L305.44,324.55 L305.83,324.54 L306.22,324.52 L306.61,324.51 L307.00,324.49 L307.40,324.48 L307.79,324.46 L308.18,324.45 L308.57,324.44 L308.96,324.42 L309.35,324.41 L309.74,324.40 L310.14,324.38 L310.53,324.37 L310.92,324.36 L311.31,324.34 L311.70,324.33 L312.09,324.32 L312.48,324.30 L312.88,324.29 L313.27,324.28 L313.66,324.26 L314.05,324.25 L314.44,324.24 L314.83,324.23 L315.22,324.21 L315.61,324.20 L316.01,324.19 L316.40,324.18 L316.79,324.16 L317.18,324.15 L317.57,324.14 L317.96,324.13 L318.35,324.12 L318.75,324.10 L319.14,324.09 L319.53,324.08 L319.92,324.07 L320.31,324.06 L320.70,324.04 L321.09,324.03 L321.49,324.02" fill="none" stroke="#1f77b4" stroke-width="1.5" stroke-linejoin="round" stroke-dasharray="1.6 1.61" clip-path="url(#clipb)"/>
<path d="M47.91,383.54 L48.31,383.54 L48.70,383.54 L49.09,383.54 L49.48,383.54 L49.87,383.54 L50.26,383.54 L50.65,383.53 L51.05,383.53 L51.44,383.53 L51.83,383.53 L52.22,383.53 L52.61,383.53 L53.00,383.52 L53.39,383.52 L53.79,383.52 L54.18,383.52 L54.57,383.52 L54.96,383.52 L55.35,383.52 L55.74,383.51 L56.13,383.51 L56.52,383.51 L56.92,383.51 L57.31,383.51 L57.70,383.51 L58.09,383.50 L58.48,383.50 L58.87,383.50 L59.26,383.50 L59.66,383.50 L60.05,383.49 L60.44,383.49 L60.83,383.49 L61.22,383.49 L61.61,383.49 L62.00,383.49 L62.40,383.48 L62.79,383.48 L63.18,383.48 L63.57,383.48 L63.96,383.48 L64.35,383.47 L64.74,383.47 L65.13,383.47 L65.53,383.47 L65.92,383.46 L66.31,383.46 L66.70,383.46 L67.09,383.46 L67.48,383.46 L67.87,383.45 L68.27,383.45 L68.66,383.45 L69.05,383.45 L69.44,383.44 L69.83,383.44 L70.22,383.44 L70.61,383.44 L71.01,383.43 L71.40,383.43 L71.79,383.43 L72.18,383.43 L72.57,383.42 L72.96,383.42 L73.35,383.42 L73.75,383.42 L74.14,383.41 L74.53,383.41 L74.92,383.41 L75.31,383.41 L75.70,383.40 L76.09,383.40 L76.48,383.40 L76.88,383.39 L77.27,383.39 L77.66,383.39 L78.05,383.39 L78.44,383.38 L78.83,383.38 L79.22,383.38 L79.62,383.37 L80.01,383.37 L80.40,383.37 L80.79,383.36 L81.18,383.36 L81.57,383.36 L81.96,383.35 L82.36,383.35 L82.75,383.35 L83.14,383.34 L83.53,383.34 L83.92,383.33 L84.31,383.33 L84.70,383.33 L85.10,383.32 L85.49,383.32 L85.88,383.32 L86.27,383.31 L86.66,383.31 L87.05,383.30 L87.44,383.30 L87.83,383.30 L88.23,383.29 L88.62,383.29 L89.01,383.28 L89.40,383.28 L89.79,383.27 L90.18,383.27 L90.57,383.26 L90.97,383.26 L91.36,383.25 L91.75,383.25 L92.14,383.25 L92.53,383.24 L92.92,383.24 L93.31,383.23 L93.71,383.22 L94.10,383.22 L94.49,383.21 L94.88,383.21 L95.27,383.20 L95.66,383.20 L96.05,383.19 L96.44,383.19 L96.84,383.18 L97.23,383.17 L97.62,383.17 L98.01,383.16 L98.40,383.16 L98.79,383.15 L99.18,383.14 L99.58,383.14 L99.97,383.13 L100.36,383.12 L100.75,383.12 L101.14,383.11 L101.53,383.10 L101.92,383.10 L102.32,383.09 L102.71,383.08 L103.10,383.07 L103.49,383.07 L103.88,383.06 L104.27,383.05 L104.66,383.04 L105.06,383.04 L105.45,383.03 L105.84,383.02 L106.23,383.01 L106.62,383.00 L107.01,382.99 L107.40,382.98 L107.79,382.97 L108.19,382.97 L108.58,382.96 L108.97,382.95 L109.36,382.94 L109.75,382.93 L110.14,382.92 L110.53,382.91 L110.93,382.90 L111.32,382.88 L111.71,382.87 L112.10,382.86 L112.49,382.85 L112.88,382.84 L113.27,382.83 L113.67,382.82 L114.06,382.80 L114.45,382.79 L114.84,382.78 L115.23,382.77 L115.62,382.75 L116.01,382.74 L116.41,382.72 L116.80,382.71 L117.19,382.70 L117.58,382.68 L117.97,382.67 L118.36,382.65 L118.75,382.64 L119.14,382.62 L119.54,382.60 L119.93,382.59 L120.32,382.57 L120.71,382.55 L121.10,382.54 L121.49,382.52 L121.88,382.50 L122.28,382.48 L122.67,382.46 L123.06,382.44 L123.45,382.42 L123.84,382.40 L124.23,382.38 L124.62,382.36 L125.02,382.34 L125.41,382.31 L125.80,382.29 L126.19,382.27 L126.58,382.24 L126.97,382.22 L127.36,382.19 L127.75,382.16 L128.15,382.14 L128.54,382.11 L128.93,382.08 L129.32,382.05 L129.71,382.02 L130.10,381.99 L130.49,381.96 L130.89,381.93 L131.28,381.90 L131.67,381.86 L132.06,381.83 L132.45,381.79 L132.84,381.75 L133.23,381.72 L133.63,381.68 L134.02,381.64 L134.41,381.60 L134.80,381.55 L135.19,381.51 L135.58,381.47 L135.97,381.42 L136.37,381.37 L136.76,381.32 L137.15,381.27 L137.54,381.22 L137.93,381.17 L138.32,381.11 L138.71,381.05 L139.10,380.99 L139.50,380.93 L139.89,380.87 L140.28,380.80 L140.67,380.74 L141.06,380.67 L141.45,380.59 L141.84,380.52 L142.24,380.44 L142.63,380.36 L143.02,380.28 L143.41,380.19 L143.80,380.10 L144.19,380.01 L144.58,379.91 L144.98,379.81 L145.37,379.71 L145.76,379.60 L146.15,379.49 L146.54,379.37 L146.93,379.25 L147.32,379.12 L147.72,378.99 L148.11,378.85 L148.50,378.71 L148.89,378.56 L149.28,378.40 L149.67,378.24 L150.06,378.07 L150.45,377.89 L150.85,377.70 L151.24,377.50 L151.63,377.29 L152.02,377.08 L152.41,376.85 L152.80,376.61 L153.19,376.36 L153.59,376.09 L153.98,375.82 L154.37,375.52 L154.76,375.21 L155.15,374.88 L155.54,374.54 L155.93,374.17 L156.33,373.78 L156.72,373.37 L157.11,372.94 L157.50,372.47 L157.89,371.98 L158.28,371.46 L158.67,370.90 L159.06,370.30 L159.46,369.67 L159.85,368.99 L160.24,368.26 L160.63,367.48 L161.02,366.65 L161.41,365.75 L161.80,364.78 L162.20,363.74 L162.59,362.62 L162.98,361.41 L163.37,360.09 L163.76,358.68 L164.15,357.14 L164.54,355.47 L164.94,353.66 L165.33,351.69 L165.72,349.55 L166.11,347.22 L166.50,344.68 L166.89,341.92 L167.28,338.91 L167.68,335.64 L168.07,332.09 L168.46,328.25 L168.85,324.10 L169.24,319.64 L169.63,314.89 L170.02,309.85 L170.41,304.56 L170.81,299.10 L171.20,293.55 L171.59,288.02 L171.98,282.67 L172.37,277.69 L172.76,273.26 L173.15,269.60 L173.55,266.90 L173.94,265.31 L174.33,264.92 L174.72,265.76 L175.11,267.78 L175.50,270.85 L175.89,274.82 L176.29,279.47 L176.68,284.62 L177.07,290.05 L177.46,295.60 L177.85,301.14 L178.24,306.54 L178.63,311.74 L179.03,316.68 L179.42,321.33 L179.81,325.67 L180.20,329.70 L180.59,333.44 L180.98,336.88 L181.37,340.05 L181.76,342.96 L182.16,345.64 L182.55,348.10 L182.94,350.36 L183.33,352.44 L183.72,354.35 L184.11,356.10 L184.50,357.72 L184.90,359.21 L185.29,360.59 L185.68,361.86 L186.07,363.04 L186.46,364.13 L186.85,365.15 L187.24,366.09 L187.64,366.96 L188.03,367.78 L188.42,368.54 L188.81,369.25 L189.20,369.91 L189.59,370.53 L189.98,371.11 L190.37,371.66 L190.77,372.17 L191.16,372.65 L191.55,373.10 L191.94,373.53 L192.33,373.93 L192.72,374.31 L193.11,374.67 L193.51,375.01 L193.90,375.33 L194.29,375.63 L194.68,375.92 L195.07,376.19 L195.46,376.45 L195.85,376.70 L196.25,376.94 L196.64,377.16 L197.03,377.37 L197.42,377.57 L197.81,377.77 L198.20,377.95 L198.59,378.13 L198.99,378.30 L199.38,378.46 L199.77,378.61 L200.16,378.76 L200.55,378.90 L200.94,379.04 L201.33,379.17 L201.72,379.29 L202.12,379.41 L202.51,379.53 L202.90,379.64 L203.29,379.75 L203.68,379.85 L204.07,379.95 L204.46,380.04 L204.86,380.14 L205.25,380.22 L205.64,380.31 L206.03,380.39 L206.42,380.47 L206.81,380.55 L207.20,380.62 L207.60,380.69 L207.99,380.76 L208.38,380.83 L208.77,380.89 L209.16,380.96 L209.55,381.02 L209.94,381.07 L210.34,381.13 L210.73,381.19 L211.12,381.24 L211.51,381.29 L211.90,381.34 L212.29,381.39 L212.68,381.44 L213.07,381.48 L213.47,381.53 L213.86,381.57 L214.25,381.61 L214.64,381.65 L215.03,381.69 L215.42,381.73 L215.81,381.77 L216.21,381.80 L216.60,381.84 L216.99,381.87 L217.38,381.91 L217.77,381.94 L218.16,381.97 L218.55,382.00 L218.95,382.03 L219.34,382.06 L219.73,382.09 L220.12,382.12 L220.51,382.15 L220.90,382.17 L221.29,382.20 L221.68,382.23 L222.08,382.25 L222.47,382.27 L222.86,382.30 L223.25,382.32 L223.64,382.34 L224.03,382.37 L224.42,382.39 L224.82,382.41 L225.21,382.43 L225.60,382.45 L225.99,382.47 L226.38,382.49 L226.77,382.51 L227.16,382.52 L227.56,382.54 L227.95,382.56 L228.34,382.58 L228.73,382.59 L229.12,382.61 L229.51,382.63 L229.90,382.64 L230.30,382.66 L230.69,382.67 L231.08,382.69 L231.47,382.70 L231.86,382.72 L232.25,382.73 L232.64,382.74 L233.03,382.76 L233.43,382.77 L233.82,382.78 L234.21,382.80 L234.60,382.81 L234.99,382.82 L235.38,382.83 L235.77,382.84 L236.17,382.86 L236.56,382.87 L236.95,382.88 L237.34,382.89 L237.73,382.90 L238.12,382.91 L238.51,382.92 L238.91,382.93 L239.30,382.94 L239.69,382.95 L240.08,382.96 L240.47,382.97 L240.86,382.98 L241.25,382.99 L241.65,383.00 L242.04,383.00 L242.43,383.01 L242.82,383.02 L243.21,383.03 L243.60,383.04 L243.99,383.05 L244.38,383.05 L244.78,383.06 L245.17,383.07 L245.56,383.08 L245.95,383.08 L246.34,383.09 L246.73,383.10 L247.12,383.11 L247.52,383.11 L247.91,383.12 L248.30,383.13 L248.69,383.13 L249.08,383.14 L249.47,383.15 L249.86,383.15 L250.26,383.16 L250.65,383.16 L251.04,383.17 L251.43,383.18 L251.82,383.18 L252.21,383.19 L252.60,383.19 L252.99,383.20 L253.39,383.21 L253.78,383.21 L254.17,383.22 L254.56,383.22 L254.95,383.23 L255.34,383.23 L255.73,383.24 L256.13,383.24 L256.52,383.25 L256.91,383.25 L257.30,383.26 L257.69,383.26 L258.08,383.27 L258.47,383.27 L258.87,383.27 L259.26,383.28 L259.65,383.28 L260.04,383.29 L260.43,383.29 L260.82,383.30 L261.21,383.30 L261.61,383.30 L262.00,383.31 L262.39,383.31 L262.78,383.32 L263.17,383.32 L263.56,383.32 L263.95,383.33 L264.34,383.33 L264.74,383.34 L265.13,383.34 L265.52,383.34 L265.91,383.35 L266.30,383.35 L266.69,383.35 L267.08,383.36 L267.48,383.36 L267.87,383.36 L268.26,383.37 L268.65,383.37 L269.04,383.37 L269.43,383.38 L269.82,383.38 L270.22,383.38 L270.61,383.39 L271.00,383.39 L271.39,383.39 L271.78,383.39 L272.17,383.40 L272.56,383.40 L272.96,383.40 L273.35,383.41 L273.74,383.41 L274.13,383.41 L274.52,383.41 L274.91,383.42 L275.30,383.42 L275.69,383.42 L276.09,383.42 L276.48,383.43 L276.87,383.43 L277.26,383.43 L277.65,383.44 L278.04,383.44 L278.43,383.44 L278.83,383.44 L279.22,383.44 L279.61,383.45 L280.00,383.45 L280.39,383.45 L280.78,383.45 L281.17,383.46 L281.57,383.46 L281.96,383.46 L282.35,383.46 L282.74,383.46 L283.13,383.47 L283.52,383.47 L283.91,383.47 L284.30,383.47 L284.70,383.48 L285.09,383.48 L285.48,383.48 L285.87,383.48 L286.26,383.48 L286.65,383.49 L287.04,383.49 L287.44,383.49 L287.83,383.49 L288.22,383.49 L288.61,383.49 L289.00,383.50 L289.39,383.50 L289.78,383.50 L290.18,383.50 L290.57,383.50 L290.96,383.51 L291.35,383.51 L291.74,383.51 L292.13,383.51 L292.52,383.51 L292.92,383.51 L293.31,383.52 L293.70,383.52 L294.09,383.52 L294.48,383.52 L294.87,383.52 L295.26,383.52 L295.65,383.52 L296.05,383.53 L296.44,383.53 L296.83,383.53 L297.22,383.53 L297.61,383.53 L298.00,383.53 L298.39,383.53 L298.79,383.54 L299.18,383.54 L299.57,383.54 L299.96,383.54 L300.35,383.54 L300.74,383.54 L301.13,383.54 L301.53,383.55 L301.92,383.55 L302.31,383.55 L302.70,383.55 L303.09,383.55 L303.48,383.55 L303.87,383.55 L304.27,383.55 L304.66,383.56 L305.05,383.56 L305.44,383.56 L305.83,383.56 L306.22,383.56 L306.61,383.56 L307.00,383.56 L307.40,383.56 L307.79,383.57 L308.18,383.57 L308.57,383.57 L308.96,383.57 L309.35,383.57 L309.74,383.57 L310.14,383.57 L310.53,383.57 L310.92,383.57 L311.31,383.58 L311.70,383.58 L312.09,383.58 L312.48,383.58 L312.88,383.58 L313.27,383.58 L313.66,383.58 L314.05,383.58 L314.44,383.58 L314.83,383.58 L315.22,383.59 L315.61,383.59 L316.01,383.59 L316.40,383.59 L316.79,383.59 L317.18,383.59 L317.57,383.59 L317.96,383.59 L318.35,383.59 L318.75,383.59 L319.14,383.59 L319.53,383.60 L319.92,383.60 L320.31,383.60 L320.70,383.60 L321.09,383.60 L321.49,383.60" fill="none" stroke="#ff7f0e" stroke-width="1.5" stroke-linejoin="round" stroke-dasharray="1.6 1.61" clip-path="url(#clipb)"/>
<line x1="49.00" y1="428.3" x2="49.00" y2="431.3" stroke="#1a1a1a" stroke-width="0.95"/>
<text x="49.00" y="442.20" font-size="9.8" text-anchor="middle"><tspan dy="0.00">500</tspan></text>
<line x1="103.28" y1="428.3" x2="103.28" y2="431.3" stroke="#1a1a1a" stroke-width="0.95"/>
<text x="103.28" y="442.20" font-size="9.8" text-anchor="middle"><tspan dy="0.00">550</tspan></text>
<line x1="157.56" y1="428.3" x2="157.56" y2="431.3" stroke="#1a1a1a" stroke-width="0.95"/>
<text x="157.56" y="442.20" font-size="9.8" text-anchor="middle"><tspan dy="0.00">600</tspan></text>
<line x1="211.84" y1="428.3" x2="211.84" y2="431.3" stroke="#1a1a1a" stroke-width="0.95"/>
<text x="211.84" y="442.20" font-size="9.8" text-anchor="middle"><tspan dy="0.00">650</tspan></text>
<line x1="266.12" y1="428.3" x2="266.12" y2="431.3" stroke="#1a1a1a" stroke-width="0.95"/>
<text x="266.12" y="442.20" font-size="9.8" text-anchor="middle"><tspan dy="0.00">700</tspan></text>
<line x1="320.40" y1="428.3" x2="320.40" y2="431.3" stroke="#1a1a1a" stroke-width="0.95"/>
<text x="320.40" y="442.20" font-size="9.8" text-anchor="middle"><tspan dy="0.00">750</tspan></text>
<line x1="46.0" y1="415.60" x2="49.0" y2="415.60" stroke="#1a1a1a" stroke-width="0.95"/>
<text x="43.40" y="419.60" font-size="9.8" text-anchor="end"><tspan dy="0.00">−0.5</tspan></text>
<line x1="46.0" y1="383.76" x2="49.0" y2="383.76" stroke="#1a1a1a" stroke-width="0.95"/>
<text x="43.40" y="387.76" font-size="9.8" text-anchor="end"><tspan dy="0.00">0.0</tspan></text>
<line x1="46.0" y1="351.92" x2="49.0" y2="351.92" stroke="#1a1a1a" stroke-width="0.95"/>
<text x="43.40" y="355.92" font-size="9.8" text-anchor="end"><tspan dy="0.00">0.5</tspan></text>
<line x1="46.0" y1="320.08" x2="49.0" y2="320.08" stroke="#1a1a1a" stroke-width="0.95"/>
<text x="43.40" y="324.08" font-size="9.8" text-anchor="end"><tspan dy="0.00">1.0</tspan></text>
<line x1="46.0" y1="288.24" x2="49.0" y2="288.24" stroke="#1a1a1a" stroke-width="0.95"/>
<text x="43.40" y="292.24" font-size="9.8" text-anchor="end"><tspan dy="0.00">1.5</tspan></text>
<line x1="46.0" y1="256.40" x2="49.0" y2="256.40" stroke="#1a1a1a" stroke-width="0.95"/>
<text x="43.40" y="260.40" font-size="9.8" text-anchor="end"><tspan dy="0.00">2.0</tspan></text>
<rect x="49.0" y="252.0" width="271.40" height="176.30" fill="none" stroke="#1a1a1a" stroke-width="0.95"/>
<text x="184.70" y="458.40" font-size="10.7" text-anchor="middle"><tspan dy="0.00">wavenumber [cm</tspan><tspan dy="-3.85" font-size="7.49">−1</tspan><tspan dy="3.85" dx="0.48">]</tspan></text>
<text x="54.50" y="271.30" font-size="16.5" text-anchor="start"><tspan dy="0.00">(b)</tspan></text>
<text x="14.00" y="376.00" font-size="11.0" text-anchor="start" transform="rotate(-90 14.00 376.00)"><tspan dy="0.00" font-style="italic">E</tspan><tspan dy="2.09" font-size="7.81">ph</tspan><tspan dy="0.00" dx="0.88" font-size="7.81">−</tspan><tspan dy="0.00" dx="0.88" font-size="7.81">rung</tspan><tspan dy="-2.09" dx="1.60">/</tspan><tspan dy="0.00" dx="0.66" font-style="italic">E</tspan><tspan dy="2.09" font-size="7.81">a</tspan></text>
<line x1="213.00" y1="262.50" x2="234.10" y2="262.50" stroke="#1f77b4" stroke-width="1.5"/>
<line x1="213.00" y1="265.40" x2="234.10" y2="265.40" stroke="#1f77b4" stroke-width="1.5" stroke-dasharray="1.6 1.61"/>
<text x="237.00" y="268.80" font-size="10.9" text-anchor="start"><tspan dy="0.00">Re</tspan><tspan dy="0.00" dx="2.07" font-style="italic">E</tspan><tspan dy="2.07" font-size="7.74">ph</tspan><tspan dy="0.00" dx="0.76" font-size="7.74">−</tspan><tspan dy="0.00" dx="0.76" font-size="7.74">rung</tspan><tspan dy="-2.07" dx="1.91">/</tspan><tspan dy="0.00" dx="1.74" font-style="italic">E</tspan><tspan dy="2.07" font-size="7.74">a</tspan></text>
<line x1="213.00" y1="277.80" x2="234.10" y2="277.80" stroke="#ff7f0e" stroke-width="1.5"/>
<line x1="213.00" y1="280.70" x2="234.10" y2="280.70" stroke="#ff7f0e" stroke-width="1.5" stroke-dasharray="1.6 1.61"/>
<text x="237.00" y="284.40" font-size="10.9" text-anchor="start"><tspan dy="0.00">Im</tspan><tspan dy="0.00" dx="2.07" font-style="italic">E</tspan><tspan dy="2.07" font-size="7.74">ph</tspan><tspan dy="0.00" dx="0.76" font-size="7.74">−</tspan><tspan dy="0.00" dx="0.76" font-size="7.74">rung</tspan><tspan dy="-2.07" dx="1.91">/</tspan><tspan dy="0.00" dx="1.74" font-style="italic">E</tspan><tspan dy="2.07" font-size="7.74">a</tspan></text>
<path d="M412.54,325.89 L412.94,325.88 L413.33,325.87 L413.72,325.85 L414.11,325.84 L414.50,325.83 L414.90,325.82 L415.29,325.81 L415.68,325.80 L416.07,325.78 L416.46,325.77 L416.86,325.76 L417.25,325.74 L417.64,325.73 L418.03,325.72 L418.43,325.70 L418.82,325.69 L419.21,325.67 L419.60,325.66 L419.99,325.65 L420.39,325.63 L420.78,325.62 L421.17,325.60 L421.56,325.58 L421.95,325.57 L422.35,325.55 L422.74,325.54 L423.13,325.52 L423.52,325.50 L423.92,325.48 L424.31,325.47 L424.70,325.45 L425.09,325.43 L425.48,325.41 L425.88,325.40 L426.27,325.38 L426.66,325.36 L427.05,325.34 L427.44,325.32 L427.84,325.30 L428.23,325.28 L428.62,325.26 L429.01,325.24 L429.41,325.22 L429.80,325.20 L430.19,325.18 L430.58,325.16 L430.97,325.14 L431.37,325.11 L431.76,325.09 L432.15,325.07 L432.54,325.05 L432.93,325.03 L433.33,325.00 L433.72,324.98 L434.11,324.96 L434.50,324.93 L434.90,324.91 L435.29,324.89 L435.68,324.86 L436.07,324.84 L436.46,324.81 L436.86,324.79 L437.25,324.76 L437.64,324.74 L438.03,324.71 L438.43,324.68 L438.82,324.66 L439.21,324.63 L439.60,324.60 L439.99,324.58 L440.39,324.56 L440.78,324.54 L441.17,324.53 L441.56,324.51 L441.95,324.49 L442.35,324.47 L442.74,324.46 L443.13,324.44 L443.52,324.42 L443.92,324.40 L444.31,324.38 L444.70,324.36 L445.09,324.34 L445.48,324.32 L445.88,324.30 L446.27,324.28 L446.66,324.26 L447.05,324.24 L447.44,324.22 L447.84,324.19 L448.23,324.17 L448.62,324.15 L449.01,324.13 L449.41,324.10 L449.80,324.08 L450.19,324.05 L450.58,324.03 L450.97,324.00 L451.37,323.98 L451.76,323.95 L452.15,323.93 L452.54,323.90 L452.93,323.87 L453.33,323.85 L453.72,323.82 L454.11,323.79 L454.50,323.76 L454.90,323.73 L455.29,323.70 L455.68,323.67 L456.07,323.64 L456.46,323.61 L456.86,323.58 L457.25,323.55 L457.64,323.52 L458.03,323.49 L458.42,323.45 L458.82,323.42 L459.21,323.39 L459.60,323.35 L459.99,323.32 L460.39,323.28 L460.78,323.25 L461.17,323.21 L461.56,323.17 L461.95,323.14 L462.35,323.10 L462.74,323.06 L463.13,323.02 L463.52,322.98 L463.91,322.95 L464.31,322.91 L464.70,322.86 L465.09,322.82 L465.48,322.78 L465.88,322.74 L466.27,322.70 L466.66,322.66 L467.05,322.61 L467.44,322.57 L467.84,322.52 L468.23,322.48 L468.62,322.43 L469.01,322.39 L469.40,322.34 L469.80,322.29 L470.19,322.24 L470.58,322.20 L470.97,322.15 L471.37,322.10 L471.76,322.05 L472.15,322.00 L472.54,321.95 L472.93,321.90 L473.33,321.85 L473.72,321.80 L474.11,321.74 L474.50,321.69 L474.90,321.64 L475.29,321.59 L475.68,321.53 L476.07,321.48 L476.46,321.43 L476.86,321.37 L477.25,321.32 L477.64,321.26 L478.03,321.20 L478.42,321.15 L478.82,321.09 L479.21,321.03 L479.60,320.98 L479.99,320.92 L480.39,320.86 L480.78,320.80 L481.17,320.74 L481.56,320.68 L481.95,320.62 L482.35,320.56 L482.74,320.50 L483.13,320.44 L483.52,320.37 L483.91,320.31 L484.31,320.25 L484.70,320.18 L485.09,320.12 L485.48,320.05 L485.88,319.99 L486.27,319.92 L486.66,319.86 L487.05,319.79 L487.44,319.72 L487.84,319.65 L488.23,319.59 L488.62,319.52 L489.01,319.45 L489.40,319.38 L489.80,319.31 L490.19,319.24 L490.58,319.17 L490.97,319.09 L491.37,319.02 L491.76,318.95 L492.15,318.87 L492.54,318.80 L492.93,318.72 L493.33,318.65 L493.72,318.57 L494.11,318.50 L494.50,318.42 L494.89,318.34 L495.29,318.26 L495.68,318.18 L496.07,318.10 L496.46,318.02 L496.86,317.94 L497.25,317.86 L497.64,317.78 L498.03,317.70 L498.42,317.61 L498.82,317.53 L499.21,317.44 L499.60,317.36 L499.99,317.27 L500.38,317.18 L500.78,317.10 L501.17,317.01 L501.56,316.92 L501.95,316.83 L502.35,316.74 L502.74,316.65 L503.13,316.56 L503.52,316.47 L503.91,316.38 L504.31,316.28 L504.70,316.19 L505.09,316.10 L505.48,316.00 L505.88,315.90 L506.27,315.81 L506.66,315.71 L507.05,315.61 L507.44,315.51 L507.84,315.42 L508.23,315.32 L508.62,315.22 L509.01,315.11 L509.40,315.01 L509.80,314.91 L510.19,314.81 L510.58,314.70 L510.97,314.60 L511.37,314.49 L511.76,314.39 L512.15,314.28 L512.54,314.17 L512.93,314.06 L513.33,313.96 L513.72,313.85 L514.11,313.73 L514.50,313.62 L514.89,313.51 L515.29,313.40 L515.68,313.29 L516.07,313.17 L516.46,313.06 L516.86,312.94 L517.25,312.83 L517.64,312.71 L518.03,312.59 L518.42,312.47 L518.82,312.36 L519.21,312.24 L519.60,312.12 L519.99,312.00 L520.38,311.87 L520.78,311.75 L521.17,311.63 L521.56,311.51 L521.95,311.38 L522.35,311.26 L522.74,311.13 L523.13,311.01 L523.52,310.88 L523.91,310.75 L524.31,310.63 L524.70,310.50 L525.09,310.37 L525.48,310.24 L525.87,310.11 L526.27,309.98 L526.66,309.85 L527.05,309.72 L527.44,309.59 L527.84,309.46 L528.23,309.32 L528.62,309.19 L529.01,309.05 L529.40,308.91 L529.80,308.77 L530.19,308.63 L530.58,308.49 L530.97,308.35 L531.36,308.20 L531.76,308.06 L532.15,307.92 L532.54,307.77 L532.93,307.63 L533.33,307.49 L533.72,307.34 L534.11,307.20 L534.50,307.06 L534.89,306.92 L535.29,306.78 L535.68,306.64 L536.07,306.50 L536.46,306.36 L536.86,306.23 L537.25,306.10 L537.64,305.97 L538.03,305.84 L538.42,305.72 L538.82,305.60 L539.21,305.48 L539.60,305.36 L539.99,305.26 L540.38,305.15 L540.78,305.05 L541.17,304.95 L541.56,304.86 L541.95,304.77 L542.35,304.68 L542.74,304.60 L543.13,304.53 L543.52,304.46 L543.91,304.40 L544.31,304.35 L544.70,304.31 L545.09,304.27 L545.48,304.24 L545.87,304.22 L546.27,304.21 L546.66,304.21 L547.05,304.22 L547.44,304.25 L547.84,304.28 L548.23,304.33 L548.62,304.40 L549.01,304.47 L549.40,304.57 L549.80,304.68 L550.19,304.80 L550.58,304.95 L550.97,305.11 L551.36,305.30 L551.76,305.51 L552.15,305.74 L552.54,306.00 L552.93,306.28 L553.33,306.59 L553.72,306.93 L554.11,307.30 L554.50,307.70 L554.89,308.14 L555.29,308.62 L555.68,309.13 L556.07,309.68 L556.46,310.27 L556.85,310.90 L557.25,311.58 L557.64,312.30 L558.03,313.07 L558.42,313.90 L558.82,314.77 L559.21,315.70 L559.60,316.69 L559.99,317.74 L560.38,318.84 L560.78,320.01 L561.17,321.25 L561.56,322.55 L561.95,323.92 L562.34,325.36 L562.74,326.86 L563.13,328.44 L563.52,330.10 L563.91,331.82 L564.31,333.62 L564.70,335.49 L565.09,337.43 L565.48,339.44 L565.87,341.52 L566.27,343.67 L566.66,345.88 L567.05,348.15 L567.44,350.48 L567.84,352.87 L568.23,355.30 L568.62,357.77 L569.01,360.28 L569.40,362.83 L569.80,365.39 L570.19,367.97 L570.58,370.56 L570.97,373.16 L571.36,375.74 L571.76,378.31 L572.15,380.85 L572.54,383.37 L572.93,385.84 L573.33,388.26 L573.72,390.63 L574.11,392.93 L574.50,395.16 L574.89,397.31 L575.29,399.38 L575.68,401.36 L576.07,403.24 L576.46,405.03 L576.85,406.72 L577.25,408.31 L577.64,409.79 L578.03,411.16 L578.42,412.43 L578.82,413.60 L579.21,414.65 L579.60,415.61 L579.99,416.46 L580.38,417.22 L580.78,417.87 L581.17,418.44 L581.56,418.91 L581.95,419.30 L582.34,419.60 L582.74,419.83 L583.13,419.98 L583.52,420.06 L583.91,420.07 L584.31,420.02 L584.70,419.91 L585.09,419.74 L585.48,419.52 L585.87,419.26 L586.27,418.95 L586.66,418.60 L587.05,418.22 L587.44,417.80 L587.83,417.35 L588.23,416.87 L588.62,416.36 L589.01,415.84 L589.40,415.29 L589.80,414.72 L590.19,414.14 L590.58,413.54 L590.97,412.94 L591.36,412.32 L591.76,411.69 L592.15,411.06 L592.54,410.42 L592.93,409.77 L593.32,409.12 L593.72,408.47 L594.11,407.82 L594.50,407.17 L594.89,406.51 L595.29,405.86 L595.68,405.21 L596.07,404.57 L596.46,403.93 L596.85,403.29 L597.25,402.66 L597.64,402.03 L598.03,401.41 L598.42,400.79 L598.82,400.18 L599.21,399.58 L599.60,398.98 L599.99,398.39 L600.38,397.80 L600.78,397.23 L601.17,396.66 L601.56,396.09 L601.95,395.54 L602.34,394.99 L602.74,394.45 L603.13,393.91 L603.52,393.39 L603.91,392.87 L604.31,392.36 L604.70,391.85 L605.09,391.35 L605.48,390.86 L605.87,390.38 L606.27,389.90 L606.66,389.43 L607.05,388.97 L607.44,388.51 L607.83,388.06 L608.23,387.62 L608.62,387.18 L609.01,386.75 L609.40,386.33 L609.80,385.91 L610.19,385.50 L610.58,385.10 L610.97,384.70 L611.36,384.30 L611.76,383.91 L612.15,383.53 L612.54,383.16 L612.93,382.78 L613.32,382.42 L613.72,382.06 L614.11,381.70 L614.50,381.35 L614.89,381.01 L615.29,380.66 L615.68,380.33 L616.07,380.00 L616.46,379.67 L616.85,379.34 L617.25,379.03 L617.64,378.71 L618.03,378.40 L618.42,378.09 L618.81,377.79 L619.21,377.49 L619.60,377.20 L619.99,376.91 L620.38,376.62 L620.78,376.33 L621.17,376.05 L621.56,375.78 L621.95,375.51 L622.34,375.24 L622.74,374.97 L623.13,374.71 L623.52,374.45 L623.91,374.20 L624.30,373.95 L624.70,373.70 L625.09,373.46 L625.48,373.22 L625.87,372.98 L626.27,372.75 L626.66,372.52 L627.05,372.29 L627.44,372.06 L627.83,371.84 L628.23,371.62 L628.62,371.41 L629.01,371.20 L629.40,370.99 L629.80,370.78 L630.19,370.57 L630.58,370.37 L630.97,370.17 L631.36,369.98 L631.76,369.78 L632.15,369.59 L632.54,369.40 L632.93,369.22 L633.32,369.03 L633.72,368.85 L634.11,368.67 L634.50,368.50 L634.89,368.32 L635.29,368.15 L635.68,367.98 L636.07,367.81 L636.46,367.65 L636.85,367.49 L637.25,367.32 L637.64,367.17 L638.03,367.01 L638.42,366.85 L638.81,366.70 L639.21,366.55 L639.60,366.40 L639.99,366.26 L640.38,366.11 L640.78,365.97 L641.17,365.83 L641.56,365.69 L641.95,365.55 L642.34,365.41 L642.74,365.28 L643.13,365.15 L643.52,365.02 L643.91,364.89 L644.30,364.76 L644.70,364.64 L645.09,364.51 L645.48,364.39 L645.87,364.27 L646.27,364.15 L646.66,364.04 L647.05,363.92 L647.44,363.80 L647.83,363.69 L648.23,363.58 L648.62,363.47 L649.01,363.36 L649.40,363.25 L649.79,363.15 L650.19,363.04 L650.58,362.94 L650.97,362.84 L651.36,362.74 L651.76,362.64 L652.15,362.54 L652.54,362.44 L652.93,362.34 L653.32,362.25 L653.72,362.15 L654.11,362.06 L654.50,361.97 L654.89,361.88 L655.28,361.79 L655.68,361.70 L656.07,361.61 L656.46,361.53 L656.85,361.44 L657.25,361.36 L657.64,361.27 L658.03,361.19 L658.42,361.11 L658.81,361.03 L659.21,360.95 L659.60,360.87 L659.99,360.79 L660.38,360.71 L660.77,360.63 L661.17,360.56 L661.56,360.48 L661.95,360.40 L662.34,360.33 L662.74,360.25 L663.13,360.18 L663.52,360.10 L663.91,360.03 L664.30,359.95 L664.70,359.88 L665.09,359.81 L665.48,359.73 L665.87,359.66 L666.27,359.59 L666.66,359.52 L667.05,359.45 L667.44,359.38 L667.83,359.31 L668.23,359.24 L668.62,359.17 L669.01,359.10 L669.40,359.04 L669.79,358.97 L670.19,358.90 L670.58,358.84 L670.97,358.77 L671.36,358.71 L671.76,358.64 L672.15,358.58 L672.54,358.52 L672.93,358.45 L673.32,358.39 L673.72,358.33 L674.11,358.27 L674.50,358.21 L674.89,358.15 L675.28,358.09 L675.68,358.03 L676.07,357.97 L676.46,357.91 L676.85,357.84 L677.25,357.78 L677.64,357.71 L678.03,357.64 L678.42,357.58 L678.81,357.51 L679.21,357.44 L679.60,357.38 L679.99,357.31 L680.38,357.25 L680.77,357.18 L681.17,357.12 L681.56,357.06 L681.95,357.00 L682.34,356.95 L682.74,356.90 L683.13,356.85 L683.52,356.80 L683.91,356.75 L684.30,356.71 L684.70,356.68 L685.09,356.65 L685.48,356.62 L685.87,356.59 L686.26,356.56 L686.66,356.53" fill="none" stroke="#1f77b4" stroke-width="1.5" stroke-linejoin="round" clip-path="url(#clipd)"/>
<path d="M412.54,367.45 L412.94,367.43 L413.33,367.42 L413.72,367.41 L414.11,367.39 L414.50,367.38 L414.90,367.37 L415.29,367.35 L415.68,367.34 L416.07,367.32 L416.46,367.31 L416.86,367.29 L417.25,367.28 L417.64,367.26 L418.03,367.25 L418.43,367.23 L418.82,367.22 L419.21,367.20 L419.60,367.18 L419.99,367.17 L420.39,367.15 L420.78,367.13 L421.17,367.12 L421.56,367.10 L421.95,367.08 L422.35,367.07 L422.74,367.05 L423.13,367.03 L423.52,367.01 L423.92,366.99 L424.31,366.97 L424.70,366.96 L425.09,366.94 L425.48,366.92 L425.88,366.90 L426.27,366.88 L426.66,366.86 L427.05,366.84 L427.44,366.82 L427.84,366.80 L428.23,366.78 L428.62,366.76 L429.01,366.73 L429.41,366.71 L429.80,366.69 L430.19,366.67 L430.58,366.65 L430.97,366.63 L431.37,366.60 L431.76,366.58 L432.15,366.56 L432.54,366.53 L432.93,366.51 L433.33,366.49 L433.72,366.46 L434.11,366.44 L434.50,366.42 L434.90,366.39 L435.29,366.37 L435.68,366.34 L436.07,366.32 L436.46,366.29 L436.86,366.26 L437.25,366.24 L437.64,366.21 L438.03,366.19 L438.43,366.16 L438.82,366.13 L439.21,366.11 L439.60,366.08 L439.99,366.05 L440.39,366.02 L440.78,365.99 L441.17,365.97 L441.56,365.94 L441.95,365.91 L442.35,365.88 L442.74,365.85 L443.13,365.82 L443.52,365.79 L443.92,365.76 L444.31,365.73 L444.70,365.70 L445.09,365.67 L445.48,365.64 L445.88,365.60 L446.27,365.57 L446.66,365.54 L447.05,365.51 L447.44,365.47 L447.84,365.44 L448.23,365.41 L448.62,365.37 L449.01,365.34 L449.41,365.31 L449.80,365.27 L450.19,365.24 L450.58,365.20 L450.97,365.17 L451.37,365.13 L451.76,365.10 L452.15,365.06 L452.54,365.02 L452.93,364.99 L453.33,364.95 L453.72,364.91 L454.11,364.87 L454.50,364.84 L454.90,364.80 L455.29,364.76 L455.68,364.72 L456.07,364.68 L456.46,364.64 L456.86,364.60 L457.25,364.56 L457.64,364.52 L458.03,364.48 L458.42,364.44 L458.82,364.39 L459.21,364.35 L459.60,364.31 L459.99,364.27 L460.39,364.22 L460.78,364.18 L461.17,364.13 L461.56,364.09 L461.95,364.05 L462.35,364.00 L462.74,363.95 L463.13,363.91 L463.52,363.86 L463.91,363.82 L464.31,363.77 L464.70,363.72 L465.09,363.67 L465.48,363.62 L465.88,363.58 L466.27,363.53 L466.66,363.48 L467.05,363.43 L467.44,363.38 L467.84,363.33 L468.23,363.27 L468.62,363.22 L469.01,363.17 L469.40,363.12 L469.80,363.06 L470.19,363.01 L470.58,362.96 L470.97,362.91 L471.37,362.86 L471.76,362.81 L472.15,362.76 L472.54,362.71 L472.93,362.66 L473.33,362.61 L473.72,362.55 L474.11,362.50 L474.50,362.45 L474.90,362.39 L475.29,362.34 L475.68,362.28 L476.07,362.23 L476.46,362.17 L476.86,362.12 L477.25,362.06 L477.64,362.00 L478.03,361.95 L478.42,361.89 L478.82,361.83 L479.21,361.77 L479.60,361.71 L479.99,361.65 L480.39,361.59 L480.78,361.53 L481.17,361.47 L481.56,361.40 L481.95,361.34 L482.35,361.28 L482.74,361.21 L483.13,361.15 L483.52,361.08 L483.91,361.02 L484.31,360.95 L484.70,360.88 L485.09,360.81 L485.48,360.75 L485.88,360.68 L486.27,360.61 L486.66,360.54 L487.05,360.46 L487.44,360.39 L487.84,360.32 L488.23,360.24 L488.62,360.17 L489.01,360.09 L489.40,360.02 L489.80,359.94 L490.19,359.86 L490.58,359.78 L490.97,359.71 L491.37,359.63 L491.76,359.54 L492.15,359.46 L492.54,359.38 L492.93,359.29 L493.33,359.21 L493.72,359.12 L494.11,359.04 L494.50,358.95 L494.89,358.86 L495.29,358.77 L495.68,358.68 L496.07,358.59 L496.46,358.49 L496.86,358.40 L497.25,358.30 L497.64,358.21 L498.03,358.11 L498.42,358.01 L498.82,357.91 L499.21,357.81 L499.60,357.71 L499.99,357.61 L500.38,357.50 L500.78,357.40 L501.17,357.29 L501.56,357.18 L501.95,357.07 L502.35,356.96 L502.74,356.85 L503.13,356.74 L503.52,356.63 L503.91,356.51 L504.31,356.39 L504.70,356.27 L505.09,356.16 L505.48,356.03 L505.88,355.91 L506.27,355.79 L506.66,355.66 L507.05,355.54 L507.44,355.41 L507.84,355.28 L508.23,355.14 L508.62,355.01 L509.01,354.88 L509.40,354.74 L509.80,354.60 L510.19,354.46 L510.58,354.32 L510.97,354.18 L511.37,354.04 L511.76,353.90 L512.15,353.75 L512.54,353.60 L512.93,353.45 L513.33,353.30 L513.72,353.15 L514.11,352.99 L514.50,352.84 L514.89,352.68 L515.29,352.51 L515.68,352.35 L516.07,352.18 L516.46,352.01 L516.86,351.83 L517.25,351.66 L517.64,351.48 L518.03,351.29 L518.42,351.11 L518.82,350.92 L519.21,350.72 L519.60,350.52 L519.99,350.32 L520.38,350.11 L520.78,349.90 L521.17,349.69 L521.56,349.47 L521.95,349.24 L522.35,349.01 L522.74,348.78 L523.13,348.54 L523.52,348.29 L523.91,348.05 L524.31,347.79 L524.70,347.54 L525.09,347.27 L525.48,347.01 L525.87,346.73 L526.27,346.46 L526.66,346.18 L527.05,345.89 L527.44,345.60 L527.84,345.30 L528.23,345.00 L528.62,344.69 L529.01,344.38 L529.40,344.06 L529.80,343.73 L530.19,343.41 L530.58,343.07 L530.97,342.73 L531.36,342.38 L531.76,342.03 L532.15,341.67 L532.54,341.31 L532.93,340.94 L533.33,340.57 L533.72,340.19 L534.11,339.81 L534.50,339.41 L534.89,339.01 L535.29,338.61 L535.68,338.19 L536.07,337.77 L536.46,337.33 L536.86,336.89 L537.25,336.44 L537.64,335.97 L538.03,335.49 L538.42,335.00 L538.82,334.50 L539.21,333.98 L539.60,333.45 L539.99,332.91 L540.38,332.35 L540.78,331.77 L541.17,331.18 L541.56,330.58 L541.95,329.96 L542.35,329.33 L542.74,328.69 L543.13,328.03 L543.52,327.35 L543.91,326.66 L544.31,325.95 L544.70,325.23 L545.09,324.49 L545.48,323.74 L545.87,322.97 L546.27,322.18 L546.66,321.38 L547.05,320.56 L547.44,319.72 L547.84,318.85 L548.23,317.95 L548.62,317.03 L549.01,316.09 L549.40,315.12 L549.80,314.13 L550.19,313.13 L550.58,312.11 L550.97,311.07 L551.36,310.02 L551.76,308.95 L552.15,307.87 L552.54,306.78 L552.93,305.67 L553.33,304.54 L553.72,303.39 L554.11,302.23 L554.50,301.04 L554.89,299.85 L555.29,298.63 L555.68,297.41 L556.07,296.17 L556.46,294.91 L556.85,293.65 L557.25,292.37 L557.64,291.09 L558.03,289.80 L558.42,288.50 L558.82,287.20 L559.21,285.89 L559.60,284.58 L559.99,283.27 L560.38,281.97 L560.78,280.67 L561.17,279.38 L561.56,278.10 L561.95,276.84 L562.34,275.60 L562.74,274.38 L563.13,273.19 L563.52,272.04 L563.91,270.92 L564.31,269.84 L564.70,268.82 L565.09,267.85 L565.48,266.93 L565.87,266.08 L566.27,265.30 L566.66,264.60 L567.05,263.97 L567.44,263.43 L567.84,262.99 L568.23,262.64 L568.62,262.39 L569.01,262.25 L569.40,262.22 L569.80,262.30 L570.19,262.50 L570.58,262.82 L570.97,263.26 L571.36,263.82 L571.76,264.50 L572.15,265.30 L572.54,266.23 L572.93,267.26 L573.33,268.42 L573.72,269.68 L574.11,271.05 L574.50,272.52 L574.89,274.08 L575.29,275.74 L575.68,277.47 L576.07,279.29 L576.46,281.17 L576.85,283.11 L577.25,285.11 L577.64,287.15 L578.03,289.23 L578.42,291.34 L578.82,293.48 L579.21,295.63 L579.60,297.79 L579.99,299.96 L580.38,302.12 L580.78,304.28 L581.17,306.42 L581.56,308.54 L581.95,310.64 L582.34,312.72 L582.74,314.76 L583.13,316.77 L583.52,318.74 L583.91,320.68 L584.31,322.57 L584.70,324.42 L585.09,326.23 L585.48,327.99 L585.87,329.70 L586.27,331.37 L586.66,333.00 L587.05,334.58 L587.44,336.11 L587.83,337.59 L588.23,339.03 L588.62,340.42 L589.01,341.77 L589.40,343.07 L589.80,344.33 L590.19,345.55 L590.58,346.73 L590.97,347.86 L591.36,348.96 L591.76,350.02 L592.15,351.04 L592.54,352.02 L592.93,352.97 L593.32,353.89 L593.72,354.77 L594.11,355.62 L594.50,356.44 L594.89,357.22 L595.29,357.98 L595.68,358.72 L596.07,359.42 L596.46,360.10 L596.85,360.75 L597.25,361.38 L597.64,361.99 L598.03,362.57 L598.42,363.13 L598.82,363.67 L599.21,364.19 L599.60,364.70 L599.99,365.18 L600.38,365.64 L600.78,366.09 L601.17,366.52 L601.56,366.94 L601.95,367.34 L602.34,367.72 L602.74,368.09 L603.13,368.45 L603.52,368.79 L603.91,369.13 L604.31,369.44 L604.70,369.75 L605.09,370.05 L605.48,370.33 L605.87,370.61 L606.27,370.87 L606.66,371.13 L607.05,371.37 L607.44,371.61 L607.83,371.84 L608.23,372.06 L608.62,372.27 L609.01,372.48 L609.40,372.67 L609.80,372.86 L610.19,373.05 L610.58,373.22 L610.97,373.39 L611.36,373.56 L611.76,373.71 L612.15,373.87 L612.54,374.01 L612.93,374.15 L613.32,374.29 L613.72,374.42 L614.11,374.55 L614.50,374.67 L614.89,374.79 L615.29,374.90 L615.68,375.01 L616.07,375.12 L616.46,375.22 L616.85,375.32 L617.25,375.41 L617.64,375.50 L618.03,375.59 L618.42,375.68 L618.81,375.76 L619.21,375.84 L619.60,375.91 L619.99,375.98 L620.38,376.05 L620.78,376.12 L621.17,376.19 L621.56,376.25 L621.95,376.31 L622.34,376.37 L622.74,376.42 L623.13,376.48 L623.52,376.53 L623.91,376.58 L624.30,376.63 L624.70,376.67 L625.09,376.72 L625.48,376.76 L625.87,376.80 L626.27,376.84 L626.66,376.88 L627.05,376.92 L627.44,376.95 L627.83,376.99 L628.23,377.02 L628.62,377.05 L629.01,377.08 L629.40,377.11 L629.80,377.14 L630.19,377.16 L630.58,377.19 L630.97,377.21 L631.36,377.23 L631.76,377.26 L632.15,377.28 L632.54,377.30 L632.93,377.32 L633.32,377.33 L633.72,377.35 L634.11,377.37 L634.50,377.38 L634.89,377.40 L635.29,377.41 L635.68,377.43 L636.07,377.44 L636.46,377.45 L636.85,377.47 L637.25,377.48 L637.64,377.49 L638.03,377.50 L638.42,377.51 L638.81,377.52 L639.21,377.52 L639.60,377.53 L639.99,377.54 L640.38,377.55 L640.78,377.55 L641.17,377.56 L641.56,377.56 L641.95,377.57 L642.34,377.57 L642.74,377.58 L643.13,377.58 L643.52,377.59 L643.91,377.59 L644.30,377.59 L644.70,377.60 L645.09,377.60 L645.48,377.60 L645.87,377.60 L646.27,377.60 L646.66,377.60 L647.05,377.61 L647.44,377.61 L647.83,377.61 L648.23,377.61 L648.62,377.61 L649.01,377.61 L649.40,377.61 L649.79,377.61 L650.19,377.61 L650.58,377.60 L650.97,377.60 L651.36,377.60 L651.76,377.60 L652.15,377.60 L652.54,377.60 L652.93,377.60 L653.32,377.59 L653.72,377.59 L654.11,377.59 L654.50,377.59 L654.89,377.58 L655.28,377.58 L655.68,377.58 L656.07,377.58 L656.46,377.57 L656.85,377.57 L657.25,377.57 L657.64,377.57 L658.03,377.56 L658.42,377.56 L658.81,377.56 L659.21,377.55 L659.60,377.55 L659.99,377.55 L660.38,377.54 L660.77,377.54 L661.17,377.54 L661.56,377.53 L661.95,377.53 L662.34,377.53 L662.74,377.52 L663.13,377.52 L663.52,377.51 L663.91,377.51 L664.30,377.51 L664.70,377.50 L665.09,377.50 L665.48,377.50 L665.87,377.49 L666.27,377.49 L666.66,377.49 L667.05,377.48 L667.44,377.48 L667.83,377.47 L668.23,377.47 L668.62,377.47 L669.01,377.46 L669.40,377.46 L669.79,377.46 L670.19,377.45 L670.58,377.45 L670.97,377.45 L671.36,377.44 L671.76,377.44 L672.15,377.44 L672.54,377.43 L672.93,377.43 L673.32,377.43 L673.72,377.42 L674.11,377.42 L674.50,377.42 L674.89,377.42 L675.28,377.41 L675.68,377.41 L676.07,377.41 L676.46,377.40 L676.85,377.40 L677.25,377.40 L677.64,377.40 L678.03,377.39 L678.42,377.39 L678.81,377.39 L679.21,377.39 L679.60,377.38 L679.99,377.38 L680.38,377.38 L680.77,377.38 L681.17,377.38 L681.56,377.37 L681.95,377.37 L682.34,377.37 L682.74,377.37 L683.13,377.37 L683.52,377.37 L683.91,377.36 L684.30,377.36 L684.70,377.36 L685.09,377.36 L685.48,377.36 L685.87,377.36 L686.26,377.36 L686.66,377.36" fill="none" stroke="#ff7f0e" stroke-width="1.5" stroke-linejoin="round" clip-path="url(#clipd)"/>
<path d="M412.24,347.85 L412.64,347.84 L413.03,347.83 L413.42,347.82 L413.81,347.81 L414.20,347.80 L414.60,347.79 L414.99,347.77 L415.38,347.76 L415.77,347.75 L416.16,347.74 L416.56,347.73 L416.95,347.72 L417.34,347.71 L417.73,347.70 L418.13,347.69 L418.52,347.68 L418.91,347.67 L419.30,347.66 L419.69,347.64 L420.09,347.63 L420.48,347.62 L420.87,347.61 L421.26,347.60 L421.65,347.59 L422.05,347.58 L422.44,347.57 L422.83,347.55 L423.22,347.54 L423.62,347.53 L424.01,347.52 L424.40,347.51 L424.79,347.50 L425.18,347.48 L425.58,347.47 L425.97,347.46 L426.36,347.45 L426.75,347.43 L427.14,347.42 L427.54,347.41 L427.93,347.40 L428.32,347.39 L428.71,347.37 L429.11,347.36 L429.50,347.35 L429.89,347.34 L430.28,347.32 L430.67,347.31 L431.07,347.30 L431.46,347.28 L431.85,347.27 L432.24,347.26 L432.63,347.25 L433.03,347.23 L433.42,347.22 L433.81,347.21 L434.20,347.19 L434.60,347.18 L434.99,347.17 L435.38,347.15 L435.77,347.14 L436.16,347.12 L436.56,347.11 L436.95,347.10 L437.34,347.08 L437.73,347.07 L438.13,347.06 L438.52,347.04 L438.91,347.03 L439.30,347.01 L439.69,347.00 L440.09,346.98 L440.48,346.97 L440.87,346.95 L441.26,346.94 L441.65,346.93 L442.05,346.91 L442.44,346.90 L442.83,346.88 L443.22,346.87 L443.62,346.85 L444.01,346.84 L444.40,346.82 L444.79,346.80 L445.18,346.79 L445.58,346.77 L445.97,346.76 L446.36,346.74 L446.75,346.73 L447.14,346.71 L447.54,346.69 L447.93,346.68 L448.32,346.66 L448.71,346.65 L449.11,346.63 L449.50,346.61 L449.89,346.60 L450.28,346.58 L450.67,346.56 L451.07,346.55 L451.46,346.53 L451.85,346.51 L452.24,346.49 L452.63,346.48 L453.03,346.46 L453.42,346.44 L453.81,346.42 L454.20,346.41 L454.60,346.39 L454.99,346.37 L455.38,346.35 L455.77,346.34 L456.16,346.32 L456.56,346.30 L456.95,346.28 L457.34,346.26 L457.73,346.24 L458.12,346.22 L458.52,346.21 L458.91,346.19 L459.30,346.17 L459.69,346.15 L460.09,346.13 L460.48,346.11 L460.87,346.09 L461.26,346.07 L461.65,346.05 L462.05,346.03 L462.44,346.01 L462.83,345.99 L463.22,345.97 L463.61,345.95 L464.01,345.93 L464.40,345.91 L464.79,345.89 L465.18,345.87 L465.58,345.85 L465.97,345.82 L466.36,345.80 L466.75,345.78 L467.14,345.76 L467.54,345.74 L467.93,345.72 L468.32,345.69 L468.71,345.67 L469.10,345.65 L469.50,345.63 L469.89,345.60 L470.28,345.58 L470.67,345.56 L471.07,345.53 L471.46,345.51 L471.85,345.49 L472.24,345.46 L472.63,345.44 L473.03,345.42 L473.42,345.39 L473.81,345.37 L474.20,345.34 L474.60,345.32 L474.99,345.29 L475.38,345.27 L475.77,345.24 L476.16,345.22 L476.56,345.19 L476.95,345.17 L477.34,345.14 L477.73,345.12 L478.12,345.09 L478.52,345.06 L478.91,345.04 L479.30,345.01 L479.69,344.98 L480.09,344.96 L480.48,344.93 L480.87,344.90 L481.26,344.87 L481.65,344.85 L482.05,344.82 L482.44,344.79 L482.83,344.76 L483.22,344.73 L483.61,344.70 L484.01,344.67 L484.40,344.64 L484.79,344.61 L485.18,344.58 L485.58,344.55 L485.97,344.52 L486.36,344.49 L486.75,344.46 L487.14,344.43 L487.54,344.40 L487.93,344.37 L488.32,344.34 L488.71,344.31 L489.10,344.27 L489.50,344.24 L489.89,344.21 L490.28,344.17 L490.67,344.14 L491.07,344.11 L491.46,344.07 L491.85,344.04 L492.24,344.01 L492.63,343.97 L493.03,343.94 L493.42,343.90 L493.81,343.87 L494.20,343.83 L494.59,343.79 L494.99,343.76 L495.38,343.72 L495.77,343.68 L496.16,343.65 L496.56,343.61 L496.95,343.57 L497.34,343.53 L497.73,343.49 L498.12,343.45 L498.52,343.41 L498.91,343.37 L499.30,343.33 L499.69,343.29 L500.08,343.25 L500.48,343.21 L500.87,343.17 L501.26,343.13 L501.65,343.09 L502.05,343.04 L502.44,343.00 L502.83,342.96 L503.22,342.91 L503.61,342.87 L504.01,342.83 L504.40,342.78 L504.79,342.74 L505.18,342.69 L505.58,342.64 L505.97,342.60 L506.36,342.55 L506.75,342.50 L507.14,342.45 L507.54,342.41 L507.93,342.36 L508.32,342.31 L508.71,342.26 L509.10,342.21 L509.50,342.16 L509.89,342.10 L510.28,342.05 L510.67,342.00 L511.07,341.95 L511.46,341.89 L511.85,341.84 L512.24,341.79 L512.63,341.73 L513.03,341.67 L513.42,341.62 L513.81,341.56 L514.20,341.50 L514.59,341.45 L514.99,341.39 L515.38,341.33 L515.77,341.27 L516.16,341.21 L516.56,341.15 L516.95,341.09 L517.34,341.02 L517.73,340.96 L518.12,340.90 L518.52,340.83 L518.91,340.77 L519.30,340.70 L519.69,340.63 L520.08,340.57 L520.48,340.50 L520.87,340.43 L521.26,340.36 L521.65,340.29 L522.05,340.22 L522.44,340.14 L522.83,340.07 L523.22,340.00 L523.61,339.92 L524.01,339.85 L524.40,339.77 L524.79,339.69 L525.18,339.61 L525.57,339.53 L525.97,339.45 L526.36,339.37 L526.75,339.29 L527.14,339.21 L527.54,339.12 L527.93,339.04 L528.32,338.95 L528.71,338.86 L529.10,338.77 L529.50,338.68 L529.89,338.59 L530.28,338.50 L530.67,338.41 L531.06,338.31 L531.46,338.21 L531.85,338.12 L532.24,338.02 L532.63,337.92 L533.03,337.82 L533.42,337.71 L533.81,337.61 L534.20,337.50 L534.59,337.40 L534.99,337.29 L535.38,337.18 L535.77,337.07 L536.16,336.95 L536.56,336.84 L536.95,336.72 L537.34,336.60 L537.73,336.48 L538.12,336.36 L538.52,336.24 L538.91,336.11 L539.30,335.98 L539.69,335.85 L540.08,335.72 L540.48,335.59 L540.87,335.45 L541.26,335.32 L541.65,335.18 L542.05,335.03 L542.44,334.89 L542.83,334.74 L543.22,334.59 L543.61,334.44 L544.01,334.29 L544.40,334.13 L544.79,333.97 L545.18,333.81 L545.57,333.64 L545.97,333.48 L546.36,333.30 L546.75,333.13 L547.14,332.95 L547.54,332.77 L547.93,332.59 L548.32,332.40 L548.71,332.21 L549.10,332.02 L549.50,331.82 L549.89,331.62 L550.28,331.42 L550.67,331.21 L551.06,331.00 L551.46,330.78 L551.85,330.56 L552.24,330.34 L552.63,330.11 L553.03,329.87 L553.42,329.63 L553.81,329.39 L554.20,329.14 L554.59,328.89 L554.99,328.63 L555.38,328.36 L555.77,328.09 L556.16,327.82 L556.55,327.54 L556.95,327.25 L557.34,326.95 L557.73,326.65 L558.12,326.34 L558.52,326.03 L558.91,325.71 L559.30,325.38 L559.69,325.04 L560.08,324.70 L560.48,324.34 L560.87,323.98 L561.26,323.61 L561.65,323.24 L562.04,322.85 L562.44,322.45 L562.83,322.04 L563.22,321.63 L563.61,321.20 L564.01,320.76 L564.40,320.31 L564.79,319.85 L565.18,319.38 L565.57,318.89 L565.97,318.40 L566.36,317.88 L566.75,317.36 L567.14,316.82 L567.54,316.27 L567.93,315.71 L568.32,315.12 L568.71,314.53 L569.10,313.92 L569.50,313.29 L569.89,312.64 L570.28,311.98 L570.67,311.30 L571.06,310.61 L571.46,309.90 L571.85,309.17 L572.24,308.42 L572.63,307.65 L573.03,306.87 L573.42,306.07 L573.81,305.26 L574.20,304.43 L574.59,303.59 L574.99,302.74 L575.38,301.87 L575.77,301.00 L576.16,300.12 L576.55,299.25 L576.95,298.38 L577.34,297.52 L577.73,296.67 L578.12,295.86 L578.52,295.07 L578.91,294.34 L579.30,293.67 L579.69,293.08 L580.08,292.58 L580.48,292.21 L580.87,291.99 L581.26,291.94 L581.65,292.11 L582.04,292.53 L582.44,293.24 L582.83,294.28 L583.22,295.72 L583.61,297.59 L584.01,299.93 L584.40,302.81 L584.79,306.24 L585.18,310.25 L585.57,314.85 L585.97,320.03 L586.36,325.74 L586.75,331.93 L587.14,338.50 L587.53,345.34 L587.93,352.33 L588.32,359.32 L588.71,366.18 L589.10,372.78 L589.50,379.00 L589.89,384.75 L590.28,389.97 L590.67,394.62 L591.06,398.68 L591.46,402.16 L591.85,405.07 L592.24,407.46 L592.63,409.36 L593.02,410.83 L593.42,411.91 L593.81,412.64 L594.20,413.08 L594.59,413.26 L594.99,413.23 L595.38,413.02 L595.77,412.66 L596.16,412.18 L596.55,411.59 L596.95,410.93 L597.34,410.20 L597.73,409.42 L598.12,408.60 L598.52,407.76 L598.91,406.90 L599.30,406.03 L599.69,405.16 L600.08,404.28 L600.48,403.41 L600.87,402.54 L601.26,401.69 L601.65,400.85 L602.04,400.02 L602.44,399.20 L602.83,398.40 L603.22,397.62 L603.61,396.85 L604.01,396.11 L604.40,395.37 L604.79,394.66 L605.18,393.96 L605.57,393.28 L605.97,392.62 L606.36,391.97 L606.75,391.35 L607.14,390.73 L607.53,390.13 L607.93,389.55 L608.32,388.98 L608.71,388.43 L609.10,387.89 L609.50,387.37 L609.89,386.86 L610.28,386.36 L610.67,385.87 L611.06,385.40 L611.46,384.94 L611.85,384.49 L612.24,384.05 L612.63,383.62 L613.02,383.20 L613.42,382.79 L613.81,382.39 L614.20,382.01 L614.59,381.63 L614.99,381.26 L615.38,380.89 L615.77,380.54 L616.16,380.20 L616.55,379.86 L616.95,379.53 L617.34,379.21 L617.73,378.89 L618.12,378.58 L618.51,378.28 L618.91,377.99 L619.30,377.70 L619.69,377.42 L620.08,377.14 L620.48,376.87 L620.87,376.60 L621.26,376.34 L621.65,376.09 L622.04,375.84 L622.44,375.60 L622.83,375.36 L623.22,375.12 L623.61,374.89 L624.00,374.67 L624.40,374.45 L624.79,374.23 L625.18,374.02 L625.57,373.81 L625.97,373.60 L626.36,373.40 L626.75,373.21 L627.14,373.01 L627.53,372.82 L627.93,372.64 L628.32,372.45 L628.71,372.27 L629.10,372.09 L629.50,371.92 L629.89,371.75 L630.28,371.58 L630.67,371.42 L631.06,371.25 L631.46,371.09 L631.85,370.94 L632.24,370.78 L632.63,370.63 L633.02,370.48 L633.42,370.33 L633.81,370.19 L634.20,370.05 L634.59,369.91 L634.99,369.77 L635.38,369.63 L635.77,369.50 L636.16,369.37 L636.55,369.24 L636.95,369.11 L637.34,368.98 L637.73,368.86 L638.12,368.74 L638.51,368.62 L638.91,368.50 L639.30,368.38 L639.69,368.27 L640.08,368.15 L640.48,368.04 L640.87,367.93 L641.26,367.82 L641.65,367.71 L642.04,367.61 L642.44,367.50 L642.83,367.40 L643.22,367.30 L643.61,367.20 L644.00,367.10 L644.40,367.00 L644.79,366.91 L645.18,366.81 L645.57,366.72 L645.97,366.63 L646.36,366.53 L646.75,366.44 L647.14,366.36 L647.53,366.27 L647.93,366.18 L648.32,366.09 L648.71,366.01 L649.10,365.93 L649.49,365.84 L649.89,365.76 L650.28,365.68 L650.67,365.60 L651.06,365.52 L651.46,365.45 L651.85,365.37 L652.24,365.29 L652.63,365.22 L653.02,365.14 L653.42,365.07 L653.81,365.00 L654.20,364.93 L654.59,364.86 L654.98,364.79 L655.38,364.72 L655.77,364.65 L656.16,364.58 L656.55,364.52 L656.95,364.45 L657.34,364.38 L657.73,364.32 L658.12,364.25 L658.51,364.19 L658.91,364.13 L659.30,364.07 L659.69,364.01 L660.08,363.95 L660.47,363.89 L660.87,363.83 L661.26,363.77 L661.65,363.71 L662.04,363.65 L662.44,363.59 L662.83,363.54 L663.22,363.48 L663.61,363.43 L664.00,363.37 L664.40,363.32 L664.79,363.27 L665.18,363.21 L665.57,363.16 L665.97,363.11 L666.36,363.06 L666.75,363.01 L667.14,362.96 L667.53,362.91 L667.93,362.86 L668.32,362.81 L668.71,362.76 L669.10,362.71 L669.49,362.66 L669.89,362.62 L670.28,362.57 L670.67,362.52 L671.06,362.48 L671.46,362.43 L671.85,362.39 L672.24,362.34 L672.63,362.30 L673.02,362.25 L673.42,362.21 L673.81,362.17 L674.20,362.12 L674.59,362.08 L674.98,362.04 L675.38,362.00 L675.77,361.96 L676.16,361.92 L676.55,361.88 L676.95,361.84 L677.34,361.80 L677.73,361.76 L678.12,361.72 L678.51,361.68 L678.91,361.64 L679.30,361.60 L679.69,361.56 L680.08,361.53 L680.47,361.49 L680.87,361.45 L681.26,361.42 L681.65,361.38 L682.04,361.34 L682.44,361.31 L682.83,361.27 L683.22,361.24 L683.61,361.20 L684.00,361.17 L684.40,361.14 L684.79,361.10 L685.18,361.07 L685.57,361.03 L685.96,361.00 L686.36,360.97" fill="none" stroke="#1f77b4" stroke-width="1.5" stroke-linejoin="round" stroke-dasharray="1.6 1.61" clip-path="url(#clipd)"/>
<path d="M412.24,380.86 L412.64,380.86 L413.03,380.86 L413.42,380.86 L413.81,380.86 L414.20,380.86 L414.60,380.86 L414.99,380.86 L415.38,380.86 L415.77,380.86 L416.16,380.85 L416.56,380.85 L416.95,380.85 L417.34,380.85 L417.73,380.85 L418.13,380.85 L418.52,380.85 L418.91,380.85 L419.30,380.85 L419.69,380.85 L420.09,380.85 L420.48,380.84 L420.87,380.84 L421.26,380.84 L421.65,380.84 L422.05,380.84 L422.44,380.84 L422.83,380.84 L423.22,380.84 L423.62,380.84 L424.01,380.84 L424.40,380.83 L424.79,380.83 L425.18,380.83 L425.58,380.83 L425.97,380.83 L426.36,380.83 L426.75,380.83 L427.14,380.83 L427.54,380.83 L427.93,380.83 L428.32,380.82 L428.71,380.82 L429.11,380.82 L429.50,380.82 L429.89,380.82 L430.28,380.82 L430.67,380.82 L431.07,380.82 L431.46,380.82 L431.85,380.81 L432.24,380.81 L432.63,380.81 L433.03,380.81 L433.42,380.81 L433.81,380.81 L434.20,380.81 L434.60,380.81 L434.99,380.81 L435.38,380.80 L435.77,380.80 L436.16,380.80 L436.56,380.80 L436.95,380.80 L437.34,380.80 L437.73,380.80 L438.13,380.80 L438.52,380.79 L438.91,380.79 L439.30,380.79 L439.69,380.79 L440.09,380.79 L440.48,380.79 L440.87,380.79 L441.26,380.78 L441.65,380.78 L442.05,380.78 L442.44,380.78 L442.83,380.78 L443.22,380.78 L443.62,380.78 L444.01,380.77 L444.40,380.77 L444.79,380.77 L445.18,380.77 L445.58,380.77 L445.97,380.77 L446.36,380.77 L446.75,380.76 L447.14,380.76 L447.54,380.76 L447.93,380.76 L448.32,380.76 L448.71,380.76 L449.11,380.75 L449.50,380.75 L449.89,380.75 L450.28,380.75 L450.67,380.75 L451.07,380.75 L451.46,380.74 L451.85,380.74 L452.24,380.74 L452.63,380.74 L453.03,380.74 L453.42,380.74 L453.81,380.73 L454.20,380.73 L454.60,380.73 L454.99,380.73 L455.38,380.73 L455.77,380.72 L456.16,380.72 L456.56,380.72 L456.95,380.72 L457.34,380.72 L457.73,380.71 L458.12,380.71 L458.52,380.71 L458.91,380.71 L459.30,380.71 L459.69,380.70 L460.09,380.70 L460.48,380.70 L460.87,380.70 L461.26,380.70 L461.65,380.69 L462.05,380.69 L462.44,380.69 L462.83,380.69 L463.22,380.69 L463.61,380.68 L464.01,380.68 L464.40,380.68 L464.79,380.68 L465.18,380.67 L465.58,380.67 L465.97,380.67 L466.36,380.67 L466.75,380.66 L467.14,380.66 L467.54,380.66 L467.93,380.66 L468.32,380.65 L468.71,380.65 L469.10,380.65 L469.50,380.65 L469.89,380.64 L470.28,380.64 L470.67,380.64 L471.07,380.64 L471.46,380.63 L471.85,380.63 L472.24,380.63 L472.63,380.62 L473.03,380.62 L473.42,380.62 L473.81,380.62 L474.20,380.61 L474.60,380.61 L474.99,380.61 L475.38,380.60 L475.77,380.60 L476.16,380.60 L476.56,380.59 L476.95,380.59 L477.34,380.59 L477.73,380.59 L478.12,380.58 L478.52,380.58 L478.91,380.58 L479.30,380.57 L479.69,380.57 L480.09,380.56 L480.48,380.56 L480.87,380.56 L481.26,380.55 L481.65,380.55 L482.05,380.55 L482.44,380.54 L482.83,380.54 L483.22,380.54 L483.61,380.53 L484.01,380.53 L484.40,380.52 L484.79,380.52 L485.18,380.52 L485.58,380.51 L485.97,380.51 L486.36,380.50 L486.75,380.50 L487.14,380.50 L487.54,380.49 L487.93,380.49 L488.32,380.48 L488.71,380.48 L489.10,380.47 L489.50,380.47 L489.89,380.46 L490.28,380.46 L490.67,380.46 L491.07,380.45 L491.46,380.45 L491.85,380.44 L492.24,380.44 L492.63,380.43 L493.03,380.43 L493.42,380.42 L493.81,380.42 L494.20,380.41 L494.59,380.41 L494.99,380.40 L495.38,380.39 L495.77,380.39 L496.16,380.38 L496.56,380.38 L496.95,380.37 L497.34,380.37 L497.73,380.36 L498.12,380.35 L498.52,380.35 L498.91,380.34 L499.30,380.34 L499.69,380.33 L500.08,380.32 L500.48,380.32 L500.87,380.31 L501.26,380.30 L501.65,380.30 L502.05,380.29 L502.44,380.28 L502.83,380.28 L503.22,380.27 L503.61,380.26 L504.01,380.26 L504.40,380.25 L504.79,380.24 L505.18,380.23 L505.58,380.23 L505.97,380.22 L506.36,380.21 L506.75,380.20 L507.14,380.19 L507.54,380.19 L507.93,380.18 L508.32,380.17 L508.71,380.16 L509.10,380.15 L509.50,380.14 L509.89,380.13 L510.28,380.12 L510.67,380.11 L511.07,380.11 L511.46,380.10 L511.85,380.09 L512.24,380.08 L512.63,380.07 L513.03,380.06 L513.42,380.05 L513.81,380.04 L514.20,380.02 L514.59,380.01 L514.99,380.00 L515.38,379.99 L515.77,379.98 L516.16,379.97 L516.56,379.96 L516.95,379.94 L517.34,379.93 L517.73,379.92 L518.12,379.91 L518.52,379.90 L518.91,379.88 L519.30,379.87 L519.69,379.86 L520.08,379.84 L520.48,379.83 L520.87,379.81 L521.26,379.80 L521.65,379.78 L522.05,379.77 L522.44,379.76 L522.83,379.74 L523.22,379.72 L523.61,379.71 L524.01,379.69 L524.40,379.68 L524.79,379.66 L525.18,379.64 L525.57,379.62 L525.97,379.61 L526.36,379.59 L526.75,379.57 L527.14,379.55 L527.54,379.53 L527.93,379.51 L528.32,379.49 L528.71,379.47 L529.10,379.45 L529.50,379.43 L529.89,379.41 L530.28,379.39 L530.67,379.36 L531.06,379.34 L531.46,379.32 L531.85,379.29 L532.24,379.27 L532.63,379.24 L533.03,379.22 L533.42,379.19 L533.81,379.17 L534.20,379.14 L534.59,379.11 L534.99,379.08 L535.38,379.05 L535.77,379.02 L536.16,378.99 L536.56,378.96 L536.95,378.93 L537.34,378.90 L537.73,378.87 L538.12,378.83 L538.52,378.80 L538.91,378.76 L539.30,378.73 L539.69,378.69 L540.08,378.65 L540.48,378.61 L540.87,378.57 L541.26,378.53 L541.65,378.49 L542.05,378.45 L542.44,378.40 L542.83,378.36 L543.22,378.31 L543.61,378.27 L544.01,378.22 L544.40,378.17 L544.79,378.12 L545.18,378.06 L545.57,378.01 L545.97,377.95 L546.36,377.90 L546.75,377.84 L547.14,377.78 L547.54,377.72 L547.93,377.65 L548.32,377.59 L548.71,377.52 L549.10,377.45 L549.50,377.38 L549.89,377.30 L550.28,377.23 L550.67,377.15 L551.06,377.07 L551.46,376.99 L551.85,376.90 L552.24,376.81 L552.63,376.72 L553.03,376.63 L553.42,376.53 L553.81,376.43 L554.20,376.33 L554.59,376.22 L554.99,376.11 L555.38,375.99 L555.77,375.88 L556.16,375.75 L556.55,375.63 L556.95,375.49 L557.34,375.36 L557.73,375.22 L558.12,375.07 L558.52,374.92 L558.91,374.76 L559.30,374.60 L559.69,374.43 L560.08,374.25 L560.48,374.06 L560.87,373.87 L561.26,373.67 L561.65,373.47 L562.04,373.25 L562.44,373.02 L562.83,372.79 L563.22,372.54 L563.61,372.29 L564.01,372.02 L564.40,371.74 L564.79,371.45 L565.18,371.14 L565.57,370.82 L565.97,370.48 L566.36,370.13 L566.75,369.76 L567.14,369.37 L567.54,368.97 L567.93,368.54 L568.32,368.09 L568.71,367.61 L569.10,367.11 L569.50,366.58 L569.89,366.03 L570.28,365.44 L570.67,364.82 L571.06,364.16 L571.46,363.47 L571.85,362.73 L572.24,361.95 L572.63,361.12 L573.03,360.24 L573.42,359.31 L573.81,358.32 L574.20,357.26 L574.59,356.13 L574.99,354.93 L575.38,353.65 L575.77,352.28 L576.16,350.82 L576.55,349.25 L576.95,347.58 L577.34,345.79 L577.73,343.88 L578.12,341.83 L578.52,339.64 L578.91,337.29 L579.30,334.78 L579.69,332.09 L580.08,329.22 L580.48,326.16 L580.87,322.91 L581.26,319.45 L581.65,315.79 L582.04,311.93 L582.44,307.88 L582.83,303.66 L583.22,299.29 L583.61,294.81 L584.01,290.27 L584.40,285.72 L584.79,281.25 L585.18,276.94 L585.57,272.89 L585.97,269.20 L586.36,265.98 L586.75,263.34 L587.14,261.37 L587.53,260.14 L587.93,259.71 L588.32,260.08 L588.71,261.25 L589.10,263.16 L589.50,265.75 L589.89,268.92 L590.28,272.58 L590.67,276.61 L591.06,280.90 L591.46,285.37 L591.85,289.91 L592.24,294.45 L592.63,298.94 L593.02,303.32 L593.42,307.55 L593.81,311.62 L594.20,315.49 L594.59,319.17 L594.99,322.64 L595.38,325.91 L595.77,328.99 L596.16,331.87 L596.55,334.57 L596.95,337.10 L597.34,339.46 L597.73,341.66 L598.12,343.72 L598.52,345.65 L598.91,347.45 L599.30,349.13 L599.69,350.70 L600.08,352.17 L600.48,353.54 L600.87,354.83 L601.26,356.04 L601.65,357.17 L602.04,358.23 L602.44,359.23 L602.83,360.17 L603.22,361.06 L603.61,361.89 L604.01,362.67 L604.40,363.41 L604.79,364.11 L605.18,364.77 L605.57,365.39 L605.97,365.98 L606.36,366.54 L606.75,367.07 L607.14,367.57 L607.53,368.05 L607.93,368.50 L608.32,368.93 L608.71,369.34 L609.10,369.73 L609.50,370.10 L609.89,370.46 L610.28,370.79 L610.67,371.12 L611.06,371.42 L611.46,371.72 L611.85,372.00 L612.24,372.27 L612.63,372.52 L613.02,372.77 L613.42,373.01 L613.81,373.23 L614.20,373.45 L614.59,373.66 L614.99,373.86 L615.38,374.05 L615.77,374.23 L616.16,374.41 L616.55,374.58 L616.95,374.75 L617.34,374.91 L617.73,375.06 L618.12,375.21 L618.51,375.35 L618.91,375.48 L619.30,375.62 L619.69,375.74 L620.08,375.87 L620.48,375.98 L620.87,376.10 L621.26,376.21 L621.65,376.32 L622.04,376.42 L622.44,376.52 L622.83,376.62 L623.22,376.71 L623.61,376.81 L624.00,376.89 L624.40,376.98 L624.79,377.06 L625.18,377.14 L625.57,377.22 L625.97,377.30 L626.36,377.37 L626.75,377.44 L627.14,377.51 L627.53,377.58 L627.93,377.65 L628.32,377.71 L628.71,377.77 L629.10,377.83 L629.50,377.89 L629.89,377.95 L630.28,378.00 L630.67,378.06 L631.06,378.11 L631.46,378.16 L631.85,378.21 L632.24,378.26 L632.63,378.31 L633.02,378.36 L633.42,378.40 L633.81,378.44 L634.20,378.49 L634.59,378.53 L634.99,378.57 L635.38,378.61 L635.77,378.65 L636.16,378.69 L636.55,378.72 L636.95,378.76 L637.34,378.80 L637.73,378.83 L638.12,378.86 L638.51,378.90 L638.91,378.93 L639.30,378.96 L639.69,378.99 L640.08,379.02 L640.48,379.05 L640.87,379.08 L641.26,379.11 L641.65,379.14 L642.04,379.16 L642.44,379.19 L642.83,379.22 L643.22,379.24 L643.61,379.27 L644.00,379.29 L644.40,379.31 L644.79,379.34 L645.18,379.36 L645.57,379.38 L645.97,379.41 L646.36,379.43 L646.75,379.45 L647.14,379.47 L647.53,379.49 L647.93,379.51 L648.32,379.53 L648.71,379.55 L649.10,379.57 L649.49,379.59 L649.89,379.60 L650.28,379.62 L650.67,379.64 L651.06,379.66 L651.46,379.67 L651.85,379.69 L652.24,379.71 L652.63,379.72 L653.02,379.74 L653.42,379.75 L653.81,379.77 L654.20,379.78 L654.59,379.80 L654.98,379.81 L655.38,379.83 L655.77,379.84 L656.16,379.85 L656.55,379.87 L656.95,379.88 L657.34,379.89 L657.73,379.91 L658.12,379.92 L658.51,379.93 L658.91,379.94 L659.30,379.96 L659.69,379.97 L660.08,379.98 L660.47,379.99 L660.87,380.00 L661.26,380.01 L661.65,380.02 L662.04,380.03 L662.44,380.04 L662.83,380.05 L663.22,380.06 L663.61,380.07 L664.00,380.08 L664.40,380.09 L664.79,380.10 L665.18,380.11 L665.57,380.12 L665.97,380.13 L666.36,380.14 L666.75,380.15 L667.14,380.16 L667.53,380.17 L667.93,380.18 L668.32,380.18 L668.71,380.19 L669.10,380.20 L669.49,380.21 L669.89,380.22 L670.28,380.22 L670.67,380.23 L671.06,380.24 L671.46,380.25 L671.85,380.25 L672.24,380.26 L672.63,380.27 L673.02,380.28 L673.42,380.28 L673.81,380.29 L674.20,380.30 L674.59,380.30 L674.98,380.31 L675.38,380.32 L675.77,380.32 L676.16,380.33 L676.55,380.34 L676.95,380.34 L677.34,380.35 L677.73,380.35 L678.12,380.36 L678.51,380.37 L678.91,380.37 L679.30,380.38 L679.69,380.38 L680.08,380.39 L680.47,380.39 L680.87,380.40 L681.26,380.40 L681.65,380.41 L682.04,380.41 L682.44,380.42 L682.83,380.43 L683.22,380.43 L683.61,380.44 L684.00,380.44 L684.40,380.44 L684.79,380.45 L685.18,380.45 L685.57,380.46 L685.96,380.46 L686.36,380.47" fill="none" stroke="#ff7f0e" stroke-width="1.5" stroke-linejoin="round" stroke-dasharray="1.6 1.61" clip-path="url(#clipd)"/>
<line x1="413.60" y1="428.3" x2="413.60" y2="431.3" stroke="#1a1a1a" stroke-width="0.95"/>
<text x="413.60" y="442.20" font-size="9.8" text-anchor="middle"><tspan dy="0.00">400</tspan></text>
<line x1="447.53" y1="428.3" x2="447.53" y2="431.3" stroke="#1a1a1a" stroke-width="0.95"/>
<text x="447.53" y="442.20" font-size="9.8" text-anchor="middle"><tspan dy="0.00">425</tspan></text>
<line x1="481.45" y1="428.3" x2="481.45" y2="431.3" stroke="#1a1a1a" stroke-width="0.95"/>
<text x="481.45" y="442.20" font-size="9.8" text-anchor="middle"><tspan dy="0.00">450</tspan></text>
<line x1="515.38" y1="428.3" x2="515.38" y2="431.3" stroke="#1a1a1a" stroke-width="0.95"/>
<text x="515.38" y="442.20" font-size="9.8" text-anchor="middle"><tspan dy="0.00">475</tspan></text>
<line x1="549.30" y1="428.3" x2="549.30" y2="431.3" stroke="#1a1a1a" stroke-width="0.95"/>
<text x="549.30" y="442.20" font-size="9.8" text-anchor="middle"><tspan dy="0.00">500</tspan></text>
<line x1="583.23" y1="428.3" x2="583.23" y2="431.3" stroke="#1a1a1a" stroke-width="0.95"/>
<text x="583.23" y="442.20" font-size="9.8" text-anchor="middle"><tspan dy="0.00">525</tspan></text>
<line x1="617.15" y1="428.3" x2="617.15" y2="431.3" stroke="#1a1a1a" stroke-width="0.95"/>
<text x="617.15" y="442.20" font-size="9.8" text-anchor="middle"><tspan dy="0.00">550</tspan></text>
<line x1="651.08" y1="428.3" x2="651.08" y2="431.3" stroke="#1a1a1a" stroke-width="0.95"/>
<text x="651.08" y="442.20" font-size="9.8" text-anchor="middle"><tspan dy="0.00">575</tspan></text>
<line x1="685.00" y1="428.3" x2="685.00" y2="431.3" stroke="#1a1a1a" stroke-width="0.95"/>
<text x="685.00" y="442.20" font-size="9.8" text-anchor="middle"><tspan dy="0.00">600</tspan></text>
<line x1="410.6" y1="408.90" x2="413.6" y2="408.90" stroke="#1a1a1a" stroke-width="0.95"/>
<text x="408.00" y="412.90" font-size="9.8" text-anchor="end"><tspan dy="0.00">−1</tspan></text>
<line x1="410.6" y1="381.04" x2="413.6" y2="381.04" stroke="#1a1a1a" stroke-width="0.95"/>
<text x="408.00" y="385.04" font-size="9.8" text-anchor="end"><tspan dy="0.00">0</tspan></text>
<line x1="410.6" y1="353.18" x2="413.6" y2="353.18" stroke="#1a1a1a" stroke-width="0.95"/>
<text x="408.00" y="357.18" font-size="9.8" text-anchor="end"><tspan dy="0.00">1</tspan></text>
<line x1="410.6" y1="325.32" x2="413.6" y2="325.32" stroke="#1a1a1a" stroke-width="0.95"/>
<text x="408.00" y="329.32" font-size="9.8" text-anchor="end"><tspan dy="0.00">2</tspan></text>
<line x1="410.6" y1="297.46" x2="413.6" y2="297.46" stroke="#1a1a1a" stroke-width="0.95"/>
<text x="408.00" y="301.46" font-size="9.8" text-anchor="end"><tspan dy="0.00">3</tspan></text>
<line x1="410.6" y1="269.60" x2="413.6" y2="269.60" stroke="#1a1a1a" stroke-width="0.95"/>
<text x="408.00" y="273.60" font-size="9.8" text-anchor="end"><tspan dy="0.00">4</tspan></text>
<rect x="413.6" y="252.0" width="271.40" height="176.30" fill="none" stroke="#1a1a1a" stroke-width="0.95"/>
<text x="549.30" y="458.40" font-size="10.7" text-anchor="middle"><tspan dy="0.00">wavenumber [cm</tspan><tspan dy="-3.85" font-size="7.49">−1</tspan><tspan dy="3.85" dx="0.48">]</tspan></text>
<text x="659.80" y="272.30" font-size="16.5" text-anchor="start"><tspan dy="0.00">(d)</tspan></text>
<text x="387.00" y="375.90" font-size="11.0" text-anchor="start" transform="rotate(-90 387.00 375.90)"><tspan dy="0.00" font-style="italic">E</tspan><tspan dy="2.09" font-size="7.81">ph</tspan><tspan dy="0.00" dx="0.88" font-size="7.81">−</tspan><tspan dy="0.00" dx="0.88" font-size="7.81">leg</tspan><tspan dy="-2.09" dx="1.60">/</tspan><tspan dy="0.00" dx="0.66" font-style="italic">E</tspan><tspan dy="2.09" font-size="7.81">a</tspan></text>
<line x1="420.70" y1="262.50" x2="441.80" y2="262.50" stroke="#1f77b4" stroke-width="1.5"/>
<line x1="420.70" y1="265.40" x2="441.80" y2="265.40" stroke="#1f77b4" stroke-width="1.5" stroke-dasharray="1.6 1.61"/>
<text x="444.80" y="268.80" font-size="10.9" text-anchor="start"><tspan dy="0.00">Re</tspan><tspan dy="0.00" dx="2.07" font-style="italic">E</tspan><tspan dy="2.07" font-size="7.74">ph</tspan><tspan dy="0.00" dx="0.76" font-size="7.74">−</tspan><tspan dy="0.00" dx="0.76" font-size="7.74">leg</tspan><tspan dy="-2.07" dx="1.91">/</tspan><tspan dy="0.00" dx="1.74" font-style="italic">E</tspan><tspan dy="2.07" font-size="7.74">a</tspan></text>
<line x1="420.70" y1="277.80" x2="441.80" y2="277.80" stroke="#ff7f0e" stroke-width="1.5"/>
<line x1="420.70" y1="280.70" x2="441.80" y2="280.70" stroke="#ff7f0e" stroke-width="1.5" stroke-dasharray="1.6 1.61"/>
<text x="444.80" y="284.40" font-size="10.9" text-anchor="start"><tspan dy="0.00">Im</tspan><tspan dy="0.00" dx="2.07" font-style="italic">E</tspan><tspan dy="2.07" font-size="7.74">ph</tspan><tspan dy="0.00" dx="0.76" font-size="7.74">−</tspan><tspan dy="0.00" dx="0.76" font-size="7.74">leg</tspan><tspan dy="-2.07" dx="1.91">/</tspan><tspan dy="0.00" dx="1.74" font-style="italic">E</tspan><tspan dy="2.07" font-size="7.74">a</tspan></text>
</svg>
</body></html>
